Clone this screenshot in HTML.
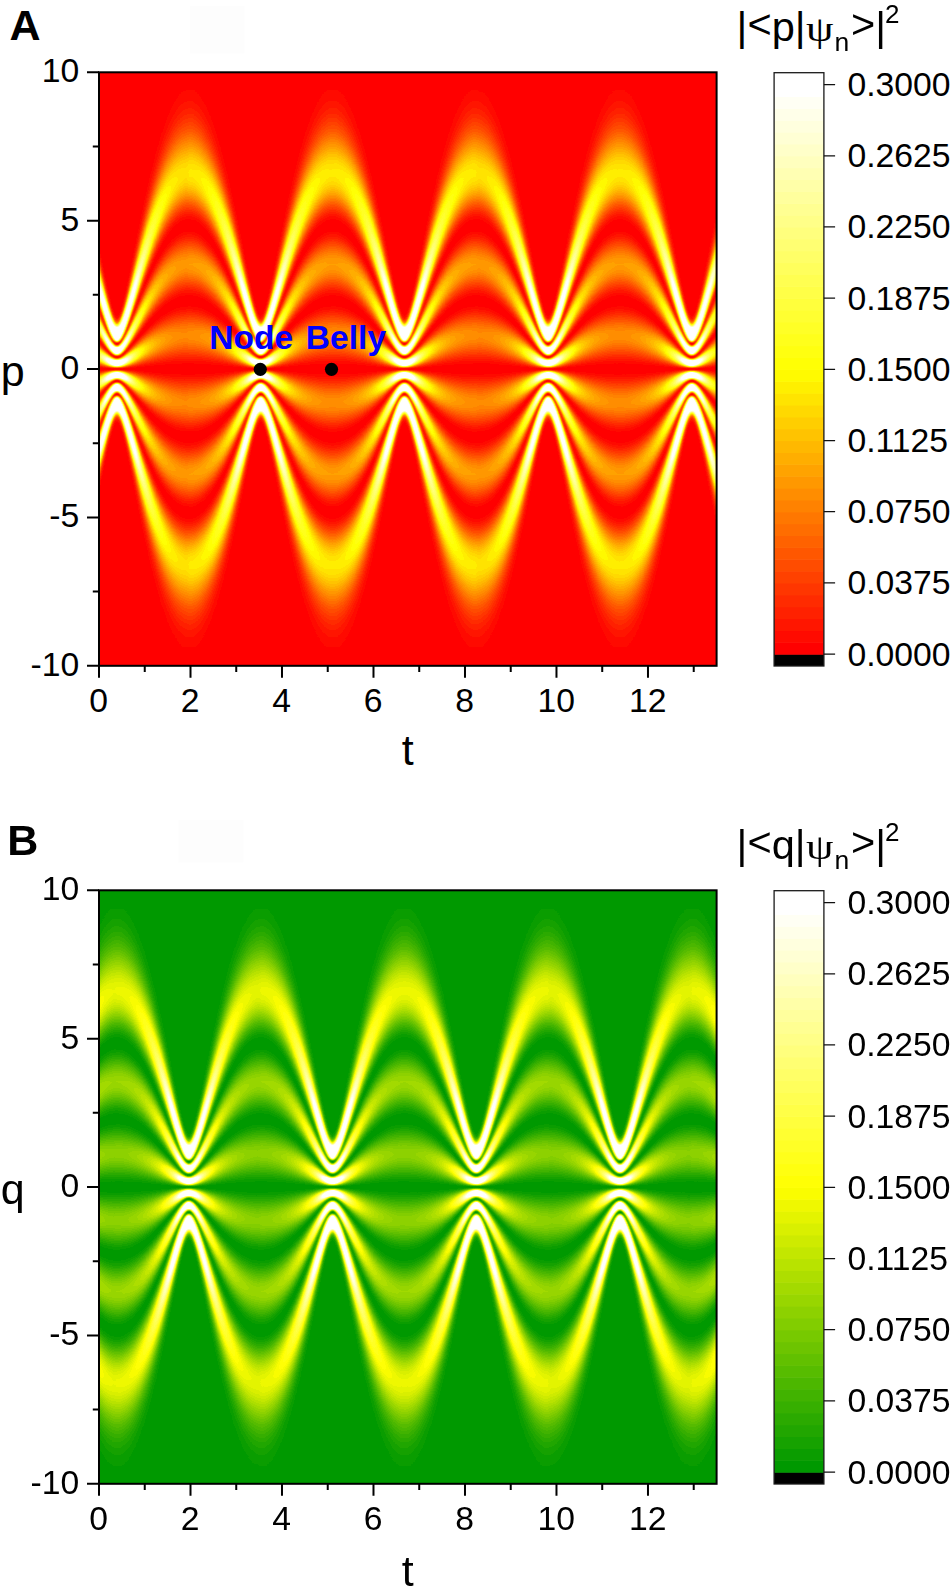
<!DOCTYPE html>
<html lang="en"><head><meta charset="utf-8"><title>Figure</title>
<style>html,body{margin:0;padding:0;background:#fff}svg{display:block}</style></head>
<body>
<svg width="952" height="1589" viewBox="0 0 952 1589" font-family="'Liberation Sans',Arial,sans-serif" fill="#000">
<defs>
<linearGradient id="g0" gradientUnits="userSpaceOnUse" x1="0" y1="0" x2="0" y2="-296.750" spreadMethod="reflect"><stop offset="0" stop-color="#000000"/><stop offset=".012" stop-color="#020202"/><stop offset=".0185" stop-color="#040404"/><stop offset=".025" stop-color="#080808"/><stop offset=".04" stop-color="#131313"/><stop offset=".071" stop-color="#2f2f2f"/><stop offset=".0845" stop-color="#393939"/><stop offset=".092" stop-color="#3e3e3e"/><stop offset=".0995" stop-color="#414141"/><stop offset=".107" stop-color="#434343"/><stop offset=".114" stop-color="#444444"/><stop offset=".121" stop-color="#434343"/><stop offset=".1285" stop-color="#414141"/><stop offset=".136" stop-color="#3e3e3e"/><stop offset=".1435" stop-color="#3a3a3a"/><stop offset=".1575" stop-color="#2f2f2f"/><stop offset=".1905" stop-color="#121212"/><stop offset=".199" stop-color="#0b0b0b"/><stop offset=".207" stop-color="#060606"/><stop offset=".215" stop-color="#030303"/><stop offset=".223" stop-color="#010101"/><stop offset=".2305" stop-color="#000000"/><stop offset=".2385" stop-color="#010101"/><stop offset=".245" stop-color="#030303"/><stop offset=".2515" stop-color="#060606"/><stop offset=".265" stop-color="#0e0e0e"/><stop offset=".278" stop-color="#191919"/><stop offset=".308" stop-color="#343434"/><stop offset=".324" stop-color="#414141"/><stop offset=".332" stop-color="#454545"/><stop offset=".3395" stop-color="#484848"/><stop offset=".347" stop-color="#4a4a4a"/><stop offset=".354" stop-color="#4b4b4b"/><stop offset=".3615" stop-color="#4a4a4a"/><stop offset=".3695" stop-color="#484848"/><stop offset=".378" stop-color="#444444"/><stop offset=".3865" stop-color="#3f3f3f"/><stop offset=".402" stop-color="#343434"/><stop offset=".4385" stop-color="#141414"/><stop offset=".4485" stop-color="#0d0d0d"/><stop offset=".4575" stop-color="#070707"/><stop offset=".4665" stop-color="#030303"/><stop offset=".4755" stop-color="#010101"/><stop offset=".4845" stop-color="#000000"/><stop offset=".493" stop-color="#010101"/><stop offset=".5015" stop-color="#030303"/><stop offset=".5105" stop-color="#070707"/><stop offset=".5195" stop-color="#0c0c0c"/><stop offset=".529" stop-color="#131313"/><stop offset=".5465" stop-color="#222222"/><stop offset=".5895" stop-color="#4c4c4c"/><stop offset=".602" stop-color="#575757"/><stop offset=".6135" stop-color="#5f5f5f"/><stop offset=".6255" stop-color="#666666"/><stop offset=".6375" stop-color="#6b6b6b"/><stop offset=".6495" stop-color="#6e6e6e"/><stop offset=".6615" stop-color="#6f6f6f"/><stop offset=".672" stop-color="#6e6e6e"/><stop offset=".683" stop-color="#6c6c6c"/><stop offset=".6945" stop-color="#686868"/><stop offset=".7065" stop-color="#636363"/><stop offset=".729" stop-color="#575757"/><stop offset=".779" stop-color="#393939"/><stop offset=".803" stop-color="#2b2b2b"/><stop offset=".8295" stop-color="#1f1f1f"/><stop offset=".8555" stop-color="#151515"/><stop offset=".885" stop-color="#0d0d0d"/><stop offset=".9175" stop-color="#070707"/><stop offset=".9545" stop-color="#030303"/><stop offset="1" stop-color="#010101"/></linearGradient>
<linearGradient id="g1" gradientUnits="userSpaceOnUse" x1="0" y1="0" x2="0" y2="-296.750" spreadMethod="reflect"><stop offset="0" stop-color="#000000"/><stop offset=".012" stop-color="#020202"/><stop offset=".0185" stop-color="#040404"/><stop offset=".025" stop-color="#080808"/><stop offset=".04" stop-color="#131313"/><stop offset=".0705" stop-color="#2e2e2e"/><stop offset=".0845" stop-color="#393939"/><stop offset=".092" stop-color="#3e3e3e"/><stop offset=".0995" stop-color="#414141"/><stop offset=".107" stop-color="#434343"/><stop offset=".114" stop-color="#444444"/><stop offset=".121" stop-color="#434343"/><stop offset=".1285" stop-color="#414141"/><stop offset=".136" stop-color="#3e3e3e"/><stop offset=".1435" stop-color="#3a3a3a"/><stop offset=".1575" stop-color="#2f2f2f"/><stop offset=".19" stop-color="#121212"/><stop offset=".1985" stop-color="#0b0b0b"/><stop offset=".2065" stop-color="#070707"/><stop offset=".2145" stop-color="#030303"/><stop offset=".2225" stop-color="#010101"/><stop offset=".2305" stop-color="#000000"/><stop offset=".2385" stop-color="#010101"/><stop offset=".245" stop-color="#030303"/><stop offset=".2515" stop-color="#060606"/><stop offset=".265" stop-color="#0e0e0e"/><stop offset=".2775" stop-color="#181818"/><stop offset=".308" stop-color="#353535"/><stop offset=".324" stop-color="#414141"/><stop offset=".332" stop-color="#454545"/><stop offset=".3395" stop-color="#484848"/><stop offset=".347" stop-color="#4a4a4a"/><stop offset=".354" stop-color="#4b4b4b"/><stop offset=".3615" stop-color="#4a4a4a"/><stop offset=".3695" stop-color="#484848"/><stop offset=".378" stop-color="#444444"/><stop offset=".3865" stop-color="#3f3f3f"/><stop offset=".402" stop-color="#343434"/><stop offset=".438" stop-color="#141414"/><stop offset=".448" stop-color="#0d0d0d"/><stop offset=".457" stop-color="#080808"/><stop offset=".4665" stop-color="#030303"/><stop offset=".4755" stop-color="#010101"/><stop offset=".4845" stop-color="#000000"/><stop offset=".493" stop-color="#010101"/><stop offset=".5015" stop-color="#030303"/><stop offset=".5105" stop-color="#070707"/><stop offset=".5195" stop-color="#0c0c0c"/><stop offset=".529" stop-color="#131313"/><stop offset=".546" stop-color="#222222"/><stop offset=".5895" stop-color="#4c4c4c"/><stop offset=".602" stop-color="#575757"/><stop offset=".6135" stop-color="#5f5f5f"/><stop offset=".6255" stop-color="#666666"/><stop offset=".6375" stop-color="#6b6b6b"/><stop offset=".649" stop-color="#6e6e6e"/><stop offset=".661" stop-color="#6f6f6f"/><stop offset=".6715" stop-color="#6e6e6e"/><stop offset=".6825" stop-color="#6c6c6c"/><stop offset=".694" stop-color="#686868"/><stop offset=".706" stop-color="#636363"/><stop offset=".7285" stop-color="#575757"/><stop offset=".7785" stop-color="#393939"/><stop offset=".8025" stop-color="#2b2b2b"/><stop offset=".829" stop-color="#1f1f1f"/><stop offset=".8555" stop-color="#151515"/><stop offset=".885" stop-color="#0d0d0d"/><stop offset=".9175" stop-color="#070707"/><stop offset=".9545" stop-color="#030303"/><stop offset="1" stop-color="#010101"/></linearGradient>
<linearGradient id="g2" gradientUnits="userSpaceOnUse" x1="0" y1="0" x2="0" y2="-296.750" spreadMethod="reflect"><stop offset="0" stop-color="#000000"/><stop offset=".007" stop-color="#010101"/><stop offset=".014" stop-color="#020202"/><stop offset=".0215" stop-color="#060606"/><stop offset=".029" stop-color="#0a0a0a"/><stop offset=".043" stop-color="#151515"/><stop offset=".074" stop-color="#313131"/><stop offset=".089" stop-color="#3c3c3c"/><stop offset=".1015" stop-color="#424242"/><stop offset=".108" stop-color="#434343"/><stop offset=".114" stop-color="#444444"/><stop offset=".121" stop-color="#434343"/><stop offset=".1285" stop-color="#414141"/><stop offset=".136" stop-color="#3e3e3e"/><stop offset=".1435" stop-color="#393939"/><stop offset=".1575" stop-color="#2f2f2f"/><stop offset=".19" stop-color="#121212"/><stop offset=".1985" stop-color="#0b0b0b"/><stop offset=".2065" stop-color="#060606"/><stop offset=".2145" stop-color="#030303"/><stop offset=".2225" stop-color="#010101"/><stop offset=".2305" stop-color="#000000"/><stop offset=".2385" stop-color="#010101"/><stop offset=".245" stop-color="#030303"/><stop offset=".2515" stop-color="#060606"/><stop offset=".265" stop-color="#0e0e0e"/><stop offset=".2775" stop-color="#191919"/><stop offset=".3075" stop-color="#353535"/><stop offset=".3235" stop-color="#414141"/><stop offset=".3315" stop-color="#454545"/><stop offset=".339" stop-color="#484848"/><stop offset=".3465" stop-color="#4a4a4a"/><stop offset=".3535" stop-color="#4b4b4b"/><stop offset=".361" stop-color="#4a4a4a"/><stop offset=".369" stop-color="#484848"/><stop offset=".3775" stop-color="#444444"/><stop offset=".386" stop-color="#3f3f3f"/><stop offset=".4015" stop-color="#343434"/><stop offset=".4375" stop-color="#141414"/><stop offset=".4475" stop-color="#0d0d0d"/><stop offset=".4565" stop-color="#080808"/><stop offset=".466" stop-color="#030303"/><stop offset=".475" stop-color="#010101"/><stop offset=".484" stop-color="#000000"/><stop offset=".4925" stop-color="#010101"/><stop offset=".501" stop-color="#030303"/><stop offset=".5095" stop-color="#060606"/><stop offset=".5185" stop-color="#0c0c0c"/><stop offset=".528" stop-color="#121212"/><stop offset=".5455" stop-color="#222222"/><stop offset=".589" stop-color="#4c4c4c"/><stop offset=".6015" stop-color="#575757"/><stop offset=".613" stop-color="#5f5f5f"/><stop offset=".625" stop-color="#666666"/><stop offset=".637" stop-color="#6b6b6b"/><stop offset=".6485" stop-color="#6e6e6e"/><stop offset=".6605" stop-color="#6f6f6f"/><stop offset=".671" stop-color="#6e6e6e"/><stop offset=".682" stop-color="#6c6c6c"/><stop offset=".6935" stop-color="#686868"/><stop offset=".7055" stop-color="#636363"/><stop offset=".728" stop-color="#575757"/><stop offset=".778" stop-color="#393939"/><stop offset=".802" stop-color="#2b2b2b"/><stop offset=".8285" stop-color="#1f1f1f"/><stop offset=".8545" stop-color="#151515"/><stop offset=".8845" stop-color="#0d0d0d"/><stop offset=".917" stop-color="#070707"/><stop offset=".954" stop-color="#030303"/><stop offset="1" stop-color="#010101"/></linearGradient>
<linearGradient id="g3" gradientUnits="userSpaceOnUse" x1="0" y1="0" x2="0" y2="-296.750" spreadMethod="reflect"><stop offset="0" stop-color="#000000"/><stop offset=".007" stop-color="#010101"/><stop offset=".014" stop-color="#030303"/><stop offset=".0215" stop-color="#060606"/><stop offset=".029" stop-color="#0a0a0a"/><stop offset=".043" stop-color="#151515"/><stop offset=".074" stop-color="#313131"/><stop offset=".089" stop-color="#3c3c3c"/><stop offset=".1015" stop-color="#424242"/><stop offset=".108" stop-color="#434343"/><stop offset=".114" stop-color="#444444"/><stop offset=".121" stop-color="#434343"/><stop offset=".1285" stop-color="#414141"/><stop offset=".136" stop-color="#3e3e3e"/><stop offset=".1435" stop-color="#393939"/><stop offset=".1575" stop-color="#2f2f2f"/><stop offset=".1895" stop-color="#121212"/><stop offset=".198" stop-color="#0c0c0c"/><stop offset=".206" stop-color="#070707"/><stop offset=".214" stop-color="#030303"/><stop offset=".222" stop-color="#010101"/><stop offset=".23" stop-color="#000000"/><stop offset=".238" stop-color="#010101"/><stop offset=".2445" stop-color="#030303"/><stop offset=".251" stop-color="#060606"/><stop offset=".2645" stop-color="#0e0e0e"/><stop offset=".277" stop-color="#191919"/><stop offset=".3075" stop-color="#353535"/><stop offset=".323" stop-color="#414141"/><stop offset=".331" stop-color="#454545"/><stop offset=".3385" stop-color="#484848"/><stop offset=".346" stop-color="#4a4a4a"/><stop offset=".353" stop-color="#4b4b4b"/><stop offset=".3605" stop-color="#4a4a4a"/><stop offset=".3685" stop-color="#484848"/><stop offset=".377" stop-color="#444444"/><stop offset=".3855" stop-color="#3f3f3f"/><stop offset=".401" stop-color="#343434"/><stop offset=".437" stop-color="#141414"/><stop offset=".447" stop-color="#0d0d0d"/><stop offset=".456" stop-color="#080808"/><stop offset=".465" stop-color="#030303"/><stop offset=".474" stop-color="#010101"/><stop offset=".483" stop-color="#000000"/><stop offset=".4915" stop-color="#010101"/><stop offset=".5" stop-color="#030303"/><stop offset=".509" stop-color="#070707"/><stop offset=".518" stop-color="#0c0c0c"/><stop offset=".5275" stop-color="#131313"/><stop offset=".545" stop-color="#222222"/><stop offset=".588" stop-color="#4c4c4c"/><stop offset=".6005" stop-color="#575757"/><stop offset=".612" stop-color="#5f5f5f"/><stop offset=".624" stop-color="#666666"/><stop offset=".636" stop-color="#6b6b6b"/><stop offset=".6475" stop-color="#6e6e6e"/><stop offset=".6595" stop-color="#6f6f6f"/><stop offset=".67" stop-color="#6e6e6e"/><stop offset=".681" stop-color="#6c6c6c"/><stop offset=".6925" stop-color="#696969"/><stop offset=".7045" stop-color="#646464"/><stop offset=".727" stop-color="#585858"/><stop offset=".777" stop-color="#393939"/><stop offset=".801" stop-color="#2b2b2b"/><stop offset=".8275" stop-color="#1f1f1f"/><stop offset=".854" stop-color="#151515"/><stop offset=".884" stop-color="#0d0d0d"/><stop offset=".9165" stop-color="#070707"/><stop offset=".954" stop-color="#030303"/><stop offset="1" stop-color="#010101"/></linearGradient>
<linearGradient id="g4" gradientUnits="userSpaceOnUse" x1="0" y1="0" x2="0" y2="-296.750" spreadMethod="reflect"><stop offset="0" stop-color="#000000"/><stop offset=".006" stop-color="#000000"/><stop offset=".012" stop-color="#020202"/><stop offset=".0185" stop-color="#040404"/><stop offset=".025" stop-color="#080808"/><stop offset=".0395" stop-color="#121212"/><stop offset=".0705" stop-color="#2f2f2f"/><stop offset=".0845" stop-color="#3a3a3a"/><stop offset=".092" stop-color="#3e3e3e"/><stop offset=".0995" stop-color="#414141"/><stop offset=".1065" stop-color="#434343"/><stop offset=".1135" stop-color="#444444"/><stop offset=".1205" stop-color="#434343"/><stop offset=".128" stop-color="#414141"/><stop offset=".1355" stop-color="#3e3e3e"/><stop offset=".143" stop-color="#3a3a3a"/><stop offset=".157" stop-color="#2f2f2f"/><stop offset=".1895" stop-color="#121212"/><stop offset=".198" stop-color="#0b0b0b"/><stop offset=".206" stop-color="#060606"/><stop offset=".214" stop-color="#030303"/><stop offset=".222" stop-color="#010101"/><stop offset=".2295" stop-color="#000000"/><stop offset=".2375" stop-color="#010101"/><stop offset=".244" stop-color="#030303"/><stop offset=".2505" stop-color="#060606"/><stop offset=".264" stop-color="#0e0e0e"/><stop offset=".2765" stop-color="#191919"/><stop offset=".307" stop-color="#353535"/><stop offset=".3225" stop-color="#414141"/><stop offset=".3305" stop-color="#454545"/><stop offset=".338" stop-color="#494949"/><stop offset=".3455" stop-color="#4a4a4a"/><stop offset=".3525" stop-color="#4b4b4b"/><stop offset=".36" stop-color="#4a4a4a"/><stop offset=".368" stop-color="#484848"/><stop offset=".376" stop-color="#454545"/><stop offset=".3845" stop-color="#404040"/><stop offset=".4" stop-color="#343434"/><stop offset=".4365" stop-color="#141414"/><stop offset=".446" stop-color="#0d0d0d"/><stop offset=".455" stop-color="#080808"/><stop offset=".464" stop-color="#040404"/><stop offset=".473" stop-color="#010101"/><stop offset=".482" stop-color="#000000"/><stop offset=".4905" stop-color="#010101"/><stop offset=".499" stop-color="#030303"/><stop offset=".508" stop-color="#070707"/><stop offset=".517" stop-color="#0c0c0c"/><stop offset=".5265" stop-color="#131313"/><stop offset=".544" stop-color="#222222"/><stop offset=".587" stop-color="#4d4d4d"/><stop offset=".5995" stop-color="#575757"/><stop offset=".611" stop-color="#606060"/><stop offset=".623" stop-color="#666666"/><stop offset=".635" stop-color="#6b6b6b"/><stop offset=".6465" stop-color="#6e6e6e"/><stop offset=".6585" stop-color="#6f6f6f"/><stop offset=".669" stop-color="#6e6e6e"/><stop offset=".6795" stop-color="#6c6c6c"/><stop offset=".691" stop-color="#696969"/><stop offset=".703" stop-color="#646464"/><stop offset=".7255" stop-color="#585858"/><stop offset=".7755" stop-color="#393939"/><stop offset=".7995" stop-color="#2b2b2b"/><stop offset=".826" stop-color="#1f1f1f"/><stop offset=".8525" stop-color="#151515"/><stop offset=".8825" stop-color="#0d0d0d"/><stop offset=".9155" stop-color="#070707"/><stop offset=".953" stop-color="#030303"/><stop offset="1" stop-color="#010101"/></linearGradient>
<linearGradient id="g5" gradientUnits="userSpaceOnUse" x1="0" y1="0" x2="0" y2="-296.750" spreadMethod="reflect"><stop offset="0" stop-color="#000000"/><stop offset=".007" stop-color="#010101"/><stop offset=".014" stop-color="#030303"/><stop offset=".0215" stop-color="#060606"/><stop offset=".029" stop-color="#0a0a0a"/><stop offset=".043" stop-color="#161616"/><stop offset=".0735" stop-color="#313131"/><stop offset=".0885" stop-color="#3c3c3c"/><stop offset=".101" stop-color="#424242"/><stop offset=".1075" stop-color="#444444"/><stop offset=".1135" stop-color="#444444"/><stop offset=".1205" stop-color="#444444"/><stop offset=".1275" stop-color="#424242"/><stop offset=".135" stop-color="#3e3e3e"/><stop offset=".1425" stop-color="#3a3a3a"/><stop offset=".1565" stop-color="#2f2f2f"/><stop offset=".189" stop-color="#121212"/><stop offset=".1975" stop-color="#0b0b0b"/><stop offset=".2055" stop-color="#060606"/><stop offset=".2135" stop-color="#030303"/><stop offset=".2215" stop-color="#010101"/><stop offset=".229" stop-color="#000000"/><stop offset=".237" stop-color="#010101"/><stop offset=".2495" stop-color="#050505"/><stop offset=".263" stop-color="#0e0e0e"/><stop offset=".276" stop-color="#191919"/><stop offset=".306" stop-color="#353535"/><stop offset=".3215" stop-color="#414141"/><stop offset=".3295" stop-color="#464646"/><stop offset=".337" stop-color="#494949"/><stop offset=".3445" stop-color="#4b4b4b"/><stop offset=".3515" stop-color="#4b4b4b"/><stop offset=".359" stop-color="#4a4a4a"/><stop offset=".367" stop-color="#484848"/><stop offset=".375" stop-color="#454545"/><stop offset=".3835" stop-color="#404040"/><stop offset=".399" stop-color="#343434"/><stop offset=".4355" stop-color="#141414"/><stop offset=".445" stop-color="#0d0d0d"/><stop offset=".454" stop-color="#080808"/><stop offset=".463" stop-color="#040404"/><stop offset=".472" stop-color="#010101"/><stop offset=".481" stop-color="#000000"/><stop offset=".4895" stop-color="#010101"/><stop offset=".498" stop-color="#030303"/><stop offset=".5065" stop-color="#060606"/><stop offset=".5155" stop-color="#0c0c0c"/><stop offset=".525" stop-color="#131313"/><stop offset=".5425" stop-color="#222222"/><stop offset=".5855" stop-color="#4d4d4d"/><stop offset=".598" stop-color="#575757"/><stop offset=".6095" stop-color="#606060"/><stop offset=".6215" stop-color="#676767"/><stop offset=".6335" stop-color="#6c6c6c"/><stop offset=".645" stop-color="#6f6f6f"/><stop offset=".657" stop-color="#6f6f6f"/><stop offset=".6675" stop-color="#6f6f6f"/><stop offset=".678" stop-color="#6d6d6d"/><stop offset=".6895" stop-color="#696969"/><stop offset=".7015" stop-color="#646464"/><stop offset=".724" stop-color="#585858"/><stop offset=".7735" stop-color="#393939"/><stop offset=".798" stop-color="#2b2b2b"/><stop offset=".8245" stop-color="#1f1f1f"/><stop offset=".851" stop-color="#151515"/><stop offset=".8815" stop-color="#0c0c0c"/><stop offset=".9145" stop-color="#070707"/><stop offset=".9525" stop-color="#030303"/><stop offset="1" stop-color="#010101"/></linearGradient>
<linearGradient id="g6" gradientUnits="userSpaceOnUse" x1="0" y1="0" x2="0" y2="-296.750" spreadMethod="reflect"><stop offset="0" stop-color="#000000"/><stop offset=".006" stop-color="#000000"/><stop offset=".012" stop-color="#020202"/><stop offset=".0185" stop-color="#040404"/><stop offset=".025" stop-color="#080808"/><stop offset=".0395" stop-color="#131313"/><stop offset=".07" stop-color="#2f2f2f"/><stop offset=".084" stop-color="#3a3a3a"/><stop offset=".0915" stop-color="#3e3e3e"/><stop offset=".099" stop-color="#424242"/><stop offset=".106" stop-color="#444444"/><stop offset=".113" stop-color="#444444"/><stop offset=".12" stop-color="#444444"/><stop offset=".127" stop-color="#424242"/><stop offset=".1345" stop-color="#3f3f3f"/><stop offset=".142" stop-color="#3a3a3a"/><stop offset=".156" stop-color="#2f2f2f"/><stop offset=".1885" stop-color="#121212"/><stop offset=".197" stop-color="#0b0b0b"/><stop offset=".205" stop-color="#060606"/><stop offset=".213" stop-color="#030303"/><stop offset=".221" stop-color="#010101"/><stop offset=".2285" stop-color="#000000"/><stop offset=".2365" stop-color="#010101"/><stop offset=".249" stop-color="#060606"/><stop offset=".2625" stop-color="#0e0e0e"/><stop offset=".275" stop-color="#191919"/><stop offset=".305" stop-color="#353535"/><stop offset=".3205" stop-color="#414141"/><stop offset=".3285" stop-color="#464646"/><stop offset=".336" stop-color="#494949"/><stop offset=".3435" stop-color="#4b4b4b"/><stop offset=".3505" stop-color="#4b4b4b"/><stop offset=".358" stop-color="#4b4b4b"/><stop offset=".366" stop-color="#494949"/><stop offset=".374" stop-color="#454545"/><stop offset=".3825" stop-color="#404040"/><stop offset=".398" stop-color="#343434"/><stop offset=".4345" stop-color="#141414"/><stop offset=".444" stop-color="#0d0d0d"/><stop offset=".453" stop-color="#080808"/><stop offset=".462" stop-color="#030303"/><stop offset=".471" stop-color="#010101"/><stop offset=".4795" stop-color="#000000"/><stop offset=".488" stop-color="#010101"/><stop offset=".4965" stop-color="#030303"/><stop offset=".505" stop-color="#060606"/><stop offset=".514" stop-color="#0c0c0c"/><stop offset=".5235" stop-color="#131313"/><stop offset=".541" stop-color="#222222"/><stop offset=".584" stop-color="#4d4d4d"/><stop offset=".5965" stop-color="#585858"/><stop offset=".608" stop-color="#606060"/><stop offset=".62" stop-color="#676767"/><stop offset=".6315" stop-color="#6c6c6c"/><stop offset=".643" stop-color="#6f6f6f"/><stop offset=".655" stop-color="#707070"/><stop offset=".6655" stop-color="#6f6f6f"/><stop offset=".676" stop-color="#6d6d6d"/><stop offset=".6875" stop-color="#696969"/><stop offset=".6995" stop-color="#646464"/><stop offset=".7215" stop-color="#585858"/><stop offset=".7715" stop-color="#393939"/><stop offset=".796" stop-color="#2b2b2b"/><stop offset=".823" stop-color="#1e1e1e"/><stop offset=".8495" stop-color="#141414"/><stop offset=".88" stop-color="#0c0c0c"/><stop offset=".9135" stop-color="#070707"/><stop offset=".952" stop-color="#030303"/><stop offset="1" stop-color="#010101"/></linearGradient>
<linearGradient id="g7" gradientUnits="userSpaceOnUse" x1="0" y1="0" x2="0" y2="-296.750" spreadMethod="reflect"><stop offset="0" stop-color="#000000"/><stop offset=".006" stop-color="#000000"/><stop offset=".012" stop-color="#020202"/><stop offset=".0245" stop-color="#080808"/><stop offset=".039" stop-color="#121212"/><stop offset=".07" stop-color="#2f2f2f"/><stop offset=".0835" stop-color="#3a3a3a"/><stop offset=".091" stop-color="#3f3f3f"/><stop offset=".0985" stop-color="#424242"/><stop offset=".1055" stop-color="#444444"/><stop offset=".1125" stop-color="#454545"/><stop offset=".1195" stop-color="#444444"/><stop offset=".1265" stop-color="#424242"/><stop offset=".134" stop-color="#3f3f3f"/><stop offset=".1415" stop-color="#3a3a3a"/><stop offset=".1555" stop-color="#2f2f2f"/><stop offset=".1875" stop-color="#121212"/><stop offset=".196" stop-color="#0c0c0c"/><stop offset=".204" stop-color="#070707"/><stop offset=".212" stop-color="#030303"/><stop offset=".22" stop-color="#010101"/><stop offset=".2275" stop-color="#000000"/><stop offset=".2355" stop-color="#010101"/><stop offset=".2415" stop-color="#030303"/><stop offset=".248" stop-color="#050505"/><stop offset=".2615" stop-color="#0e0e0e"/><stop offset=".274" stop-color="#191919"/><stop offset=".304" stop-color="#353535"/><stop offset=".3195" stop-color="#414141"/><stop offset=".3275" stop-color="#464646"/><stop offset=".335" stop-color="#494949"/><stop offset=".3425" stop-color="#4b4b4b"/><stop offset=".3495" stop-color="#4c4c4c"/><stop offset=".357" stop-color="#4b4b4b"/><stop offset=".365" stop-color="#494949"/><stop offset=".373" stop-color="#454545"/><stop offset=".3815" stop-color="#404040"/><stop offset=".3965" stop-color="#353535"/><stop offset=".433" stop-color="#141414"/><stop offset=".4425" stop-color="#0d0d0d"/><stop offset=".4515" stop-color="#080808"/><stop offset=".4605" stop-color="#030303"/><stop offset=".4695" stop-color="#010101"/><stop offset=".478" stop-color="#000000"/><stop offset=".4865" stop-color="#010101"/><stop offset=".495" stop-color="#030303"/><stop offset=".5035" stop-color="#060606"/><stop offset=".5125" stop-color="#0c0c0c"/><stop offset=".522" stop-color="#131313"/><stop offset=".539" stop-color="#222222"/><stop offset=".582" stop-color="#4d4d4d"/><stop offset=".5945" stop-color="#585858"/><stop offset=".606" stop-color="#606060"/><stop offset=".618" stop-color="#676767"/><stop offset=".6295" stop-color="#6c6c6c"/><stop offset=".641" stop-color="#6f6f6f"/><stop offset=".653" stop-color="#707070"/><stop offset=".6635" stop-color="#6f6f6f"/><stop offset=".674" stop-color="#6d6d6d"/><stop offset=".685" stop-color="#6a6a6a"/><stop offset=".697" stop-color="#656565"/><stop offset=".719" stop-color="#595959"/><stop offset=".7695" stop-color="#393939"/><stop offset=".794" stop-color="#2b2b2b"/><stop offset=".821" stop-color="#1e1e1e"/><stop offset=".8475" stop-color="#141414"/><stop offset=".878" stop-color="#0c0c0c"/><stop offset=".912" stop-color="#060606"/><stop offset=".951" stop-color="#030303"/><stop offset="1" stop-color="#010101"/></linearGradient>
<linearGradient id="g8" gradientUnits="userSpaceOnUse" x1="0" y1="0" x2="0" y2="-296.750" spreadMethod="reflect"><stop offset="0" stop-color="#000000"/><stop offset=".007" stop-color="#010101"/><stop offset=".014" stop-color="#030303"/><stop offset=".0215" stop-color="#060606"/><stop offset=".029" stop-color="#0b0b0b"/><stop offset=".0425" stop-color="#161616"/><stop offset=".073" stop-color="#323232"/><stop offset=".0875" stop-color="#3d3d3d"/><stop offset=".094" stop-color="#404040"/><stop offset=".1005" stop-color="#434343"/><stop offset=".1065" stop-color="#444444"/><stop offset=".1125" stop-color="#454545"/><stop offset=".1195" stop-color="#444444"/><stop offset=".1265" stop-color="#424242"/><stop offset=".134" stop-color="#3f3f3f"/><stop offset=".1415" stop-color="#3a3a3a"/><stop offset=".155" stop-color="#303030"/><stop offset=".187" stop-color="#121212"/><stop offset=".1955" stop-color="#0c0c0c"/><stop offset=".2035" stop-color="#060606"/><stop offset=".2115" stop-color="#030303"/><stop offset=".219" stop-color="#010101"/><stop offset=".2265" stop-color="#000000"/><stop offset=".2345" stop-color="#010101"/><stop offset=".2405" stop-color="#030303"/><stop offset=".247" stop-color="#050505"/><stop offset=".2605" stop-color="#0e0e0e"/><stop offset=".273" stop-color="#191919"/><stop offset=".303" stop-color="#353535"/><stop offset=".3185" stop-color="#424242"/><stop offset=".326" stop-color="#464646"/><stop offset=".3335" stop-color="#494949"/><stop offset=".341" stop-color="#4b4b4b"/><stop offset=".348" stop-color="#4c4c4c"/><stop offset=".3555" stop-color="#4b4b4b"/><stop offset=".3635" stop-color="#494949"/><stop offset=".3715" stop-color="#464646"/><stop offset=".38" stop-color="#404040"/><stop offset=".395" stop-color="#353535"/><stop offset=".4315" stop-color="#141414"/><stop offset=".441" stop-color="#0d0d0d"/><stop offset=".45" stop-color="#080808"/><stop offset=".459" stop-color="#030303"/><stop offset=".4675" stop-color="#010101"/><stop offset=".4765" stop-color="#000000"/><stop offset=".485" stop-color="#010101"/><stop offset=".4935" stop-color="#030303"/><stop offset=".502" stop-color="#070707"/><stop offset=".511" stop-color="#0c0c0c"/><stop offset=".52" stop-color="#131313"/><stop offset=".537" stop-color="#222222"/><stop offset=".58" stop-color="#4d4d4d"/><stop offset=".592" stop-color="#585858"/><stop offset=".6035" stop-color="#616161"/><stop offset=".6155" stop-color="#686868"/><stop offset=".627" stop-color="#6d6d6d"/><stop offset=".6385" stop-color="#707070"/><stop offset=".6505" stop-color="#717171"/><stop offset=".661" stop-color="#707070"/><stop offset=".6715" stop-color="#6e6e6e"/><stop offset=".6825" stop-color="#6a6a6a"/><stop offset=".6945" stop-color="#656565"/><stop offset=".7165" stop-color="#595959"/><stop offset=".7665" stop-color="#393939"/><stop offset=".791" stop-color="#2b2b2b"/><stop offset=".818" stop-color="#1e1e1e"/><stop offset=".845" stop-color="#141414"/><stop offset=".876" stop-color="#0c0c0c"/><stop offset=".91" stop-color="#060606"/><stop offset=".9495" stop-color="#030303"/><stop offset="1" stop-color="#010101"/></linearGradient>
<linearGradient id="g9" gradientUnits="userSpaceOnUse" x1="0" y1="0" x2="0" y2="-296.750" spreadMethod="reflect"><stop offset="0" stop-color="#000000"/><stop offset=".007" stop-color="#010101"/><stop offset=".014" stop-color="#030303"/><stop offset=".021" stop-color="#060606"/><stop offset=".0285" stop-color="#0b0b0b"/><stop offset=".042" stop-color="#151515"/><stop offset=".0725" stop-color="#323232"/><stop offset=".087" stop-color="#3d3d3d"/><stop offset=".0935" stop-color="#414141"/><stop offset=".1" stop-color="#434343"/><stop offset=".106" stop-color="#454545"/><stop offset=".112" stop-color="#454545"/><stop offset=".119" stop-color="#444444"/><stop offset=".126" stop-color="#434343"/><stop offset=".133" stop-color="#3f3f3f"/><stop offset=".1405" stop-color="#3b3b3b"/><stop offset=".1545" stop-color="#303030"/><stop offset=".186" stop-color="#121212"/><stop offset=".1945" stop-color="#0c0c0c"/><stop offset=".2025" stop-color="#070707"/><stop offset=".2105" stop-color="#030303"/><stop offset=".218" stop-color="#010101"/><stop offset=".2255" stop-color="#000000"/><stop offset=".2335" stop-color="#010101"/><stop offset=".2395" stop-color="#030303"/><stop offset=".246" stop-color="#050505"/><stop offset=".2595" stop-color="#0e0e0e"/><stop offset=".272" stop-color="#191919"/><stop offset=".3015" stop-color="#353535"/><stop offset=".317" stop-color="#424242"/><stop offset=".3245" stop-color="#464646"/><stop offset=".332" stop-color="#4a4a4a"/><stop offset=".3395" stop-color="#4c4c4c"/><stop offset=".3465" stop-color="#4c4c4c"/><stop offset=".354" stop-color="#4c4c4c"/><stop offset=".362" stop-color="#494949"/><stop offset=".37" stop-color="#464646"/><stop offset=".3785" stop-color="#414141"/><stop offset=".3935" stop-color="#353535"/><stop offset=".4295" stop-color="#151515"/><stop offset=".439" stop-color="#0d0d0d"/><stop offset=".448" stop-color="#080808"/><stop offset=".457" stop-color="#030303"/><stop offset=".4655" stop-color="#010101"/><stop offset=".4745" stop-color="#000000"/><stop offset=".483" stop-color="#010101"/><stop offset=".4915" stop-color="#030303"/><stop offset=".5" stop-color="#070707"/><stop offset=".5085" stop-color="#0c0c0c"/><stop offset=".518" stop-color="#131313"/><stop offset=".535" stop-color="#222222"/><stop offset=".5775" stop-color="#4e4e4e"/><stop offset=".5895" stop-color="#585858"/><stop offset=".601" stop-color="#616161"/><stop offset=".613" stop-color="#686868"/><stop offset=".6245" stop-color="#6d6d6d"/><stop offset=".636" stop-color="#707070"/><stop offset=".6475" stop-color="#717171"/><stop offset=".6575" stop-color="#707070"/><stop offset=".668" stop-color="#6e6e6e"/><stop offset=".679" stop-color="#6b6b6b"/><stop offset=".691" stop-color="#666666"/><stop offset=".7135" stop-color="#595959"/><stop offset=".7635" stop-color="#3a3a3a"/><stop offset=".788" stop-color="#2b2b2b"/><stop offset=".8155" stop-color="#1e1e1e"/><stop offset=".8425" stop-color="#141414"/><stop offset=".8735" stop-color="#0c0c0c"/><stop offset=".908" stop-color="#060606"/><stop offset=".9485" stop-color="#030303"/><stop offset="1" stop-color="#010101"/></linearGradient>
<linearGradient id="g10" gradientUnits="userSpaceOnUse" x1="0" y1="0" x2="0" y2="-296.750" spreadMethod="reflect"><stop offset="0" stop-color="#000000"/><stop offset=".007" stop-color="#010101"/><stop offset=".014" stop-color="#030303"/><stop offset=".021" stop-color="#060606"/><stop offset=".0285" stop-color="#0b0b0b"/><stop offset=".042" stop-color="#161616"/><stop offset=".0725" stop-color="#333333"/><stop offset=".087" stop-color="#3e3e3e"/><stop offset=".0935" stop-color="#414141"/><stop offset=".0995" stop-color="#444444"/><stop offset=".1055" stop-color="#454545"/><stop offset=".1115" stop-color="#454545"/><stop offset=".1185" stop-color="#454545"/><stop offset=".1255" stop-color="#434343"/><stop offset=".1325" stop-color="#404040"/><stop offset=".14" stop-color="#3b3b3b"/><stop offset=".1535" stop-color="#303030"/><stop offset=".1855" stop-color="#121212"/><stop offset=".194" stop-color="#0b0b0b"/><stop offset=".2015" stop-color="#070707"/><stop offset=".2095" stop-color="#030303"/><stop offset=".217" stop-color="#010101"/><stop offset=".2245" stop-color="#000000"/><stop offset=".2325" stop-color="#010101"/><stop offset=".2385" stop-color="#030303"/><stop offset=".245" stop-color="#060606"/><stop offset=".2585" stop-color="#0f0f0f"/><stop offset=".271" stop-color="#191919"/><stop offset=".3005" stop-color="#363636"/><stop offset=".3155" stop-color="#424242"/><stop offset=".323" stop-color="#474747"/><stop offset=".3305" stop-color="#4a4a4a"/><stop offset=".338" stop-color="#4c4c4c"/><stop offset=".345" stop-color="#4d4d4d"/><stop offset=".3525" stop-color="#4c4c4c"/><stop offset=".3605" stop-color="#4a4a4a"/><stop offset=".3685" stop-color="#464646"/><stop offset=".3765" stop-color="#414141"/><stop offset=".3915" stop-color="#353535"/><stop offset=".4275" stop-color="#151515"/><stop offset=".437" stop-color="#0d0d0d"/><stop offset=".4455" stop-color="#080808"/><stop offset=".4545" stop-color="#040404"/><stop offset=".4635" stop-color="#010101"/><stop offset=".472" stop-color="#000000"/><stop offset=".4805" stop-color="#010101"/><stop offset=".489" stop-color="#030303"/><stop offset=".4975" stop-color="#070707"/><stop offset=".506" stop-color="#0c0c0c"/><stop offset=".5155" stop-color="#131313"/><stop offset=".5325" stop-color="#232323"/><stop offset=".575" stop-color="#4e4e4e"/><stop offset=".587" stop-color="#595959"/><stop offset=".598" stop-color="#616161"/><stop offset=".61" stop-color="#696969"/><stop offset=".6215" stop-color="#6e6e6e"/><stop offset=".633" stop-color="#717171"/><stop offset=".6445" stop-color="#727272"/><stop offset=".6545" stop-color="#717171"/><stop offset=".665" stop-color="#6f6f6f"/><stop offset=".676" stop-color="#6b6b6b"/><stop offset=".688" stop-color="#666666"/><stop offset=".71" stop-color="#5a5a5a"/><stop offset=".76" stop-color="#3a3a3a"/><stop offset=".785" stop-color="#2b2b2b"/><stop offset=".812" stop-color="#1e1e1e"/><stop offset=".8395" stop-color="#141414"/><stop offset=".871" stop-color="#0b0b0b"/><stop offset=".906" stop-color="#060606"/><stop offset=".947" stop-color="#020202"/><stop offset="1" stop-color="#010101"/></linearGradient>
<linearGradient id="g11" gradientUnits="userSpaceOnUse" x1="0" y1="0" x2="0" y2="-296.750" spreadMethod="reflect"><stop offset="0" stop-color="#000000"/><stop offset=".006" stop-color="#010101"/><stop offset=".012" stop-color="#020202"/><stop offset=".018" stop-color="#040404"/><stop offset=".0245" stop-color="#080808"/><stop offset=".0385" stop-color="#131313"/><stop offset=".0685" stop-color="#303030"/><stop offset=".082" stop-color="#3b3b3b"/><stop offset=".0895" stop-color="#404040"/><stop offset=".0965" stop-color="#434343"/><stop offset=".1035" stop-color="#454545"/><stop offset=".1105" stop-color="#464646"/><stop offset=".1175" stop-color="#454545"/><stop offset=".1245" stop-color="#434343"/><stop offset=".1315" stop-color="#404040"/><stop offset=".139" stop-color="#3b3b3b"/><stop offset=".1525" stop-color="#303030"/><stop offset=".1845" stop-color="#121212"/><stop offset=".193" stop-color="#0c0c0c"/><stop offset=".2005" stop-color="#070707"/><stop offset=".2085" stop-color="#030303"/><stop offset=".216" stop-color="#010101"/><stop offset=".2235" stop-color="#000000"/><stop offset=".2315" stop-color="#010101"/><stop offset=".2375" stop-color="#030303"/><stop offset=".244" stop-color="#060606"/><stop offset=".257" stop-color="#0e0e0e"/><stop offset=".2695" stop-color="#191919"/><stop offset=".299" stop-color="#363636"/><stop offset=".314" stop-color="#434343"/><stop offset=".3215" stop-color="#474747"/><stop offset=".329" stop-color="#4a4a4a"/><stop offset=".3365" stop-color="#4c4c4c"/><stop offset=".3435" stop-color="#4d4d4d"/><stop offset=".351" stop-color="#4c4c4c"/><stop offset=".3585" stop-color="#4a4a4a"/><stop offset=".3665" stop-color="#464646"/><stop offset=".375" stop-color="#414141"/><stop offset=".39" stop-color="#353535"/><stop offset=".425" stop-color="#151515"/><stop offset=".4345" stop-color="#0e0e0e"/><stop offset=".4435" stop-color="#080808"/><stop offset=".4525" stop-color="#030303"/><stop offset=".461" stop-color="#010101"/><stop offset=".4695" stop-color="#000000"/><stop offset=".478" stop-color="#010101"/><stop offset=".4865" stop-color="#030303"/><stop offset=".495" stop-color="#070707"/><stop offset=".5035" stop-color="#0c0c0c"/><stop offset=".513" stop-color="#131313"/><stop offset=".53" stop-color="#232323"/><stop offset=".572" stop-color="#4f4f4f"/><stop offset=".584" stop-color="#595959"/><stop offset=".595" stop-color="#626262"/><stop offset=".607" stop-color="#696969"/><stop offset=".6185" stop-color="#6e6e6e"/><stop offset=".63" stop-color="#717171"/><stop offset=".6415" stop-color="#727272"/><stop offset=".6515" stop-color="#717171"/><stop offset=".662" stop-color="#6f6f6f"/><stop offset=".673" stop-color="#6c6c6c"/><stop offset=".6845" stop-color="#676767"/><stop offset=".706" stop-color="#5b5b5b"/><stop offset=".7565" stop-color="#3a3a3a"/><stop offset=".7815" stop-color="#2b2b2b"/><stop offset=".809" stop-color="#1e1e1e"/><stop offset=".8365" stop-color="#131313"/><stop offset=".868" stop-color="#0b0b0b"/><stop offset=".9035" stop-color="#060606"/><stop offset=".945" stop-color="#020202"/><stop offset="1" stop-color="#010101"/></linearGradient>
<linearGradient id="g12" gradientUnits="userSpaceOnUse" x1="0" y1="0" x2="0" y2="-296.750" spreadMethod="reflect"><stop offset="0" stop-color="#000000"/><stop offset=".006" stop-color="#010101"/><stop offset=".012" stop-color="#020202"/><stop offset=".024" stop-color="#080808"/><stop offset=".031" stop-color="#0d0d0d"/><stop offset=".0385" stop-color="#131313"/><stop offset=".068" stop-color="#303030"/><stop offset=".0815" stop-color="#3b3b3b"/><stop offset=".089" stop-color="#404040"/><stop offset=".096" stop-color="#434343"/><stop offset=".103" stop-color="#464646"/><stop offset=".11" stop-color="#464646"/><stop offset=".117" stop-color="#464646"/><stop offset=".124" stop-color="#444444"/><stop offset=".131" stop-color="#404040"/><stop offset=".1385" stop-color="#3c3c3c"/><stop offset=".152" stop-color="#303030"/><stop offset=".1835" stop-color="#121212"/><stop offset=".192" stop-color="#0c0c0c"/><stop offset=".1995" stop-color="#070707"/><stop offset=".2075" stop-color="#030303"/><stop offset=".215" stop-color="#010101"/><stop offset=".2225" stop-color="#000000"/><stop offset=".23" stop-color="#010101"/><stop offset=".236" stop-color="#030303"/><stop offset=".2425" stop-color="#060606"/><stop offset=".2555" stop-color="#0f0f0f"/><stop offset=".268" stop-color="#1a1a1a"/><stop offset=".297" stop-color="#363636"/><stop offset=".305" stop-color="#3d3d3d"/><stop offset=".3125" stop-color="#434343"/><stop offset=".32" stop-color="#484848"/><stop offset=".3275" stop-color="#4b4b4b"/><stop offset=".3345" stop-color="#4d4d4d"/><stop offset=".3415" stop-color="#4d4d4d"/><stop offset=".349" stop-color="#4d4d4d"/><stop offset=".3565" stop-color="#4b4b4b"/><stop offset=".3645" stop-color="#474747"/><stop offset=".3725" stop-color="#424242"/><stop offset=".3875" stop-color="#363636"/><stop offset=".423" stop-color="#151515"/><stop offset=".4325" stop-color="#0d0d0d"/><stop offset=".441" stop-color="#080808"/><stop offset=".45" stop-color="#030303"/><stop offset=".4585" stop-color="#010101"/><stop offset=".467" stop-color="#000000"/><stop offset=".4755" stop-color="#010101"/><stop offset=".4835" stop-color="#030303"/><stop offset=".492" stop-color="#070707"/><stop offset=".5005" stop-color="#0c0c0c"/><stop offset=".51" stop-color="#131313"/><stop offset=".527" stop-color="#232323"/><stop offset=".5685" stop-color="#4f4f4f"/><stop offset=".5805" stop-color="#5a5a5a"/><stop offset=".592" stop-color="#636363"/><stop offset=".6035" stop-color="#6a6a6a"/><stop offset=".615" stop-color="#6f6f6f"/><stop offset=".6265" stop-color="#727272"/><stop offset=".638" stop-color="#737373"/><stop offset=".648" stop-color="#727272"/><stop offset=".658" stop-color="#707070"/><stop offset=".669" stop-color="#6c6c6c"/><stop offset=".6805" stop-color="#676767"/><stop offset=".702" stop-color="#5b5b5b"/><stop offset=".7525" stop-color="#3a3a3a"/><stop offset=".7775" stop-color="#2b2b2b"/><stop offset=".805" stop-color="#1e1e1e"/><stop offset=".833" stop-color="#131313"/><stop offset=".865" stop-color="#0b0b0b"/><stop offset=".901" stop-color="#050505"/><stop offset=".9435" stop-color="#020202"/><stop offset="1" stop-color="#010101"/></linearGradient>
<linearGradient id="g13" gradientUnits="userSpaceOnUse" x1="0" y1="0" x2="0" y2="-296.750" spreadMethod="reflect"><stop offset="0" stop-color="#000000"/><stop offset=".0065" stop-color="#010101"/><stop offset=".0135" stop-color="#030303"/><stop offset=".0205" stop-color="#060606"/><stop offset=".028" stop-color="#0b0b0b"/><stop offset=".0415" stop-color="#161616"/><stop offset=".071" stop-color="#333333"/><stop offset=".0785" stop-color="#3a3a3a"/><stop offset=".0855" stop-color="#3f3f3f"/><stop offset=".0975" stop-color="#454545"/><stop offset=".1035" stop-color="#464646"/><stop offset=".1095" stop-color="#474747"/><stop offset=".116" stop-color="#464646"/><stop offset=".123" stop-color="#444444"/><stop offset=".13" stop-color="#414141"/><stop offset=".1375" stop-color="#3c3c3c"/><stop offset=".151" stop-color="#313131"/><stop offset=".182" stop-color="#131313"/><stop offset=".1905" stop-color="#0c0c0c"/><stop offset=".198" stop-color="#070707"/><stop offset=".206" stop-color="#030303"/><stop offset=".2135" stop-color="#010101"/><stop offset=".221" stop-color="#000000"/><stop offset=".2285" stop-color="#010101"/><stop offset=".2345" stop-color="#030303"/><stop offset=".241" stop-color="#060606"/><stop offset=".254" stop-color="#0f0f0f"/><stop offset=".266" stop-color="#191919"/><stop offset=".2955" stop-color="#373737"/><stop offset=".3105" stop-color="#434343"/><stop offset=".318" stop-color="#484848"/><stop offset=".325" stop-color="#4b4b4b"/><stop offset=".332" stop-color="#4d4d4d"/><stop offset=".339" stop-color="#4e4e4e"/><stop offset=".3465" stop-color="#4d4d4d"/><stop offset=".354" stop-color="#4b4b4b"/><stop offset=".362" stop-color="#474747"/><stop offset=".37" stop-color="#424242"/><stop offset=".385" stop-color="#363636"/><stop offset=".4205" stop-color="#151515"/><stop offset=".43" stop-color="#0d0d0d"/><stop offset=".4385" stop-color="#080808"/><stop offset=".447" stop-color="#040404"/><stop offset=".4555" stop-color="#010101"/><stop offset=".464" stop-color="#000000"/><stop offset=".4725" stop-color="#010101"/><stop offset=".4805" stop-color="#030303"/><stop offset=".489" stop-color="#070707"/><stop offset=".4975" stop-color="#0c0c0c"/><stop offset=".507" stop-color="#131313"/><stop offset=".5235" stop-color="#232323"/><stop offset=".565" stop-color="#4f4f4f"/><stop offset=".577" stop-color="#5a5a5a"/><stop offset=".588" stop-color="#636363"/><stop offset=".5995" stop-color="#6a6a6a"/><stop offset=".611" stop-color="#6f6f6f"/><stop offset=".6225" stop-color="#737373"/><stop offset=".634" stop-color="#747474"/><stop offset=".644" stop-color="#737373"/><stop offset=".654" stop-color="#717171"/><stop offset=".6645" stop-color="#6d6d6d"/><stop offset=".676" stop-color="#686868"/><stop offset=".6975" stop-color="#5c5c5c"/><stop offset=".748" stop-color="#3a3a3a"/><stop offset=".773" stop-color="#2b2b2b"/><stop offset=".801" stop-color="#1d1d1d"/><stop offset=".829" stop-color="#131313"/><stop offset=".845" stop-color="#0e0e0e"/><stop offset=".8615" stop-color="#0b0b0b"/><stop offset=".898" stop-color="#050505"/><stop offset=".9415" stop-color="#020202"/><stop offset="1" stop-color="#000000"/></linearGradient>
<linearGradient id="g14" gradientUnits="userSpaceOnUse" x1="0" y1="0" x2="0" y2="-296.750" spreadMethod="reflect"><stop offset="0" stop-color="#000000"/><stop offset=".0055" stop-color="#000000"/><stop offset=".0115" stop-color="#020202"/><stop offset=".0175" stop-color="#040404"/><stop offset=".024" stop-color="#080808"/><stop offset=".038" stop-color="#131313"/><stop offset=".0675" stop-color="#313131"/><stop offset=".0805" stop-color="#3c3c3c"/><stop offset=".088" stop-color="#414141"/><stop offset=".095" stop-color="#444444"/><stop offset=".102" stop-color="#464646"/><stop offset=".1085" stop-color="#474747"/><stop offset=".115" stop-color="#474747"/><stop offset=".122" stop-color="#454545"/><stop offset=".129" stop-color="#414141"/><stop offset=".1365" stop-color="#3d3d3d"/><stop offset=".15" stop-color="#313131"/><stop offset=".181" stop-color="#131313"/><stop offset=".1895" stop-color="#0c0c0c"/><stop offset=".197" stop-color="#070707"/><stop offset=".2045" stop-color="#030303"/><stop offset=".212" stop-color="#010101"/><stop offset=".2195" stop-color="#000000"/><stop offset=".227" stop-color="#010101"/><stop offset=".233" stop-color="#030303"/><stop offset=".239" stop-color="#060606"/><stop offset=".252" stop-color="#0f0f0f"/><stop offset=".2645" stop-color="#1a1a1a"/><stop offset=".2935" stop-color="#373737"/><stop offset=".3015" stop-color="#3f3f3f"/><stop offset=".3085" stop-color="#444444"/><stop offset=".316" stop-color="#494949"/><stop offset=".323" stop-color="#4c4c4c"/><stop offset=".33" stop-color="#4e4e4e"/><stop offset=".337" stop-color="#4e4e4e"/><stop offset=".3445" stop-color="#4e4e4e"/><stop offset=".352" stop-color="#4b4b4b"/><stop offset=".36" stop-color="#484848"/><stop offset=".368" stop-color="#434343"/><stop offset=".3825" stop-color="#373737"/><stop offset=".4175" stop-color="#151515"/><stop offset=".427" stop-color="#0d0d0d"/><stop offset=".4355" stop-color="#080808"/><stop offset=".444" stop-color="#040404"/><stop offset=".4525" stop-color="#010101"/><stop offset=".461" stop-color="#000000"/><stop offset=".4695" stop-color="#010101"/><stop offset=".4775" stop-color="#030303"/><stop offset=".486" stop-color="#070707"/><stop offset=".4945" stop-color="#0c0c0c"/><stop offset=".5035" stop-color="#141414"/><stop offset=".52" stop-color="#232323"/><stop offset=".5615" stop-color="#505050"/><stop offset=".573" stop-color="#5b5b5b"/><stop offset=".584" stop-color="#646464"/><stop offset=".5955" stop-color="#6b6b6b"/><stop offset=".607" stop-color="#707070"/><stop offset=".618" stop-color="#737373"/><stop offset=".6295" stop-color="#747474"/><stop offset=".6395" stop-color="#747474"/><stop offset=".6495" stop-color="#717171"/><stop offset=".66" stop-color="#6e6e6e"/><stop offset=".671" stop-color="#696969"/><stop offset=".6925" stop-color="#5d5d5d"/><stop offset=".7435" stop-color="#3a3a3a"/><stop offset=".7685" stop-color="#2b2b2b"/><stop offset=".7965" stop-color="#1d1d1d"/><stop offset=".825" stop-color="#121212"/><stop offset=".841" stop-color="#0e0e0e"/><stop offset=".858" stop-color="#0a0a0a"/><stop offset=".895" stop-color="#050505"/><stop offset=".9395" stop-color="#020202"/><stop offset="1" stop-color="#000000"/></linearGradient>
<linearGradient id="g15" gradientUnits="userSpaceOnUse" x1="0" y1="0" x2="0" y2="-296.750" spreadMethod="reflect"><stop offset="0" stop-color="#000000"/><stop offset=".0065" stop-color="#010101"/><stop offset=".0135" stop-color="#030303"/><stop offset=".0205" stop-color="#060606"/><stop offset=".0275" stop-color="#0b0b0b"/><stop offset=".0405" stop-color="#161616"/><stop offset=".07" stop-color="#343434"/><stop offset=".0775" stop-color="#3b3b3b"/><stop offset=".084" stop-color="#3f3f3f"/><stop offset=".09" stop-color="#434343"/><stop offset=".096" stop-color="#464646"/><stop offset=".102" stop-color="#474747"/><stop offset=".108" stop-color="#484848"/><stop offset=".1145" stop-color="#474747"/><stop offset=".1215" stop-color="#454545"/><stop offset=".1285" stop-color="#424242"/><stop offset=".1355" stop-color="#3d3d3d"/><stop offset=".149" stop-color="#313131"/><stop offset=".18" stop-color="#131313"/><stop offset=".188" stop-color="#0c0c0c"/><stop offset=".1955" stop-color="#070707"/><stop offset=".203" stop-color="#030303"/><stop offset=".2105" stop-color="#010101"/><stop offset=".218" stop-color="#000000"/><stop offset=".2255" stop-color="#010101"/><stop offset=".2315" stop-color="#030303"/><stop offset=".2375" stop-color="#060606"/><stop offset=".2505" stop-color="#0f0f0f"/><stop offset=".2625" stop-color="#1a1a1a"/><stop offset=".291" stop-color="#373737"/><stop offset=".299" stop-color="#3f3f3f"/><stop offset=".306" stop-color="#444444"/><stop offset=".3135" stop-color="#494949"/><stop offset=".3205" stop-color="#4c4c4c"/><stop offset=".3275" stop-color="#4e4e4e"/><stop offset=".3345" stop-color="#4f4f4f"/><stop offset=".342" stop-color="#4e4e4e"/><stop offset=".3495" stop-color="#4c4c4c"/><stop offset=".357" stop-color="#484848"/><stop offset=".365" stop-color="#434343"/><stop offset=".3795" stop-color="#373737"/><stop offset=".4145" stop-color="#151515"/><stop offset=".4235" stop-color="#0e0e0e"/><stop offset=".432" stop-color="#080808"/><stop offset=".441" stop-color="#040404"/><stop offset=".4495" stop-color="#010101"/><stop offset=".458" stop-color="#000000"/><stop offset=".466" stop-color="#010101"/><stop offset=".474" stop-color="#030303"/><stop offset=".4825" stop-color="#070707"/><stop offset=".491" stop-color="#0c0c0c"/><stop offset=".5" stop-color="#141414"/><stop offset=".5165" stop-color="#242424"/><stop offset=".5575" stop-color="#515151"/><stop offset=".569" stop-color="#5c5c5c"/><stop offset=".58" stop-color="#646464"/><stop offset=".5915" stop-color="#6c6c6c"/><stop offset=".6025" stop-color="#717171"/><stop offset=".6135" stop-color="#747474"/><stop offset=".625" stop-color="#757575"/><stop offset=".635" stop-color="#747474"/><stop offset=".645" stop-color="#727272"/><stop offset=".6555" stop-color="#6f6f6f"/><stop offset=".6665" stop-color="#6a6a6a"/><stop offset=".688" stop-color="#5d5d5d"/><stop offset=".738" stop-color="#3b3b3b"/><stop offset=".7635" stop-color="#2b2b2b"/><stop offset=".778" stop-color="#232323"/><stop offset=".792" stop-color="#1d1d1d"/><stop offset=".8205" stop-color="#121212"/><stop offset=".8365" stop-color="#0e0e0e"/><stop offset=".8535" stop-color="#0a0a0a"/><stop offset=".891" stop-color="#050505"/><stop offset=".9365" stop-color="#020202"/><stop offset="1" stop-color="#000000"/></linearGradient>
<linearGradient id="g16" gradientUnits="userSpaceOnUse" x1="0" y1="0" x2="0" y2="-296.750" spreadMethod="reflect"><stop offset="0" stop-color="#000000"/><stop offset=".0055" stop-color="#000000"/><stop offset=".0115" stop-color="#020202"/><stop offset=".0175" stop-color="#050505"/><stop offset=".0235" stop-color="#080808"/><stop offset=".03" stop-color="#0d0d0d"/><stop offset=".0375" stop-color="#141414"/><stop offset=".0665" stop-color="#323232"/><stop offset=".0795" stop-color="#3d3d3d"/><stop offset=".0865" stop-color="#424242"/><stop offset=".0935" stop-color="#454545"/><stop offset=".1005" stop-color="#484848"/><stop offset=".107" stop-color="#484848"/><stop offset=".1135" stop-color="#484848"/><stop offset=".1205" stop-color="#464646"/><stop offset=".1275" stop-color="#424242"/><stop offset=".1345" stop-color="#3d3d3d"/><stop offset=".1475" stop-color="#323232"/><stop offset=".1785" stop-color="#131313"/><stop offset=".1865" stop-color="#0c0c0c"/><stop offset=".194" stop-color="#070707"/><stop offset=".2015" stop-color="#030303"/><stop offset=".209" stop-color="#010101"/><stop offset=".2165" stop-color="#000000"/><stop offset=".224" stop-color="#010101"/><stop offset=".23" stop-color="#030303"/><stop offset=".236" stop-color="#060606"/><stop offset=".2485" stop-color="#0f0f0f"/><stop offset=".2605" stop-color="#1a1a1a"/><stop offset=".289" stop-color="#383838"/><stop offset=".3035" stop-color="#454545"/><stop offset=".311" stop-color="#494949"/><stop offset=".318" stop-color="#4d4d4d"/><stop offset=".325" stop-color="#4f4f4f"/><stop offset=".332" stop-color="#505050"/><stop offset=".3395" stop-color="#4f4f4f"/><stop offset=".347" stop-color="#4d4d4d"/><stop offset=".3545" stop-color="#494949"/><stop offset=".3625" stop-color="#444444"/><stop offset=".377" stop-color="#373737"/><stop offset=".411" stop-color="#161616"/><stop offset=".4205" stop-color="#0e0e0e"/><stop offset=".429" stop-color="#080808"/><stop offset=".4375" stop-color="#040404"/><stop offset=".446" stop-color="#010101"/><stop offset=".4545" stop-color="#000000"/><stop offset=".4625" stop-color="#010101"/><stop offset=".4705" stop-color="#030303"/><stop offset=".4785" stop-color="#070707"/><stop offset=".487" stop-color="#0c0c0c"/><stop offset=".496" stop-color="#141414"/><stop offset=".5125" stop-color="#242424"/><stop offset=".553" stop-color="#515151"/><stop offset=".5645" stop-color="#5c5c5c"/><stop offset=".5755" stop-color="#656565"/><stop offset=".587" stop-color="#6d6d6d"/><stop offset=".598" stop-color="#727272"/><stop offset=".609" stop-color="#757575"/><stop offset=".6205" stop-color="#767676"/><stop offset=".63" stop-color="#757575"/><stop offset=".64" stop-color="#737373"/><stop offset=".65" stop-color="#707070"/><stop offset=".661" stop-color="#6b6b6b"/><stop offset=".682" stop-color="#5e5e5e"/><stop offset=".733" stop-color="#3b3b3b"/><stop offset=".7585" stop-color="#2b2b2b"/><stop offset=".773" stop-color="#232323"/><stop offset=".787" stop-color="#1d1d1d"/><stop offset=".801" stop-color="#171717"/><stop offset=".8155" stop-color="#121212"/><stop offset=".832" stop-color="#0d0d0d"/><stop offset=".849" stop-color="#0a0a0a"/><stop offset=".887" stop-color="#040404"/><stop offset=".9335" stop-color="#010101"/><stop offset="1" stop-color="#000000"/></linearGradient>
<linearGradient id="g17" gradientUnits="userSpaceOnUse" x1="0" y1="0" x2="0" y2="-296.750" spreadMethod="reflect"><stop offset="0" stop-color="#000000"/><stop offset=".0055" stop-color="#000000"/><stop offset=".0115" stop-color="#020202"/><stop offset=".0175" stop-color="#050505"/><stop offset=".0235" stop-color="#080808"/><stop offset=".037" stop-color="#141414"/><stop offset=".066" stop-color="#323232"/><stop offset=".0785" stop-color="#3d3d3d"/><stop offset=".0855" stop-color="#424242"/><stop offset=".0925" stop-color="#464646"/><stop offset=".0995" stop-color="#484848"/><stop offset=".106" stop-color="#494949"/><stop offset=".1125" stop-color="#484848"/><stop offset=".1195" stop-color="#464646"/><stop offset=".1265" stop-color="#434343"/><stop offset=".1335" stop-color="#3e3e3e"/><stop offset=".1465" stop-color="#323232"/><stop offset=".177" stop-color="#131313"/><stop offset=".185" stop-color="#0c0c0c"/><stop offset=".1925" stop-color="#070707"/><stop offset=".2" stop-color="#030303"/><stop offset=".2075" stop-color="#010101"/><stop offset=".2145" stop-color="#000000"/><stop offset=".222" stop-color="#010101"/><stop offset=".228" stop-color="#030303"/><stop offset=".234" stop-color="#060606"/><stop offset=".2465" stop-color="#0f0f0f"/><stop offset=".2585" stop-color="#1b1b1b"/><stop offset=".287" stop-color="#393939"/><stop offset=".2945" stop-color="#404040"/><stop offset=".3015" stop-color="#464646"/><stop offset=".309" stop-color="#4a4a4a"/><stop offset=".316" stop-color="#4e4e4e"/><stop offset=".323" stop-color="#505050"/><stop offset=".3295" stop-color="#505050"/><stop offset=".3365" stop-color="#4f4f4f"/><stop offset=".344" stop-color="#4d4d4d"/><stop offset=".3515" stop-color="#4a4a4a"/><stop offset=".3595" stop-color="#444444"/><stop offset=".374" stop-color="#383838"/><stop offset=".408" stop-color="#161616"/><stop offset=".417" stop-color="#0e0e0e"/><stop offset=".4255" stop-color="#080808"/><stop offset=".434" stop-color="#040404"/><stop offset=".442" stop-color="#010101"/><stop offset=".4505" stop-color="#000000"/><stop offset=".4585" stop-color="#010101"/><stop offset=".4665" stop-color="#030303"/><stop offset=".4745" stop-color="#070707"/><stop offset=".483" stop-color="#0c0c0c"/><stop offset=".492" stop-color="#141414"/><stop offset=".508" stop-color="#242424"/><stop offset=".5485" stop-color="#525252"/><stop offset=".56" stop-color="#5d5d5d"/><stop offset=".571" stop-color="#666666"/><stop offset=".5825" stop-color="#6e6e6e"/><stop offset=".5935" stop-color="#737373"/><stop offset=".6045" stop-color="#767676"/><stop offset=".6155" stop-color="#777777"/><stop offset=".625" stop-color="#767676"/><stop offset=".6345" stop-color="#747474"/><stop offset=".6445" stop-color="#717171"/><stop offset=".6555" stop-color="#6c6c6c"/><stop offset=".6765" stop-color="#5f5f5f"/><stop offset=".7275" stop-color="#3b3b3b"/><stop offset=".753" stop-color="#2b2b2b"/><stop offset=".7675" stop-color="#232323"/><stop offset=".7815" stop-color="#1c1c1c"/><stop offset=".796" stop-color="#161616"/><stop offset=".8105" stop-color="#121212"/><stop offset=".827" stop-color="#0d0d0d"/><stop offset=".844" stop-color="#090909"/><stop offset=".883" stop-color="#040404"/><stop offset=".9305" stop-color="#010101"/><stop offset="1" stop-color="#000000"/></linearGradient>
<linearGradient id="g18" gradientUnits="userSpaceOnUse" x1="0" y1="0" x2="0" y2="-296.750" spreadMethod="reflect"><stop offset="0" stop-color="#000000"/><stop offset=".0065" stop-color="#010101"/><stop offset=".013" stop-color="#030303"/><stop offset=".02" stop-color="#060606"/><stop offset=".027" stop-color="#0b0b0b"/><stop offset=".0395" stop-color="#171717"/><stop offset=".0685" stop-color="#353535"/><stop offset=".0755" stop-color="#3c3c3c"/><stop offset=".082" stop-color="#414141"/><stop offset=".088" stop-color="#454545"/><stop offset=".094" stop-color="#474747"/><stop offset=".1" stop-color="#494949"/><stop offset=".1055" stop-color="#494949"/><stop offset=".112" stop-color="#494949"/><stop offset=".1185" stop-color="#474747"/><stop offset=".1255" stop-color="#434343"/><stop offset=".1325" stop-color="#3e3e3e"/><stop offset=".1455" stop-color="#333333"/><stop offset=".1755" stop-color="#131313"/><stop offset=".1835" stop-color="#0c0c0c"/><stop offset=".1905" stop-color="#070707"/><stop offset=".198" stop-color="#030303"/><stop offset=".2055" stop-color="#010101"/><stop offset=".2125" stop-color="#000000"/><stop offset=".22" stop-color="#010101"/><stop offset=".226" stop-color="#030303"/><stop offset=".232" stop-color="#060606"/><stop offset=".2445" stop-color="#0f0f0f"/><stop offset=".2565" stop-color="#1b1b1b"/><stop offset=".284" stop-color="#393939"/><stop offset=".2915" stop-color="#404040"/><stop offset=".2985" stop-color="#464646"/><stop offset=".306" stop-color="#4b4b4b"/><stop offset=".313" stop-color="#4e4e4e"/><stop offset=".32" stop-color="#505050"/><stop offset=".3265" stop-color="#515151"/><stop offset=".3335" stop-color="#505050"/><stop offset=".341" stop-color="#4e4e4e"/><stop offset=".3485" stop-color="#4a4a4a"/><stop offset=".3565" stop-color="#454545"/><stop offset=".3705" stop-color="#383838"/><stop offset=".404" stop-color="#161616"/><stop offset=".413" stop-color="#0e0e0e"/><stop offset=".4215" stop-color="#080808"/><stop offset=".43" stop-color="#040404"/><stop offset=".438" stop-color="#010101"/><stop offset=".4465" stop-color="#000000"/><stop offset=".4545" stop-color="#010101"/><stop offset=".4625" stop-color="#030303"/><stop offset=".4705" stop-color="#070707"/><stop offset=".479" stop-color="#0d0d0d"/><stop offset=".4875" stop-color="#141414"/><stop offset=".5035" stop-color="#242424"/><stop offset=".544" stop-color="#535353"/><stop offset=".5555" stop-color="#5e5e5e"/><stop offset=".566" stop-color="#676767"/><stop offset=".577" stop-color="#6e6e6e"/><stop offset=".588" stop-color="#747474"/><stop offset=".599" stop-color="#777777"/><stop offset=".61" stop-color="#787878"/><stop offset=".6195" stop-color="#777777"/><stop offset=".629" stop-color="#757575"/><stop offset=".639" stop-color="#727272"/><stop offset=".6495" stop-color="#6d6d6d"/><stop offset=".6705" stop-color="#606060"/><stop offset=".721" stop-color="#3c3c3c"/><stop offset=".747" stop-color="#2b2b2b"/><stop offset=".7615" stop-color="#232323"/><stop offset=".7755" stop-color="#1c1c1c"/><stop offset=".79" stop-color="#161616"/><stop offset=".805" stop-color="#111111"/><stop offset=".8215" stop-color="#0d0d0d"/><stop offset=".839" stop-color="#090909"/><stop offset=".858" stop-color="#060606"/><stop offset=".8785" stop-color="#040404"/><stop offset=".9275" stop-color="#010101"/><stop offset="1" stop-color="#000000"/></linearGradient>
<linearGradient id="g19" gradientUnits="userSpaceOnUse" x1="0" y1="0" x2="0" y2="-296.750" spreadMethod="reflect"><stop offset="0" stop-color="#000000"/><stop offset=".0065" stop-color="#010101"/><stop offset=".013" stop-color="#030303"/><stop offset=".0195" stop-color="#060606"/><stop offset=".0265" stop-color="#0b0b0b"/><stop offset=".039" stop-color="#171717"/><stop offset=".068" stop-color="#363636"/><stop offset=".075" stop-color="#3d3d3d"/><stop offset=".0815" stop-color="#424242"/><stop offset=".0875" stop-color="#454545"/><stop offset=".093" stop-color="#484848"/><stop offset=".099" stop-color="#4a4a4a"/><stop offset=".1045" stop-color="#4a4a4a"/><stop offset=".111" stop-color="#494949"/><stop offset=".1175" stop-color="#474747"/><stop offset=".1245" stop-color="#444444"/><stop offset=".1315" stop-color="#3f3f3f"/><stop offset=".144" stop-color="#333333"/><stop offset=".1735" stop-color="#141414"/><stop offset=".1815" stop-color="#0d0d0d"/><stop offset=".189" stop-color="#070707"/><stop offset=".1965" stop-color="#030303"/><stop offset=".2035" stop-color="#010101"/><stop offset=".2105" stop-color="#000000"/><stop offset=".218" stop-color="#010101"/><stop offset=".2235" stop-color="#030303"/><stop offset=".2295" stop-color="#060606"/><stop offset=".2355" stop-color="#0a0a0a"/><stop offset=".242" stop-color="#0f0f0f"/><stop offset=".254" stop-color="#1b1b1b"/><stop offset=".2815" stop-color="#3a3a3a"/><stop offset=".289" stop-color="#414141"/><stop offset=".296" stop-color="#474747"/><stop offset=".303" stop-color="#4b4b4b"/><stop offset=".31" stop-color="#4f4f4f"/><stop offset=".317" stop-color="#515151"/><stop offset=".3235" stop-color="#525252"/><stop offset=".3305" stop-color="#515151"/><stop offset=".338" stop-color="#4f4f4f"/><stop offset=".3455" stop-color="#4b4b4b"/><stop offset=".353" stop-color="#454545"/><stop offset=".367" stop-color="#393939"/><stop offset=".4005" stop-color="#161616"/><stop offset=".4095" stop-color="#0e0e0e"/><stop offset=".418" stop-color="#080808"/><stop offset=".4265" stop-color="#040404"/><stop offset=".4345" stop-color="#010101"/><stop offset=".4425" stop-color="#000000"/><stop offset=".4505" stop-color="#010101"/><stop offset=".4585" stop-color="#030303"/><stop offset=".4665" stop-color="#070707"/><stop offset=".475" stop-color="#0d0d0d"/><stop offset=".4835" stop-color="#151515"/><stop offset=".499" stop-color="#252525"/><stop offset=".5275" stop-color="#474747"/><stop offset=".539" stop-color="#545454"/><stop offset=".5505" stop-color="#5f5f5f"/><stop offset=".561" stop-color="#686868"/><stop offset=".572" stop-color="#707070"/><stop offset=".583" stop-color="#757575"/><stop offset=".5935" stop-color="#787878"/><stop offset=".6045" stop-color="#797979"/><stop offset=".6135" stop-color="#787878"/><stop offset=".623" stop-color="#767676"/><stop offset=".633" stop-color="#737373"/><stop offset=".6435" stop-color="#6e6e6e"/><stop offset=".664" stop-color="#616161"/><stop offset=".715" stop-color="#3c3c3c"/><stop offset=".7405" stop-color="#2b2b2b"/><stop offset=".755" stop-color="#232323"/><stop offset=".7695" stop-color="#1c1c1c"/><stop offset=".784" stop-color="#161616"/><stop offset=".799" stop-color="#111111"/><stop offset=".8155" stop-color="#0c0c0c"/><stop offset=".8335" stop-color="#090909"/><stop offset=".8525" stop-color="#060606"/><stop offset=".8735" stop-color="#040404"/><stop offset=".9235" stop-color="#010101"/><stop offset="1" stop-color="#000000"/></linearGradient>
<linearGradient id="g20" gradientUnits="userSpaceOnUse" x1="0" y1="0" x2="0" y2="-296.750" spreadMethod="reflect"><stop offset="0" stop-color="#000000"/><stop offset=".0065" stop-color="#010101"/><stop offset=".013" stop-color="#030303"/><stop offset=".0195" stop-color="#060606"/><stop offset=".0265" stop-color="#0c0c0c"/><stop offset=".039" stop-color="#171717"/><stop offset=".067" stop-color="#363636"/><stop offset=".074" stop-color="#3d3d3d"/><stop offset=".0805" stop-color="#424242"/><stop offset=".0865" stop-color="#464646"/><stop offset=".092" stop-color="#494949"/><stop offset=".098" stop-color="#4a4a4a"/><stop offset=".1035" stop-color="#4b4b4b"/><stop offset=".11" stop-color="#4a4a4a"/><stop offset=".1165" stop-color="#484848"/><stop offset=".123" stop-color="#454545"/><stop offset=".13" stop-color="#3f3f3f"/><stop offset=".1425" stop-color="#343434"/><stop offset=".172" stop-color="#141414"/><stop offset=".18" stop-color="#0c0c0c"/><stop offset=".187" stop-color="#070707"/><stop offset=".1945" stop-color="#030303"/><stop offset=".2015" stop-color="#010101"/><stop offset=".2085" stop-color="#000000"/><stop offset=".216" stop-color="#010101"/><stop offset=".2215" stop-color="#030303"/><stop offset=".2275" stop-color="#060606"/><stop offset=".2335" stop-color="#0a0a0a"/><stop offset=".24" stop-color="#101010"/><stop offset=".2515" stop-color="#1b1b1b"/><stop offset=".279" stop-color="#3a3a3a"/><stop offset=".2865" stop-color="#424242"/><stop offset=".293" stop-color="#474747"/><stop offset=".3" stop-color="#4c4c4c"/><stop offset=".307" stop-color="#505050"/><stop offset=".314" stop-color="#525252"/><stop offset=".3205" stop-color="#525252"/><stop offset=".3275" stop-color="#525252"/><stop offset=".3345" stop-color="#4f4f4f"/><stop offset=".342" stop-color="#4b4b4b"/><stop offset=".3495" stop-color="#464646"/><stop offset=".3635" stop-color="#393939"/><stop offset=".3965" stop-color="#171717"/><stop offset=".4055" stop-color="#0e0e0e"/><stop offset=".4135" stop-color="#090909"/><stop offset=".422" stop-color="#040404"/><stop offset=".43" stop-color="#010101"/><stop offset=".438" stop-color="#000000"/><stop offset=".446" stop-color="#010101"/><stop offset=".4535" stop-color="#030303"/><stop offset=".4615" stop-color="#070707"/><stop offset=".47" stop-color="#0d0d0d"/><stop offset=".4785" stop-color="#141414"/><stop offset=".4945" stop-color="#262626"/><stop offset=".5335" stop-color="#545454"/><stop offset=".545" stop-color="#606060"/><stop offset=".5555" stop-color="#696969"/><stop offset=".5665" stop-color="#717171"/><stop offset=".577" stop-color="#767676"/><stop offset=".5875" stop-color="#797979"/><stop offset=".5985" stop-color="#7a7a7a"/><stop offset=".6075" stop-color="#7a7a7a"/><stop offset=".617" stop-color="#777777"/><stop offset=".6265" stop-color="#747474"/><stop offset=".637" stop-color="#6f6f6f"/><stop offset=".6575" stop-color="#626262"/><stop offset=".708" stop-color="#3c3c3c"/><stop offset=".734" stop-color="#2b2b2b"/><stop offset=".7485" stop-color="#232323"/><stop offset=".763" stop-color="#1c1c1c"/><stop offset=".778" stop-color="#161616"/><stop offset=".793" stop-color="#111111"/><stop offset=".8095" stop-color="#0c0c0c"/><stop offset=".8275" stop-color="#080808"/><stop offset=".847" stop-color="#060606"/><stop offset=".8685" stop-color="#030303"/><stop offset=".9195" stop-color="#010101"/><stop offset="1" stop-color="#000000"/></linearGradient>
<linearGradient id="g21" gradientUnits="userSpaceOnUse" x1="0" y1="0" x2="0" y2="-296.750" spreadMethod="reflect"><stop offset="0" stop-color="#000000"/><stop offset=".0055" stop-color="#010101"/><stop offset=".011" stop-color="#020202"/><stop offset=".0165" stop-color="#050505"/><stop offset=".0225" stop-color="#090909"/><stop offset=".0285" stop-color="#0e0e0e"/><stop offset=".0355" stop-color="#141414"/><stop offset=".0635" stop-color="#343434"/><stop offset=".076" stop-color="#404040"/><stop offset=".083" stop-color="#454545"/><stop offset=".0895" stop-color="#494949"/><stop offset=".096" stop-color="#4b4b4b"/><stop offset=".102" stop-color="#4c4c4c"/><stop offset=".1085" stop-color="#4b4b4b"/><stop offset=".115" stop-color="#494949"/><stop offset=".1215" stop-color="#454545"/><stop offset=".1285" stop-color="#404040"/><stop offset=".141" stop-color="#343434"/><stop offset=".17" stop-color="#141414"/><stop offset=".178" stop-color="#0d0d0d"/><stop offset=".185" stop-color="#070707"/><stop offset=".1925" stop-color="#030303"/><stop offset=".1995" stop-color="#010101"/><stop offset=".2065" stop-color="#000000"/><stop offset=".2135" stop-color="#010101"/><stop offset=".219" stop-color="#030303"/><stop offset=".225" stop-color="#060606"/><stop offset=".231" stop-color="#0a0a0a"/><stop offset=".2375" stop-color="#101010"/><stop offset=".249" stop-color="#1c1c1c"/><stop offset=".276" stop-color="#3b3b3b"/><stop offset=".2835" stop-color="#424242"/><stop offset=".29" stop-color="#484848"/><stop offset=".297" stop-color="#4d4d4d"/><stop offset=".304" stop-color="#515151"/><stop offset=".3105" stop-color="#535353"/><stop offset=".317" stop-color="#535353"/><stop offset=".324" stop-color="#535353"/><stop offset=".331" stop-color="#505050"/><stop offset=".3385" stop-color="#4c4c4c"/><stop offset=".346" stop-color="#474747"/><stop offset=".36" stop-color="#3a3a3a"/><stop offset=".3925" stop-color="#171717"/><stop offset=".4015" stop-color="#0e0e0e"/><stop offset=".4095" stop-color="#080808"/><stop offset=".4175" stop-color="#040404"/><stop offset=".4255" stop-color="#010101"/><stop offset=".4335" stop-color="#000000"/><stop offset=".4415" stop-color="#010101"/><stop offset=".449" stop-color="#030303"/><stop offset=".457" stop-color="#070707"/><stop offset=".465" stop-color="#0d0d0d"/><stop offset=".4735" stop-color="#151515"/><stop offset=".489" stop-color="#252525"/><stop offset=".528" stop-color="#555555"/><stop offset=".539" stop-color="#616161"/><stop offset=".5495" stop-color="#6a6a6a"/><stop offset=".5605" stop-color="#727272"/><stop offset=".571" stop-color="#777777"/><stop offset=".5815" stop-color="#7b7b7b"/><stop offset=".5925" stop-color="#7c7c7c"/><stop offset=".6015" stop-color="#7b7b7b"/><stop offset=".6105" stop-color="#797979"/><stop offset=".62" stop-color="#757575"/><stop offset=".6305" stop-color="#707070"/><stop offset=".6505" stop-color="#636363"/><stop offset=".701" stop-color="#3d3d3d"/><stop offset=".727" stop-color="#2b2b2b"/><stop offset=".742" stop-color="#232323"/><stop offset=".7565" stop-color="#1c1c1c"/><stop offset=".7715" stop-color="#151515"/><stop offset=".7865" stop-color="#101010"/><stop offset=".8035" stop-color="#0c0c0c"/><stop offset=".8215" stop-color="#080808"/><stop offset=".841" stop-color="#050505"/><stop offset=".863" stop-color="#030303"/><stop offset=".9155" stop-color="#010101"/><stop offset="1" stop-color="#000000"/></linearGradient>
<linearGradient id="g22" gradientUnits="userSpaceOnUse" x1="0" y1="0" x2="0" y2="-296.750" spreadMethod="reflect"><stop offset="0" stop-color="#000000"/><stop offset=".0055" stop-color="#010101"/><stop offset=".011" stop-color="#020202"/><stop offset=".0165" stop-color="#050505"/><stop offset=".022" stop-color="#090909"/><stop offset=".028" stop-color="#0e0e0e"/><stop offset=".035" stop-color="#151515"/><stop offset=".063" stop-color="#353535"/><stop offset=".075" stop-color="#414141"/><stop offset=".082" stop-color="#464646"/><stop offset=".0885" stop-color="#4a4a4a"/><stop offset=".095" stop-color="#4c4c4c"/><stop offset=".101" stop-color="#4c4c4c"/><stop offset=".107" stop-color="#4c4c4c"/><stop offset=".1135" stop-color="#4a4a4a"/><stop offset=".12" stop-color="#464646"/><stop offset=".127" stop-color="#414141"/><stop offset=".1395" stop-color="#353535"/><stop offset=".1685" stop-color="#141414"/><stop offset=".176" stop-color="#0d0d0d"/><stop offset=".183" stop-color="#070707"/><stop offset=".1905" stop-color="#030303"/><stop offset=".1975" stop-color="#010101"/><stop offset=".2045" stop-color="#000000"/><stop offset=".2115" stop-color="#010101"/><stop offset=".217" stop-color="#030303"/><stop offset=".223" stop-color="#060606"/><stop offset=".229" stop-color="#0b0b0b"/><stop offset=".235" stop-color="#101010"/><stop offset=".246" stop-color="#1c1c1c"/><stop offset=".273" stop-color="#3b3b3b"/><stop offset=".2805" stop-color="#434343"/><stop offset=".287" stop-color="#494949"/><stop offset=".294" stop-color="#4e4e4e"/><stop offset=".3005" stop-color="#515151"/><stop offset=".307" stop-color="#545454"/><stop offset=".3135" stop-color="#545454"/><stop offset=".3205" stop-color="#535353"/><stop offset=".3275" stop-color="#515151"/><stop offset=".3345" stop-color="#4d4d4d"/><stop offset=".342" stop-color="#484848"/><stop offset=".356" stop-color="#3a3a3a"/><stop offset=".3885" stop-color="#171717"/><stop offset=".397" stop-color="#0f0f0f"/><stop offset=".405" stop-color="#090909"/><stop offset=".413" stop-color="#040404"/><stop offset=".421" stop-color="#010101"/><stop offset=".429" stop-color="#000000"/><stop offset=".4365" stop-color="#010101"/><stop offset=".444" stop-color="#030303"/><stop offset=".452" stop-color="#070707"/><stop offset=".46" stop-color="#0d0d0d"/><stop offset=".4685" stop-color="#151515"/><stop offset=".484" stop-color="#262626"/><stop offset=".5115" stop-color="#494949"/><stop offset=".5225" stop-color="#565656"/><stop offset=".5335" stop-color="#626262"/><stop offset=".5435" stop-color="#6b6b6b"/><stop offset=".5545" stop-color="#737373"/><stop offset=".565" stop-color="#797979"/><stop offset=".5755" stop-color="#7c7c7c"/><stop offset=".586" stop-color="#7d7d7d"/><stop offset=".5945" stop-color="#7c7c7c"/><stop offset=".6035" stop-color="#7a7a7a"/><stop offset=".613" stop-color="#777777"/><stop offset=".623" stop-color="#727272"/><stop offset=".643" stop-color="#656565"/><stop offset=".694" stop-color="#3d3d3d"/><stop offset=".72" stop-color="#2b2b2b"/><stop offset=".735" stop-color="#222222"/><stop offset=".7495" stop-color="#1b1b1b"/><stop offset=".7645" stop-color="#151515"/><stop offset=".78" stop-color="#101010"/><stop offset=".797" stop-color="#0b0b0b"/><stop offset=".815" stop-color="#080808"/><stop offset=".835" stop-color="#050505"/><stop offset=".857" stop-color="#030303"/><stop offset=".9105" stop-color="#010101"/><stop offset="1" stop-color="#000000"/></linearGradient>
<linearGradient id="g23" gradientUnits="userSpaceOnUse" x1="0" y1="0" x2="0" y2="-296.750" spreadMethod="reflect"><stop offset="0" stop-color="#000000"/><stop offset=".006" stop-color="#010101"/><stop offset=".0125" stop-color="#030303"/><stop offset=".019" stop-color="#070707"/><stop offset=".0255" stop-color="#0c0c0c"/><stop offset=".0375" stop-color="#181818"/><stop offset=".065" stop-color="#383838"/><stop offset=".072" stop-color="#3f3f3f"/><stop offset=".078" stop-color="#444444"/><stop offset=".0835" stop-color="#484848"/><stop offset=".089" stop-color="#4b4b4b"/><stop offset=".0945" stop-color="#4d4d4d"/><stop offset=".1" stop-color="#4d4d4d"/><stop offset=".106" stop-color="#4d4d4d"/><stop offset=".1125" stop-color="#4a4a4a"/><stop offset=".119" stop-color="#474747"/><stop offset=".1255" stop-color="#424242"/><stop offset=".138" stop-color="#353535"/><stop offset=".1665" stop-color="#141414"/><stop offset=".174" stop-color="#0d0d0d"/><stop offset=".181" stop-color="#070707"/><stop offset=".188" stop-color="#030303"/><stop offset=".195" stop-color="#010101"/><stop offset=".202" stop-color="#000000"/><stop offset=".209" stop-color="#010101"/><stop offset=".2145" stop-color="#030303"/><stop offset=".22" stop-color="#060606"/><stop offset=".226" stop-color="#0b0b0b"/><stop offset=".232" stop-color="#101010"/><stop offset=".243" stop-color="#1c1c1c"/><stop offset=".27" stop-color="#3c3c3c"/><stop offset=".277" stop-color="#444444"/><stop offset=".2835" stop-color="#4a4a4a"/><stop offset=".2905" stop-color="#4f4f4f"/><stop offset=".297" stop-color="#525252"/><stop offset=".3035" stop-color="#545454"/><stop offset=".31" stop-color="#555555"/><stop offset=".317" stop-color="#545454"/><stop offset=".324" stop-color="#525252"/><stop offset=".331" stop-color="#4e4e4e"/><stop offset=".3385" stop-color="#484848"/><stop offset=".352" stop-color="#3b3b3b"/><stop offset=".384" stop-color="#171717"/><stop offset=".3925" stop-color="#0f0f0f"/><stop offset=".4005" stop-color="#090909"/><stop offset=".4085" stop-color="#040404"/><stop offset=".416" stop-color="#010101"/><stop offset=".424" stop-color="#000000"/><stop offset=".4315" stop-color="#010101"/><stop offset=".439" stop-color="#030303"/><stop offset=".4465" stop-color="#070707"/><stop offset=".4545" stop-color="#0d0d0d"/><stop offset=".463" stop-color="#151515"/><stop offset=".4785" stop-color="#272727"/><stop offset=".5055" stop-color="#4a4a4a"/><stop offset=".5165" stop-color="#575757"/><stop offset=".5275" stop-color="#636363"/><stop offset=".5375" stop-color="#6d6d6d"/><stop offset=".548" stop-color="#747474"/><stop offset=".5585" stop-color="#7a7a7a"/><stop offset=".5685" stop-color="#7d7d7d"/><stop offset=".579" stop-color="#7e7e7e"/><stop offset=".5875" stop-color="#7e7e7e"/><stop offset=".5965" stop-color="#7c7c7c"/><stop offset=".6055" stop-color="#787878"/><stop offset=".6155" stop-color="#737373"/><stop offset=".6355" stop-color="#666666"/><stop offset=".6865" stop-color="#3d3d3d"/><stop offset=".7125" stop-color="#2b2b2b"/><stop offset=".7275" stop-color="#222222"/><stop offset=".742" stop-color="#1b1b1b"/><stop offset=".757" stop-color="#151515"/><stop offset=".7725" stop-color="#101010"/><stop offset=".7895" stop-color="#0b0b0b"/><stop offset=".808" stop-color="#070707"/><stop offset=".828" stop-color="#050505"/><stop offset=".8505" stop-color="#030303"/><stop offset=".905" stop-color="#010101"/><stop offset="1" stop-color="#000000"/></linearGradient>
<linearGradient id="g24" gradientUnits="userSpaceOnUse" x1="0" y1="0" x2="0" y2="-296.750" spreadMethod="reflect"><stop offset="0" stop-color="#000000"/><stop offset=".005" stop-color="#000000"/><stop offset=".0105" stop-color="#020202"/><stop offset=".016" stop-color="#050505"/><stop offset=".0215" stop-color="#090909"/><stop offset=".0275" stop-color="#0e0e0e"/><stop offset=".0345" stop-color="#151515"/><stop offset=".061" stop-color="#353535"/><stop offset=".073" stop-color="#424242"/><stop offset=".0795" stop-color="#474747"/><stop offset=".086" stop-color="#4b4b4b"/><stop offset=".0925" stop-color="#4e4e4e"/><stop offset=".0985" stop-color="#4e4e4e"/><stop offset=".1045" stop-color="#4e4e4e"/><stop offset=".111" stop-color="#4b4b4b"/><stop offset=".1175" stop-color="#484848"/><stop offset=".124" stop-color="#434343"/><stop offset=".136" stop-color="#363636"/><stop offset=".1645" stop-color="#151515"/><stop offset=".172" stop-color="#0d0d0d"/><stop offset=".179" stop-color="#070707"/><stop offset=".186" stop-color="#030303"/><stop offset=".193" stop-color="#010101"/><stop offset=".1995" stop-color="#000000"/><stop offset=".2065" stop-color="#010101"/><stop offset=".212" stop-color="#030303"/><stop offset=".2175" stop-color="#060606"/><stop offset=".2235" stop-color="#0b0b0b"/><stop offset=".2295" stop-color="#101010"/><stop offset=".2405" stop-color="#1d1d1d"/><stop offset=".2665" stop-color="#3d3d3d"/><stop offset=".2735" stop-color="#444444"/><stop offset=".28" stop-color="#4a4a4a"/><stop offset=".287" stop-color="#505050"/><stop offset=".2935" stop-color="#535353"/><stop offset=".3" stop-color="#565656"/><stop offset=".306" stop-color="#565656"/><stop offset=".3125" stop-color="#565656"/><stop offset=".3195" stop-color="#535353"/><stop offset=".3265" stop-color="#4f4f4f"/><stop offset=".334" stop-color="#4a4a4a"/><stop offset=".3475" stop-color="#3c3c3c"/><stop offset=".3795" stop-color="#171717"/><stop offset=".388" stop-color="#0f0f0f"/><stop offset=".3955" stop-color="#090909"/><stop offset=".4035" stop-color="#040404"/><stop offset=".411" stop-color="#010101"/><stop offset=".419" stop-color="#000000"/><stop offset=".4265" stop-color="#010101"/><stop offset=".434" stop-color="#030303"/><stop offset=".4415" stop-color="#080808"/><stop offset=".4495" stop-color="#0e0e0e"/><stop offset=".4575" stop-color="#151515"/><stop offset=".4725" stop-color="#272727"/><stop offset=".4995" stop-color="#4b4b4b"/><stop offset=".51" stop-color="#585858"/><stop offset=".521" stop-color="#646464"/><stop offset=".531" stop-color="#6e6e6e"/><stop offset=".5415" stop-color="#767676"/><stop offset=".5515" stop-color="#7b7b7b"/><stop offset=".5615" stop-color="#7f7f7f"/><stop offset=".572" stop-color="#808080"/><stop offset=".5805" stop-color="#7f7f7f"/><stop offset=".589" stop-color="#7d7d7d"/><stop offset=".598" stop-color="#7a7a7a"/><stop offset=".608" stop-color="#757575"/><stop offset=".628" stop-color="#676767"/><stop offset=".6785" stop-color="#3e3e3e"/><stop offset=".7045" stop-color="#2b2b2b"/><stop offset=".7195" stop-color="#222222"/><stop offset=".734" stop-color="#1b1b1b"/><stop offset=".749" stop-color="#151515"/><stop offset=".765" stop-color="#0f0f0f"/><stop offset=".782" stop-color="#0b0b0b"/><stop offset=".8005" stop-color="#070707"/><stop offset=".821" stop-color="#040404"/><stop offset=".844" stop-color="#030303"/><stop offset=".8995" stop-color="#010101"/><stop offset="1" stop-color="#000000"/></linearGradient>
<linearGradient id="g25" gradientUnits="userSpaceOnUse" x1="0" y1="0" x2="0" y2="-296.750" spreadMethod="reflect"><stop offset="0" stop-color="#000000"/><stop offset=".005" stop-color="#010101"/><stop offset=".0105" stop-color="#020202"/><stop offset=".016" stop-color="#050505"/><stop offset=".0215" stop-color="#090909"/><stop offset=".0275" stop-color="#0f0f0f"/><stop offset=".034" stop-color="#161616"/><stop offset=".0605" stop-color="#363636"/><stop offset=".0725" stop-color="#434343"/><stop offset=".079" stop-color="#484848"/><stop offset=".0855" stop-color="#4c4c4c"/><stop offset=".0915" stop-color="#4f4f4f"/><stop offset=".0975" stop-color="#4f4f4f"/><stop offset=".1035" stop-color="#4f4f4f"/><stop offset=".1095" stop-color="#4c4c4c"/><stop offset=".116" stop-color="#494949"/><stop offset=".1225" stop-color="#434343"/><stop offset=".1345" stop-color="#373737"/><stop offset=".1625" stop-color="#151515"/><stop offset=".17" stop-color="#0d0d0d"/><stop offset=".1765" stop-color="#080808"/><stop offset=".1835" stop-color="#030303"/><stop offset=".1905" stop-color="#010101"/><stop offset=".197" stop-color="#000000"/><stop offset=".204" stop-color="#010101"/><stop offset=".2095" stop-color="#030303"/><stop offset=".215" stop-color="#070707"/><stop offset=".2205" stop-color="#0b0b0b"/><stop offset=".2265" stop-color="#111111"/><stop offset=".2375" stop-color="#1d1d1d"/><stop offset=".263" stop-color="#3d3d3d"/><stop offset=".27" stop-color="#454545"/><stop offset=".2765" stop-color="#4b4b4b"/><stop offset=".2835" stop-color="#515151"/><stop offset=".29" stop-color="#555555"/><stop offset=".2965" stop-color="#575757"/><stop offset=".3025" stop-color="#575757"/><stop offset=".309" stop-color="#575757"/><stop offset=".316" stop-color="#545454"/><stop offset=".323" stop-color="#505050"/><stop offset=".33" stop-color="#4a4a4a"/><stop offset=".343" stop-color="#3d3d3d"/><stop offset=".3745" stop-color="#181818"/><stop offset=".383" stop-color="#0f0f0f"/><stop offset=".3905" stop-color="#090909"/><stop offset=".3985" stop-color="#040404"/><stop offset=".406" stop-color="#010101"/><stop offset=".4135" stop-color="#000000"/><stop offset=".421" stop-color="#010101"/><stop offset=".4285" stop-color="#030303"/><stop offset=".436" stop-color="#080808"/><stop offset=".444" stop-color="#0e0e0e"/><stop offset=".452" stop-color="#161616"/><stop offset=".4665" stop-color="#272727"/><stop offset=".493" stop-color="#4b4b4b"/><stop offset=".5035" stop-color="#595959"/><stop offset=".514" stop-color="#656565"/><stop offset=".524" stop-color="#6f6f6f"/><stop offset=".5345" stop-color="#777777"/><stop offset=".5445" stop-color="#7d7d7d"/><stop offset=".5545" stop-color="#808080"/><stop offset=".565" stop-color="#828282"/><stop offset=".573" stop-color="#818181"/><stop offset=".5815" stop-color="#7f7f7f"/><stop offset=".5905" stop-color="#7b7b7b"/><stop offset=".6" stop-color="#767676"/><stop offset=".6195" stop-color="#696969"/><stop offset=".67" stop-color="#3f3f3f"/><stop offset=".6835" stop-color="#343434"/><stop offset=".6965" stop-color="#2b2b2b"/><stop offset=".7115" stop-color="#222222"/><stop offset=".7265" stop-color="#1a1a1a"/><stop offset=".7415" stop-color="#141414"/><stop offset=".7575" stop-color="#0f0f0f"/><stop offset=".775" stop-color="#0a0a0a"/><stop offset=".7935" stop-color="#070707"/><stop offset=".814" stop-color="#040404"/><stop offset=".837" stop-color="#020202"/><stop offset=".894" stop-color="#000000"/><stop offset="1" stop-color="#000000"/></linearGradient>
<linearGradient id="g26" gradientUnits="userSpaceOnUse" x1="0" y1="0" x2="0" y2="-296.750" spreadMethod="reflect"><stop offset="0" stop-color="#000000"/><stop offset=".005" stop-color="#010101"/><stop offset=".0105" stop-color="#020202"/><stop offset=".0155" stop-color="#050505"/><stop offset=".021" stop-color="#090909"/><stop offset=".027" stop-color="#0f0f0f"/><stop offset=".0335" stop-color="#161616"/><stop offset=".06" stop-color="#373737"/><stop offset=".0715" stop-color="#444444"/><stop offset=".078" stop-color="#494949"/><stop offset=".084" stop-color="#4d4d4d"/><stop offset=".09" stop-color="#505050"/><stop offset=".096" stop-color="#505050"/><stop offset=".102" stop-color="#505050"/><stop offset=".108" stop-color="#4e4e4e"/><stop offset=".1145" stop-color="#4a4a4a"/><stop offset=".121" stop-color="#444444"/><stop offset=".133" stop-color="#373737"/><stop offset=".1605" stop-color="#151515"/><stop offset=".168" stop-color="#0d0d0d"/><stop offset=".1745" stop-color="#080808"/><stop offset=".1815" stop-color="#030303"/><stop offset=".188" stop-color="#010101"/><stop offset=".1945" stop-color="#000000"/><stop offset=".201" stop-color="#010101"/><stop offset=".2065" stop-color="#030303"/><stop offset=".212" stop-color="#070707"/><stop offset=".2175" stop-color="#0b0b0b"/><stop offset=".2235" stop-color="#111111"/><stop offset=".234" stop-color="#1d1d1d"/><stop offset=".2595" stop-color="#3e3e3e"/><stop offset=".2665" stop-color="#464646"/><stop offset=".273" stop-color="#4d4d4d"/><stop offset=".2795" stop-color="#525252"/><stop offset=".286" stop-color="#565656"/><stop offset=".2925" stop-color="#585858"/><stop offset=".2985" stop-color="#595959"/><stop offset=".305" stop-color="#585858"/><stop offset=".3115" stop-color="#555555"/><stop offset=".3185" stop-color="#515151"/><stop offset=".3255" stop-color="#4b4b4b"/><stop offset=".3385" stop-color="#3e3e3e"/><stop offset=".3695" stop-color="#181818"/><stop offset=".378" stop-color="#0f0f0f"/><stop offset=".3855" stop-color="#090909"/><stop offset=".393" stop-color="#040404"/><stop offset=".4005" stop-color="#010101"/><stop offset=".408" stop-color="#000000"/><stop offset=".4155" stop-color="#010101"/><stop offset=".4225" stop-color="#030303"/><stop offset=".43" stop-color="#080808"/><stop offset=".438" stop-color="#0e0e0e"/><stop offset=".446" stop-color="#161616"/><stop offset=".4605" stop-color="#282828"/><stop offset=".4865" stop-color="#4c4c4c"/><stop offset=".497" stop-color="#5a5a5a"/><stop offset=".5075" stop-color="#676767"/><stop offset=".5175" stop-color="#717171"/><stop offset=".5275" stop-color="#797979"/><stop offset=".5375" stop-color="#7f7f7f"/><stop offset=".5475" stop-color="#828282"/><stop offset=".5575" stop-color="#838383"/><stop offset=".5655" stop-color="#838383"/><stop offset=".574" stop-color="#818181"/><stop offset=".5825" stop-color="#7d7d7d"/><stop offset=".592" stop-color="#787878"/><stop offset=".601" stop-color="#727272"/><stop offset=".6115" stop-color="#6a6a6a"/><stop offset=".6615" stop-color="#3f3f3f"/><stop offset=".675" stop-color="#353535"/><stop offset=".688" stop-color="#2b2b2b"/><stop offset=".703" stop-color="#222222"/><stop offset=".718" stop-color="#1a1a1a"/><stop offset=".733" stop-color="#141414"/><stop offset=".749" stop-color="#0e0e0e"/><stop offset=".7665" stop-color="#0a0a0a"/><stop offset=".785" stop-color="#070707"/><stop offset=".806" stop-color="#040404"/><stop offset=".8295" stop-color="#020202"/><stop offset=".8875" stop-color="#000000"/><stop offset="1" stop-color="#000000"/></linearGradient>
<linearGradient id="g27" gradientUnits="userSpaceOnUse" x1="0" y1="0" x2="0" y2="-296.750" spreadMethod="reflect"><stop offset="0" stop-color="#000000"/><stop offset=".006" stop-color="#010101"/><stop offset=".012" stop-color="#030303"/><stop offset=".018" stop-color="#070707"/><stop offset=".0245" stop-color="#0d0d0d"/><stop offset=".036" stop-color="#1a1a1a"/><stop offset=".0615" stop-color="#3b3b3b"/><stop offset=".068" stop-color="#424242"/><stop offset=".074" stop-color="#484848"/><stop offset=".0795" stop-color="#4c4c4c"/><stop offset=".0845" stop-color="#4f4f4f"/><stop offset=".09" stop-color="#515151"/><stop offset=".095" stop-color="#515151"/><stop offset=".101" stop-color="#515151"/><stop offset=".107" stop-color="#4e4e4e"/><stop offset=".113" stop-color="#4b4b4b"/><stop offset=".1195" stop-color="#454545"/><stop offset=".131" stop-color="#383838"/><stop offset=".158" stop-color="#161616"/><stop offset=".1655" stop-color="#0d0d0d"/><stop offset=".172" stop-color="#080808"/><stop offset=".179" stop-color="#030303"/><stop offset=".1855" stop-color="#010101"/><stop offset=".192" stop-color="#000000"/><stop offset=".1985" stop-color="#010101"/><stop offset=".2035" stop-color="#030303"/><stop offset=".209" stop-color="#070707"/><stop offset=".2145" stop-color="#0b0b0b"/><stop offset=".2205" stop-color="#111111"/><stop offset=".231" stop-color="#1e1e1e"/><stop offset=".256" stop-color="#3f3f3f"/><stop offset=".263" stop-color="#474747"/><stop offset=".269" stop-color="#4d4d4d"/><stop offset=".2755" stop-color="#535353"/><stop offset=".282" stop-color="#575757"/><stop offset=".288" stop-color="#595959"/><stop offset=".294" stop-color="#5a5a5a"/><stop offset=".3005" stop-color="#595959"/><stop offset=".307" stop-color="#575757"/><stop offset=".314" stop-color="#525252"/><stop offset=".321" stop-color="#4c4c4c"/><stop offset=".334" stop-color="#3e3e3e"/><stop offset=".3645" stop-color="#181818"/><stop offset=".3725" stop-color="#101010"/><stop offset=".38" stop-color="#090909"/><stop offset=".3875" stop-color="#040404"/><stop offset=".395" stop-color="#010101"/><stop offset=".4025" stop-color="#000000"/><stop offset=".41" stop-color="#010101"/><stop offset=".417" stop-color="#030303"/><stop offset=".424" stop-color="#080808"/><stop offset=".4315" stop-color="#0e0e0e"/><stop offset=".4395" stop-color="#161616"/><stop offset=".454" stop-color="#282828"/><stop offset=".48" stop-color="#4e4e4e"/><stop offset=".49" stop-color="#5b5b5b"/><stop offset=".5005" stop-color="#686868"/><stop offset=".51" stop-color="#727272"/><stop offset=".52" stop-color="#7b7b7b"/><stop offset=".53" stop-color="#818181"/><stop offset=".54" stop-color="#848484"/><stop offset=".55" stop-color="#858585"/><stop offset=".558" stop-color="#848484"/><stop offset=".566" stop-color="#828282"/><stop offset=".5745" stop-color="#7f7f7f"/><stop offset=".5835" stop-color="#7a7a7a"/><stop offset=".5925" stop-color="#747474"/><stop offset=".6025" stop-color="#6c6c6c"/><stop offset=".6525" stop-color="#404040"/><stop offset=".666" stop-color="#353535"/><stop offset=".679" stop-color="#2c2c2c"/><stop offset=".694" stop-color="#222222"/><stop offset=".709" stop-color="#1a1a1a"/><stop offset=".7245" stop-color="#141414"/><stop offset=".7405" stop-color="#0e0e0e"/><stop offset=".758" stop-color="#0a0a0a"/><stop offset=".7765" stop-color="#060606"/><stop offset=".7975" stop-color="#040404"/><stop offset=".8215" stop-color="#020202"/><stop offset=".8805" stop-color="#000000"/><stop offset="1" stop-color="#000000"/></linearGradient>
<linearGradient id="g28" gradientUnits="userSpaceOnUse" x1="0" y1="0" x2="0" y2="-296.750" spreadMethod="reflect"><stop offset="0" stop-color="#000000"/><stop offset=".005" stop-color="#010101"/><stop offset=".01" stop-color="#020202"/><stop offset=".015" stop-color="#050505"/><stop offset=".0205" stop-color="#090909"/><stop offset=".0265" stop-color="#0f0f0f"/><stop offset=".0325" stop-color="#161616"/><stop offset=".058" stop-color="#393939"/><stop offset=".0695" stop-color="#464646"/><stop offset=".076" stop-color="#4c4c4c"/><stop offset=".082" stop-color="#505050"/><stop offset=".088" stop-color="#525252"/><stop offset=".0935" stop-color="#535353"/><stop offset=".099" stop-color="#525252"/><stop offset=".105" stop-color="#505050"/><stop offset=".111" stop-color="#4c4c4c"/><stop offset=".1175" stop-color="#464646"/><stop offset=".129" stop-color="#393939"/><stop offset=".156" stop-color="#151515"/><stop offset=".163" stop-color="#0e0e0e"/><stop offset=".1695" stop-color="#080808"/><stop offset=".176" stop-color="#030303"/><stop offset=".1825" stop-color="#010101"/><stop offset=".189" stop-color="#000000"/><stop offset=".1955" stop-color="#010101"/><stop offset=".2005" stop-color="#030303"/><stop offset=".206" stop-color="#070707"/><stop offset=".2115" stop-color="#0b0b0b"/><stop offset=".217" stop-color="#111111"/><stop offset=".2275" stop-color="#1e1e1e"/><stop offset=".2525" stop-color="#404040"/><stop offset=".2595" stop-color="#494949"/><stop offset=".2655" stop-color="#4f4f4f"/><stop offset=".272" stop-color="#545454"/><stop offset=".278" stop-color="#585858"/><stop offset=".284" stop-color="#5a5a5a"/><stop offset=".29" stop-color="#5b5b5b"/><stop offset=".2965" stop-color="#5a5a5a"/><stop offset=".303" stop-color="#585858"/><stop offset=".3095" stop-color="#535353"/><stop offset=".3165" stop-color="#4d4d4d"/><stop offset=".329" stop-color="#404040"/><stop offset=".359" stop-color="#191919"/><stop offset=".367" stop-color="#101010"/><stop offset=".3745" stop-color="#090909"/><stop offset=".382" stop-color="#040404"/><stop offset=".3895" stop-color="#010101"/><stop offset=".397" stop-color="#000000"/><stop offset=".404" stop-color="#010101"/><stop offset=".411" stop-color="#040404"/><stop offset=".418" stop-color="#080808"/><stop offset=".4255" stop-color="#0e0e0e"/><stop offset=".4335" stop-color="#171717"/><stop offset=".4475" stop-color="#292929"/><stop offset=".473" stop-color="#4f4f4f"/><stop offset=".483" stop-color="#5d5d5d"/><stop offset=".493" stop-color="#6a6a6a"/><stop offset=".5025" stop-color="#747474"/><stop offset=".5125" stop-color="#7c7c7c"/><stop offset=".5225" stop-color="#838383"/><stop offset=".532" stop-color="#868686"/><stop offset=".542" stop-color="#878787"/><stop offset=".551" stop-color="#868686"/><stop offset=".56" stop-color="#838383"/><stop offset=".57" stop-color="#7f7f7f"/><stop offset=".5805" stop-color="#787878"/><stop offset=".599" stop-color="#696969"/><stop offset=".634" stop-color="#494949"/><stop offset=".649" stop-color="#3c3c3c"/><stop offset=".664" stop-color="#303030"/><stop offset=".6785" stop-color="#262626"/><stop offset=".6915" stop-color="#1e1e1e"/><stop offset=".7045" stop-color="#181818"/><stop offset=".7175" stop-color="#121212"/><stop offset=".7315" stop-color="#0e0e0e"/><stop offset=".7485" stop-color="#090909"/><stop offset=".7675" stop-color="#060606"/><stop offset=".7885" stop-color="#040404"/><stop offset=".813" stop-color="#020202"/><stop offset=".8725" stop-color="#000000"/><stop offset="1" stop-color="#000000"/></linearGradient>
<linearGradient id="g29" gradientUnits="userSpaceOnUse" x1="0" y1="0" x2="0" y2="-296.750" spreadMethod="reflect"><stop offset="0" stop-color="#000000"/><stop offset=".005" stop-color="#010101"/><stop offset=".01" stop-color="#020202"/><stop offset=".015" stop-color="#050505"/><stop offset=".02" stop-color="#090909"/><stop offset=".0255" stop-color="#0f0f0f"/><stop offset=".032" stop-color="#171717"/><stop offset=".057" stop-color="#393939"/><stop offset=".0685" stop-color="#474747"/><stop offset=".0745" stop-color="#4d4d4d"/><stop offset=".0805" stop-color="#515151"/><stop offset=".0865" stop-color="#535353"/><stop offset=".092" stop-color="#545454"/><stop offset=".0975" stop-color="#535353"/><stop offset=".1035" stop-color="#515151"/><stop offset=".1095" stop-color="#4d4d4d"/><stop offset=".116" stop-color="#474747"/><stop offset=".127" stop-color="#3a3a3a"/><stop offset=".1535" stop-color="#161616"/><stop offset=".1605" stop-color="#0e0e0e"/><stop offset=".167" stop-color="#080808"/><stop offset=".1735" stop-color="#030303"/><stop offset=".18" stop-color="#010101"/><stop offset=".186" stop-color="#000000"/><stop offset=".1925" stop-color="#010101"/><stop offset=".1975" stop-color="#030303"/><stop offset=".203" stop-color="#070707"/><stop offset=".2085" stop-color="#0c0c0c"/><stop offset=".214" stop-color="#121212"/><stop offset=".224" stop-color="#1e1e1e"/><stop offset=".2485" stop-color="#414141"/><stop offset=".2555" stop-color="#4a4a4a"/><stop offset=".2615" stop-color="#505050"/><stop offset=".2675" stop-color="#555555"/><stop offset=".2735" stop-color="#595959"/><stop offset=".2795" stop-color="#5c5c5c"/><stop offset=".2855" stop-color="#5c5c5c"/><stop offset=".2915" stop-color="#5c5c5c"/><stop offset=".298" stop-color="#595959"/><stop offset=".3045" stop-color="#555555"/><stop offset=".3115" stop-color="#4f4f4f"/><stop offset=".324" stop-color="#414141"/><stop offset=".354" stop-color="#191919"/><stop offset=".362" stop-color="#101010"/><stop offset=".369" stop-color="#090909"/><stop offset=".3765" stop-color="#040404"/><stop offset=".3835" stop-color="#010101"/><stop offset=".3905" stop-color="#000000"/><stop offset=".3975" stop-color="#010101"/><stop offset=".4045" stop-color="#030303"/><stop offset=".4115" stop-color="#080808"/><stop offset=".419" stop-color="#0f0f0f"/><stop offset=".4265" stop-color="#171717"/><stop offset=".4405" stop-color="#2a2a2a"/><stop offset=".466" stop-color="#505050"/><stop offset=".476" stop-color="#5f5f5f"/><stop offset=".486" stop-color="#6c6c6c"/><stop offset=".495" stop-color="#767676"/><stop offset=".505" stop-color="#7f7f7f"/><stop offset=".5145" stop-color="#848484"/><stop offset=".524" stop-color="#888888"/><stop offset=".5335" stop-color="#898989"/><stop offset=".5425" stop-color="#888888"/><stop offset=".5515" stop-color="#858585"/><stop offset=".561" stop-color="#818181"/><stop offset=".5715" stop-color="#7a7a7a"/><stop offset=".59" stop-color="#6b6b6b"/><stop offset=".6245" stop-color="#4a4a4a"/><stop offset=".6395" stop-color="#3d3d3d"/><stop offset=".6545" stop-color="#303030"/><stop offset=".669" stop-color="#262626"/><stop offset=".682" stop-color="#1e1e1e"/><stop offset=".695" stop-color="#181818"/><stop offset=".7085" stop-color="#121212"/><stop offset=".7225" stop-color="#0d0d0d"/><stop offset=".7395" stop-color="#090909"/><stop offset=".7585" stop-color="#060606"/><stop offset=".7795" stop-color="#030303"/><stop offset=".804" stop-color="#020202"/><stop offset=".8645" stop-color="#000000"/><stop offset="1" stop-color="#000000"/></linearGradient>
<linearGradient id="g30" gradientUnits="userSpaceOnUse" x1="0" y1="0" x2="0" y2="-296.750" spreadMethod="reflect"><stop offset="0" stop-color="#000000"/><stop offset=".005" stop-color="#010101"/><stop offset=".01" stop-color="#030303"/><stop offset=".015" stop-color="#060606"/><stop offset=".02" stop-color="#0a0a0a"/><stop offset=".0255" stop-color="#101010"/><stop offset=".0315" stop-color="#171717"/><stop offset=".056" stop-color="#3a3a3a"/><stop offset=".067" stop-color="#484848"/><stop offset=".073" stop-color="#4e4e4e"/><stop offset=".079" stop-color="#525252"/><stop offset=".085" stop-color="#545454"/><stop offset=".0905" stop-color="#555555"/><stop offset=".096" stop-color="#555555"/><stop offset=".102" stop-color="#525252"/><stop offset=".108" stop-color="#4e4e4e"/><stop offset=".114" stop-color="#484848"/><stop offset=".125" stop-color="#3b3b3b"/><stop offset=".151" stop-color="#161616"/><stop offset=".158" stop-color="#0e0e0e"/><stop offset=".164" stop-color="#080808"/><stop offset=".1705" stop-color="#040404"/><stop offset=".177" stop-color="#010101"/><stop offset=".183" stop-color="#000000"/><stop offset=".1895" stop-color="#010101"/><stop offset=".1945" stop-color="#030303"/><stop offset=".1995" stop-color="#070707"/><stop offset=".205" stop-color="#0c0c0c"/><stop offset=".2105" stop-color="#121212"/><stop offset=".2205" stop-color="#1f1f1f"/><stop offset=".2445" stop-color="#424242"/><stop offset=".251" stop-color="#4a4a4a"/><stop offset=".257" stop-color="#515151"/><stop offset=".2635" stop-color="#575757"/><stop offset=".2695" stop-color="#5b5b5b"/><stop offset=".2755" stop-color="#5d5d5d"/><stop offset=".281" stop-color="#5e5e5e"/><stop offset=".287" stop-color="#5d5d5d"/><stop offset=".2935" stop-color="#5b5b5b"/><stop offset=".3" stop-color="#565656"/><stop offset=".307" stop-color="#505050"/><stop offset=".319" stop-color="#414141"/><stop offset=".348" stop-color="#1a1a1a"/><stop offset=".356" stop-color="#101010"/><stop offset=".363" stop-color="#0a0a0a"/><stop offset=".3705" stop-color="#040404"/><stop offset=".3775" stop-color="#010101"/><stop offset=".3845" stop-color="#000000"/><stop offset=".3915" stop-color="#010101"/><stop offset=".398" stop-color="#030303"/><stop offset=".405" stop-color="#080808"/><stop offset=".4125" stop-color="#0f0f0f"/><stop offset=".42" stop-color="#171717"/><stop offset=".4265" stop-color="#202020"/><stop offset=".434" stop-color="#2b2b2b"/><stop offset=".4585" stop-color="#515151"/><stop offset=".468" stop-color="#606060"/><stop offset=".478" stop-color="#6d6d6d"/><stop offset=".487" stop-color="#777777"/><stop offset=".4965" stop-color="#808080"/><stop offset=".506" stop-color="#868686"/><stop offset=".5155" stop-color="#8a8a8a"/><stop offset=".525" stop-color="#8b8b8b"/><stop offset=".5335" stop-color="#8b8b8b"/><stop offset=".5425" stop-color="#888888"/><stop offset=".552" stop-color="#838383"/><stop offset=".5625" stop-color="#7c7c7c"/><stop offset=".5805" stop-color="#6c6c6c"/><stop offset=".615" stop-color="#4b4b4b"/><stop offset=".6295" stop-color="#3d3d3d"/><stop offset=".6445" stop-color="#313131"/><stop offset=".6585" stop-color="#272727"/><stop offset=".6715" stop-color="#1f1f1f"/><stop offset=".685" stop-color="#181818"/><stop offset=".6985" stop-color="#121212"/><stop offset=".713" stop-color="#0d0d0d"/><stop offset=".73" stop-color="#090909"/><stop offset=".749" stop-color="#050505"/><stop offset=".77" stop-color="#030303"/><stop offset=".795" stop-color="#020202"/><stop offset=".856" stop-color="#000000"/><stop offset="1" stop-color="#000000"/></linearGradient>
<linearGradient id="g31" gradientUnits="userSpaceOnUse" x1="0" y1="0" x2="0" y2="-296.750" spreadMethod="reflect"><stop offset="0" stop-color="#000000"/><stop offset=".0045" stop-color="#010101"/><stop offset=".0095" stop-color="#020202"/><stop offset=".0145" stop-color="#060606"/><stop offset=".0195" stop-color="#0a0a0a"/><stop offset=".025" stop-color="#101010"/><stop offset=".031" stop-color="#171717"/><stop offset=".0555" stop-color="#3c3c3c"/><stop offset=".066" stop-color="#494949"/><stop offset=".072" stop-color="#4f4f4f"/><stop offset=".078" stop-color="#535353"/><stop offset=".0835" stop-color="#565656"/><stop offset=".089" stop-color="#575757"/><stop offset=".0945" stop-color="#565656"/><stop offset=".1" stop-color="#545454"/><stop offset=".106" stop-color="#505050"/><stop offset=".112" stop-color="#4a4a4a"/><stop offset=".123" stop-color="#3c3c3c"/><stop offset=".1485" stop-color="#171717"/><stop offset=".1555" stop-color="#0e0e0e"/><stop offset=".1615" stop-color="#080808"/><stop offset=".168" stop-color="#030303"/><stop offset=".174" stop-color="#010101"/><stop offset=".18" stop-color="#000000"/><stop offset=".1865" stop-color="#010101"/><stop offset=".1915" stop-color="#040404"/><stop offset=".1965" stop-color="#070707"/><stop offset=".2015" stop-color="#0c0c0c"/><stop offset=".207" stop-color="#121212"/><stop offset=".217" stop-color="#202020"/><stop offset=".2405" stop-color="#434343"/><stop offset=".247" stop-color="#4c4c4c"/><stop offset=".253" stop-color="#535353"/><stop offset=".259" stop-color="#585858"/><stop offset=".265" stop-color="#5c5c5c"/><stop offset=".271" stop-color="#5f5f5f"/><stop offset=".2765" stop-color="#606060"/><stop offset=".2825" stop-color="#5f5f5f"/><stop offset=".289" stop-color="#5c5c5c"/><stop offset=".2955" stop-color="#575757"/><stop offset=".302" stop-color="#515151"/><stop offset=".314" stop-color="#424242"/><stop offset=".3345" stop-color="#252525"/><stop offset=".3425" stop-color="#1a1a1a"/><stop offset=".35" stop-color="#111111"/><stop offset=".357" stop-color="#0a0a0a"/><stop offset=".364" stop-color="#050505"/><stop offset=".371" stop-color="#010101"/><stop offset=".378" stop-color="#000000"/><stop offset=".385" stop-color="#010101"/><stop offset=".3915" stop-color="#040404"/><stop offset=".3985" stop-color="#080808"/><stop offset=".4055" stop-color="#0f0f0f"/><stop offset=".413" stop-color="#181818"/><stop offset=".4265" stop-color="#2b2b2b"/><stop offset=".451" stop-color="#535353"/><stop offset=".4605" stop-color="#626262"/><stop offset=".47" stop-color="#6f6f6f"/><stop offset=".479" stop-color="#797979"/><stop offset=".4885" stop-color="#828282"/><stop offset=".498" stop-color="#898989"/><stop offset=".507" stop-color="#8d8d8d"/><stop offset=".5165" stop-color="#8e8e8e"/><stop offset=".525" stop-color="#8d8d8d"/><stop offset=".534" stop-color="#8a8a8a"/><stop offset=".543" stop-color="#858585"/><stop offset=".553" stop-color="#7e7e7e"/><stop offset=".571" stop-color="#6e6e6e"/><stop offset=".6045" stop-color="#4c4c4c"/><stop offset=".619" stop-color="#3f3f3f"/><stop offset=".634" stop-color="#323232"/><stop offset=".648" stop-color="#272727"/><stop offset=".661" stop-color="#1f1f1f"/><stop offset=".6745" stop-color="#181818"/><stop offset=".6885" stop-color="#121212"/><stop offset=".703" stop-color="#0d0d0d"/><stop offset=".72" stop-color="#080808"/><stop offset=".739" stop-color="#050505"/><stop offset=".76" stop-color="#030303"/><stop offset=".785" stop-color="#010101"/><stop offset=".847" stop-color="#000000"/><stop offset="1" stop-color="#000000"/></linearGradient>
<linearGradient id="g32" gradientUnits="userSpaceOnUse" x1="0" y1="0" x2="0" y2="-296.750" spreadMethod="reflect"><stop offset="0" stop-color="#000000"/><stop offset=".0045" stop-color="#010101"/><stop offset=".0095" stop-color="#030303"/><stop offset=".014" stop-color="#050505"/><stop offset=".019" stop-color="#0a0a0a"/><stop offset=".0245" stop-color="#101010"/><stop offset=".0305" stop-color="#181818"/><stop offset=".0545" stop-color="#3d3d3d"/><stop offset=".065" stop-color="#4b4b4b"/><stop offset=".071" stop-color="#515151"/><stop offset=".0765" stop-color="#555555"/><stop offset=".082" stop-color="#575757"/><stop offset=".0875" stop-color="#585858"/><stop offset=".093" stop-color="#575757"/><stop offset=".0985" stop-color="#555555"/><stop offset=".104" stop-color="#515151"/><stop offset=".11" stop-color="#4b4b4b"/><stop offset=".121" stop-color="#3d3d3d"/><stop offset=".146" stop-color="#171717"/><stop offset=".1525" stop-color="#0f0f0f"/><stop offset=".1585" stop-color="#090909"/><stop offset=".165" stop-color="#040404"/><stop offset=".171" stop-color="#010101"/><stop offset=".177" stop-color="#000000"/><stop offset=".183" stop-color="#010101"/><stop offset=".188" stop-color="#040404"/><stop offset=".193" stop-color="#070707"/><stop offset=".198" stop-color="#0c0c0c"/><stop offset=".2035" stop-color="#121212"/><stop offset=".213" stop-color="#202020"/><stop offset=".2365" stop-color="#454545"/><stop offset=".243" stop-color="#4e4e4e"/><stop offset=".2485" stop-color="#545454"/><stop offset=".2545" stop-color="#5a5a5a"/><stop offset=".26" stop-color="#5e5e5e"/><stop offset=".266" stop-color="#606060"/><stop offset=".2715" stop-color="#616161"/><stop offset=".2775" stop-color="#606060"/><stop offset=".2835" stop-color="#5e5e5e"/><stop offset=".29" stop-color="#595959"/><stop offset=".2965" stop-color="#535353"/><stop offset=".302" stop-color="#4c4c4c"/><stop offset=".3085" stop-color="#434343"/><stop offset=".3365" stop-color="#1a1a1a"/><stop offset=".344" stop-color="#111111"/><stop offset=".351" stop-color="#0a0a0a"/><stop offset=".358" stop-color="#040404"/><stop offset=".365" stop-color="#010101"/><stop offset=".372" stop-color="#000000"/><stop offset=".3785" stop-color="#010101"/><stop offset=".385" stop-color="#040404"/><stop offset=".3915" stop-color="#080808"/><stop offset=".3985" stop-color="#0f0f0f"/><stop offset=".406" stop-color="#181818"/><stop offset=".4125" stop-color="#222222"/><stop offset=".4195" stop-color="#2c2c2c"/><stop offset=".443" stop-color="#545454"/><stop offset=".4525" stop-color="#636363"/><stop offset=".462" stop-color="#717171"/><stop offset=".471" stop-color="#7c7c7c"/><stop offset=".4805" stop-color="#858585"/><stop offset=".4895" stop-color="#8b8b8b"/><stop offset=".4985" stop-color="#8f8f8f"/><stop offset=".5075" stop-color="#909090"/><stop offset=".516" stop-color="#8f8f8f"/><stop offset=".5245" stop-color="#8c8c8c"/><stop offset=".5335" stop-color="#878787"/><stop offset=".5435" stop-color="#808080"/><stop offset=".561" stop-color="#707070"/><stop offset=".594" stop-color="#4e4e4e"/><stop offset=".6085" stop-color="#404040"/><stop offset=".6235" stop-color="#323232"/><stop offset=".6375" stop-color="#272727"/><stop offset=".6505" stop-color="#1f1f1f"/><stop offset=".664" stop-color="#171717"/><stop offset=".678" stop-color="#111111"/><stop offset=".6925" stop-color="#0c0c0c"/><stop offset=".7095" stop-color="#080808"/><stop offset=".7285" stop-color="#050505"/><stop offset=".75" stop-color="#030303"/><stop offset=".775" stop-color="#010101"/><stop offset=".8375" stop-color="#000000"/><stop offset="1" stop-color="#000000"/></linearGradient>
<linearGradient id="g33" gradientUnits="userSpaceOnUse" x1="0" y1="0" x2="0" y2="-296.750" spreadMethod="reflect"><stop offset="0" stop-color="#000000"/><stop offset=".0045" stop-color="#010101"/><stop offset=".0095" stop-color="#030303"/><stop offset=".014" stop-color="#060606"/><stop offset=".019" stop-color="#0a0a0a"/><stop offset=".0245" stop-color="#111111"/><stop offset=".03" stop-color="#181818"/><stop offset=".0535" stop-color="#3e3e3e"/><stop offset=".064" stop-color="#4c4c4c"/><stop offset=".07" stop-color="#525252"/><stop offset=".0755" stop-color="#575757"/><stop offset=".081" stop-color="#595959"/><stop offset=".086" stop-color="#5a5a5a"/><stop offset=".091" stop-color="#595959"/><stop offset=".0965" stop-color="#575757"/><stop offset=".102" stop-color="#535353"/><stop offset=".108" stop-color="#4d4d4d"/><stop offset=".1185" stop-color="#3e3e3e"/><stop offset=".1435" stop-color="#171717"/><stop offset=".15" stop-color="#0f0f0f"/><stop offset=".156" stop-color="#080808"/><stop offset=".162" stop-color="#040404"/><stop offset=".168" stop-color="#010101"/><stop offset=".174" stop-color="#000000"/><stop offset=".18" stop-color="#010101"/><stop offset=".1845" stop-color="#040404"/><stop offset=".1895" stop-color="#070707"/><stop offset=".1945" stop-color="#0c0c0c"/><stop offset=".2" stop-color="#131313"/><stop offset=".2095" stop-color="#212121"/><stop offset=".232" stop-color="#454545"/><stop offset=".2385" stop-color="#4f4f4f"/><stop offset=".244" stop-color="#565656"/><stop offset=".25" stop-color="#5c5c5c"/><stop offset=".2555" stop-color="#606060"/><stop offset=".2615" stop-color="#626262"/><stop offset=".267" stop-color="#636363"/><stop offset=".273" stop-color="#626262"/><stop offset=".279" stop-color="#5f5f5f"/><stop offset=".285" stop-color="#5b5b5b"/><stop offset=".2915" stop-color="#545454"/><stop offset=".303" stop-color="#454545"/><stop offset=".323" stop-color="#262626"/><stop offset=".3305" stop-color="#1b1b1b"/><stop offset=".338" stop-color="#111111"/><stop offset=".3445" stop-color="#0a0a0a"/><stop offset=".3515" stop-color="#050505"/><stop offset=".358" stop-color="#010101"/><stop offset=".365" stop-color="#000000"/><stop offset=".3715" stop-color="#010101"/><stop offset=".378" stop-color="#040404"/><stop offset=".3845" stop-color="#090909"/><stop offset=".3915" stop-color="#101010"/><stop offset=".3985" stop-color="#191919"/><stop offset=".4045" stop-color="#212121"/><stop offset=".4115" stop-color="#2c2c2c"/><stop offset=".435" stop-color="#555555"/><stop offset=".4445" stop-color="#656565"/><stop offset=".454" stop-color="#737373"/><stop offset=".4625" stop-color="#7e7e7e"/><stop offset=".4715" stop-color="#878787"/><stop offset=".4805" stop-color="#8e8e8e"/><stop offset=".4895" stop-color="#929292"/><stop offset=".4985" stop-color="#939393"/><stop offset=".507" stop-color="#929292"/><stop offset=".5155" stop-color="#8f8f8f"/><stop offset=".5245" stop-color="#8a8a8a"/><stop offset=".534" stop-color="#828282"/><stop offset=".551" stop-color="#727272"/><stop offset=".5835" stop-color="#4f4f4f"/><stop offset=".598" stop-color="#404040"/><stop offset=".6125" stop-color="#333333"/><stop offset=".6265" stop-color="#282828"/><stop offset=".6395" stop-color="#1f1f1f"/><stop offset=".653" stop-color="#171717"/><stop offset=".667" stop-color="#111111"/><stop offset=".682" stop-color="#0c0c0c"/><stop offset=".699" stop-color="#080808"/><stop offset=".7175" stop-color="#050505"/><stop offset=".739" stop-color="#030303"/><stop offset=".7645" stop-color="#010101"/><stop offset=".8275" stop-color="#000000"/><stop offset="1" stop-color="#000000"/></linearGradient>
<linearGradient id="g34" gradientUnits="userSpaceOnUse" x1="0" y1="0" x2="0" y2="-296.750" spreadMethod="reflect"><stop offset="0" stop-color="#000000"/><stop offset=".005" stop-color="#010101"/><stop offset=".0105" stop-color="#030303"/><stop offset=".016" stop-color="#080808"/><stop offset=".0215" stop-color="#0e0e0e"/><stop offset=".0265" stop-color="#151515"/><stop offset=".032" stop-color="#1d1d1d"/><stop offset=".055" stop-color="#434343"/><stop offset=".0605" stop-color="#4b4b4b"/><stop offset=".066" stop-color="#515151"/><stop offset=".071" stop-color="#565656"/><stop offset=".0755" stop-color="#595959"/><stop offset=".08" stop-color="#5b5b5b"/><stop offset=".0845" stop-color="#5c5c5c"/><stop offset=".0895" stop-color="#5b5b5b"/><stop offset=".095" stop-color="#585858"/><stop offset=".1005" stop-color="#545454"/><stop offset=".106" stop-color="#4e4e4e"/><stop offset=".111" stop-color="#474747"/><stop offset=".1165" stop-color="#3f3f3f"/><stop offset=".1405" stop-color="#181818"/><stop offset=".147" stop-color="#0f0f0f"/><stop offset=".153" stop-color="#090909"/><stop offset=".159" stop-color="#040404"/><stop offset=".165" stop-color="#010101"/><stop offset=".1705" stop-color="#000000"/><stop offset=".1765" stop-color="#010101"/><stop offset=".181" stop-color="#040404"/><stop offset=".186" stop-color="#070707"/><stop offset=".191" stop-color="#0d0d0d"/><stop offset=".196" stop-color="#131313"/><stop offset=".2055" stop-color="#212121"/><stop offset=".228" stop-color="#474747"/><stop offset=".234" stop-color="#505050"/><stop offset=".2395" stop-color="#575757"/><stop offset=".2455" stop-color="#5d5d5d"/><stop offset=".251" stop-color="#626262"/><stop offset=".2565" stop-color="#646464"/><stop offset=".262" stop-color="#656565"/><stop offset=".2675" stop-color="#646464"/><stop offset=".2735" stop-color="#616161"/><stop offset=".2795" stop-color="#5c5c5c"/><stop offset=".286" stop-color="#555555"/><stop offset=".2915" stop-color="#4e4e4e"/><stop offset=".2975" stop-color="#464646"/><stop offset=".324" stop-color="#1c1c1c"/><stop offset=".3315" stop-color="#121212"/><stop offset=".338" stop-color="#0a0a0a"/><stop offset=".345" stop-color="#050505"/><stop offset=".3515" stop-color="#010101"/><stop offset=".358" stop-color="#000000"/><stop offset=".3645" stop-color="#010101"/><stop offset=".371" stop-color="#040404"/><stop offset=".3775" stop-color="#090909"/><stop offset=".384" stop-color="#101010"/><stop offset=".391" stop-color="#191919"/><stop offset=".397" stop-color="#222222"/><stop offset=".404" stop-color="#2e2e2e"/><stop offset=".427" stop-color="#575757"/><stop offset=".436" stop-color="#676767"/><stop offset=".4455" stop-color="#767676"/><stop offset=".454" stop-color="#818181"/><stop offset=".463" stop-color="#8a8a8a"/><stop offset=".4715" stop-color="#909090"/><stop offset=".48" stop-color="#949494"/><stop offset=".489" stop-color="#969696"/><stop offset=".497" stop-color="#959595"/><stop offset=".5055" stop-color="#929292"/><stop offset=".514" stop-color="#8d8d8d"/><stop offset=".5235" stop-color="#858585"/><stop offset=".5405" stop-color="#757575"/><stop offset=".573" stop-color="#505050"/><stop offset=".587" stop-color="#414141"/><stop offset=".6015" stop-color="#333333"/><stop offset=".6155" stop-color="#282828"/><stop offset=".6285" stop-color="#1f1f1f"/><stop offset=".642" stop-color="#171717"/><stop offset=".656" stop-color="#111111"/><stop offset=".671" stop-color="#0c0c0c"/><stop offset=".688" stop-color="#080808"/><stop offset=".7065" stop-color="#050505"/><stop offset=".7275" stop-color="#020202"/><stop offset=".753" stop-color="#010101"/><stop offset=".8165" stop-color="#000000"/><stop offset="1" stop-color="#000000"/></linearGradient>
<linearGradient id="g35" gradientUnits="userSpaceOnUse" x1="0" y1="0" x2="0" y2="-296.750" spreadMethod="reflect"><stop offset="0" stop-color="#000000"/><stop offset=".005" stop-color="#010101"/><stop offset=".01" stop-color="#030303"/><stop offset=".0155" stop-color="#080808"/><stop offset=".021" stop-color="#0e0e0e"/><stop offset=".026" stop-color="#151515"/><stop offset=".031" stop-color="#1d1d1d"/><stop offset=".054" stop-color="#444444"/><stop offset=".0595" stop-color="#4c4c4c"/><stop offset=".0645" stop-color="#535353"/><stop offset=".0695" stop-color="#585858"/><stop offset=".074" stop-color="#5b5b5b"/><stop offset=".0785" stop-color="#5d5d5d"/><stop offset=".083" stop-color="#5d5d5d"/><stop offset=".088" stop-color="#5d5d5d"/><stop offset=".093" stop-color="#5a5a5a"/><stop offset=".0985" stop-color="#565656"/><stop offset=".104" stop-color="#4f4f4f"/><stop offset=".114" stop-color="#414141"/><stop offset=".138" stop-color="#181818"/><stop offset=".144" stop-color="#101010"/><stop offset=".15" stop-color="#090909"/><stop offset=".156" stop-color="#040404"/><stop offset=".1615" stop-color="#010101"/><stop offset=".167" stop-color="#000000"/><stop offset=".173" stop-color="#010101"/><stop offset=".1775" stop-color="#040404"/><stop offset=".182" stop-color="#070707"/><stop offset=".187" stop-color="#0d0d0d"/><stop offset=".192" stop-color="#131313"/><stop offset=".2015" stop-color="#222222"/><stop offset=".2235" stop-color="#494949"/><stop offset=".2295" stop-color="#525252"/><stop offset=".235" stop-color="#595959"/><stop offset=".2405" stop-color="#5f5f5f"/><stop offset=".246" stop-color="#636363"/><stop offset=".2515" stop-color="#666666"/><stop offset=".2565" stop-color="#676767"/><stop offset=".262" stop-color="#666666"/><stop offset=".268" stop-color="#636363"/><stop offset=".274" stop-color="#5e5e5e"/><stop offset=".28" stop-color="#585858"/><stop offset=".2855" stop-color="#505050"/><stop offset=".2915" stop-color="#474747"/><stop offset=".3105" stop-color="#282828"/><stop offset=".318" stop-color="#1c1c1c"/><stop offset=".325" stop-color="#121212"/><stop offset=".3315" stop-color="#0a0a0a"/><stop offset=".338" stop-color="#050505"/><stop offset=".3445" stop-color="#010101"/><stop offset=".351" stop-color="#000000"/><stop offset=".3575" stop-color="#010101"/><stop offset=".3635" stop-color="#040404"/><stop offset=".37" stop-color="#090909"/><stop offset=".3765" stop-color="#101010"/><stop offset=".3835" stop-color="#1a1a1a"/><stop offset=".3895" stop-color="#232323"/><stop offset=".396" stop-color="#2e2e2e"/><stop offset=".4185" stop-color="#595959"/><stop offset=".4275" stop-color="#696969"/><stop offset=".4365" stop-color="#777777"/><stop offset=".445" stop-color="#838383"/><stop offset=".454" stop-color="#8d8d8d"/><stop offset=".4625" stop-color="#939393"/><stop offset=".471" stop-color="#979797"/><stop offset=".4795" stop-color="#999999"/><stop offset=".4875" stop-color="#989898"/><stop offset=".4955" stop-color="#959595"/><stop offset=".504" stop-color="#8f8f8f"/><stop offset=".5135" stop-color="#888888"/><stop offset=".53" stop-color="#777777"/><stop offset=".5615" stop-color="#525252"/><stop offset=".5755" stop-color="#434343"/><stop offset=".59" stop-color="#343434"/><stop offset=".6035" stop-color="#292929"/><stop offset=".617" stop-color="#1f1f1f"/><stop offset=".6305" stop-color="#171717"/><stop offset=".6445" stop-color="#111111"/><stop offset=".6595" stop-color="#0c0c0c"/><stop offset=".676" stop-color="#070707"/><stop offset=".6945" stop-color="#040404"/><stop offset=".716" stop-color="#020202"/><stop offset=".7415" stop-color="#010101"/><stop offset=".805" stop-color="#000000"/><stop offset="1" stop-color="#000000"/></linearGradient>
<linearGradient id="g36" gradientUnits="userSpaceOnUse" x1="0" y1="0" x2="0" y2="-296.750" spreadMethod="reflect"><stop offset="0" stop-color="#000000"/><stop offset=".0045" stop-color="#010101"/><stop offset=".009" stop-color="#030303"/><stop offset=".0135" stop-color="#060606"/><stop offset=".018" stop-color="#0b0b0b"/><stop offset=".023" stop-color="#121212"/><stop offset=".0285" stop-color="#1a1a1a"/><stop offset=".05" stop-color="#414141"/><stop offset=".0555" stop-color="#4a4a4a"/><stop offset=".06" stop-color="#505050"/><stop offset=".0655" stop-color="#575757"/><stop offset=".071" stop-color="#5c5c5c"/><stop offset=".076" stop-color="#5e5e5e"/><stop offset=".081" stop-color="#5f5f5f"/><stop offset=".086" stop-color="#5f5f5f"/><stop offset=".091" stop-color="#5c5c5c"/><stop offset=".0965" stop-color="#575757"/><stop offset=".102" stop-color="#515151"/><stop offset=".107" stop-color="#4a4a4a"/><stop offset=".112" stop-color="#424242"/><stop offset=".135" stop-color="#191919"/><stop offset=".1415" stop-color="#101010"/><stop offset=".147" stop-color="#090909"/><stop offset=".153" stop-color="#040404"/><stop offset=".1585" stop-color="#010101"/><stop offset=".164" stop-color="#000000"/><stop offset=".1695" stop-color="#010101"/><stop offset=".174" stop-color="#040404"/><stop offset=".1785" stop-color="#080808"/><stop offset=".1835" stop-color="#0d0d0d"/><stop offset=".1885" stop-color="#141414"/><stop offset=".1975" stop-color="#232323"/><stop offset=".219" stop-color="#4a4a4a"/><stop offset=".2245" stop-color="#535353"/><stop offset=".23" stop-color="#5b5b5b"/><stop offset=".2355" stop-color="#616161"/><stop offset=".241" stop-color="#666666"/><stop offset=".2465" stop-color="#686868"/><stop offset=".2515" stop-color="#696969"/><stop offset=".257" stop-color="#686868"/><stop offset=".2625" stop-color="#656565"/><stop offset=".2685" stop-color="#606060"/><stop offset=".2745" stop-color="#595959"/><stop offset=".2795" stop-color="#525252"/><stop offset=".2855" stop-color="#494949"/><stop offset=".3045" stop-color="#282828"/><stop offset=".3115" stop-color="#1c1c1c"/><stop offset=".3185" stop-color="#121212"/><stop offset=".3245" stop-color="#0b0b0b"/><stop offset=".331" stop-color="#050505"/><stop offset=".3375" stop-color="#010101"/><stop offset=".344" stop-color="#000000"/><stop offset=".35" stop-color="#010101"/><stop offset=".356" stop-color="#040404"/><stop offset=".3625" stop-color="#090909"/><stop offset=".369" stop-color="#111111"/><stop offset=".3755" stop-color="#1a1a1a"/><stop offset=".3815" stop-color="#242424"/><stop offset=".388" stop-color="#2f2f2f"/><stop offset=".41" stop-color="#5b5b5b"/><stop offset=".419" stop-color="#6b6b6b"/><stop offset=".428" stop-color="#7a7a7a"/><stop offset=".436" stop-color="#868686"/><stop offset=".4445" stop-color="#909090"/><stop offset=".453" stop-color="#969696"/><stop offset=".4615" stop-color="#9b9b9b"/><stop offset=".47" stop-color="#9c9c9c"/><stop offset=".4775" stop-color="#9b9b9b"/><stop offset=".4855" stop-color="#989898"/><stop offset=".494" stop-color="#929292"/><stop offset=".503" stop-color="#8b8b8b"/><stop offset=".519" stop-color="#7a7a7a"/><stop offset=".5505" stop-color="#535353"/><stop offset=".564" stop-color="#444444"/><stop offset=".5785" stop-color="#353535"/><stop offset=".592" stop-color="#292929"/><stop offset=".6055" stop-color="#1f1f1f"/><stop offset=".619" stop-color="#171717"/><stop offset=".633" stop-color="#101010"/><stop offset=".648" stop-color="#0b0b0b"/><stop offset=".6645" stop-color="#070707"/><stop offset=".683" stop-color="#040404"/><stop offset=".704" stop-color="#020202"/><stop offset=".73" stop-color="#010101"/><stop offset=".7935" stop-color="#000000"/><stop offset="1" stop-color="#000000"/></linearGradient>
<linearGradient id="g37" gradientUnits="userSpaceOnUse" x1="0" y1="0" x2="0" y2="-296.750" spreadMethod="reflect"><stop offset="0" stop-color="#000000"/><stop offset=".005" stop-color="#010101"/><stop offset=".01" stop-color="#040404"/><stop offset=".015" stop-color="#080808"/><stop offset=".0205" stop-color="#0f0f0f"/><stop offset=".025" stop-color="#161616"/><stop offset=".03" stop-color="#1f1f1f"/><stop offset=".0515" stop-color="#474747"/><stop offset=".057" stop-color="#505050"/><stop offset=".062" stop-color="#565656"/><stop offset=".0665" stop-color="#5b5b5b"/><stop offset=".071" stop-color="#5f5f5f"/><stop offset=".0755" stop-color="#616161"/><stop offset=".0795" stop-color="#616161"/><stop offset=".0845" stop-color="#606060"/><stop offset=".0895" stop-color="#5e5e5e"/><stop offset=".0945" stop-color="#595959"/><stop offset=".1" stop-color="#525252"/><stop offset=".1095" stop-color="#434343"/><stop offset=".126" stop-color="#252525"/><stop offset=".1325" stop-color="#191919"/><stop offset=".1385" stop-color="#101010"/><stop offset=".144" stop-color="#090909"/><stop offset=".1495" stop-color="#040404"/><stop offset=".155" stop-color="#010101"/><stop offset=".1605" stop-color="#000000"/><stop offset=".166" stop-color="#010101"/><stop offset=".1705" stop-color="#040404"/><stop offset=".175" stop-color="#080808"/><stop offset=".1795" stop-color="#0d0d0d"/><stop offset=".1845" stop-color="#151515"/><stop offset=".1935" stop-color="#242424"/><stop offset=".214" stop-color="#4b4b4b"/><stop offset=".2195" stop-color="#555555"/><stop offset=".225" stop-color="#5d5d5d"/><stop offset=".2305" stop-color="#636363"/><stop offset=".2355" stop-color="#676767"/><stop offset=".241" stop-color="#6a6a6a"/><stop offset=".246" stop-color="#6b6b6b"/><stop offset=".2515" stop-color="#6a6a6a"/><stop offset=".257" stop-color="#676767"/><stop offset=".2625" stop-color="#636363"/><stop offset=".2685" stop-color="#5b5b5b"/><stop offset=".2735" stop-color="#545454"/><stop offset=".2795" stop-color="#4a4a4a"/><stop offset=".298" stop-color="#292929"/><stop offset=".305" stop-color="#1d1d1d"/><stop offset=".312" stop-color="#121212"/><stop offset=".318" stop-color="#0b0b0b"/><stop offset=".3245" stop-color="#050505"/><stop offset=".3305" stop-color="#010101"/><stop offset=".337" stop-color="#000000"/><stop offset=".343" stop-color="#010101"/><stop offset=".349" stop-color="#040404"/><stop offset=".355" stop-color="#0a0a0a"/><stop offset=".3615" stop-color="#111111"/><stop offset=".368" stop-color="#1b1b1b"/><stop offset=".3735" stop-color="#252525"/><stop offset=".38" stop-color="#313131"/><stop offset=".4015" stop-color="#5d5d5d"/><stop offset=".41" stop-color="#6e6e6e"/><stop offset=".4185" stop-color="#7c7c7c"/><stop offset=".4265" stop-color="#888888"/><stop offset=".435" stop-color="#939393"/><stop offset=".4435" stop-color="#9a9a9a"/><stop offset=".4515" stop-color="#9e9e9e"/><stop offset=".46" stop-color="#9f9f9f"/><stop offset=".4675" stop-color="#9e9e9e"/><stop offset=".4755" stop-color="#9b9b9b"/><stop offset=".4835" stop-color="#959595"/><stop offset=".4925" stop-color="#8d8d8d"/><stop offset=".508" stop-color="#7c7c7c"/><stop offset=".539" stop-color="#555555"/><stop offset=".5525" stop-color="#454545"/><stop offset=".5665" stop-color="#363636"/><stop offset=".58" stop-color="#292929"/><stop offset=".593" stop-color="#1f1f1f"/><stop offset=".6065" stop-color="#171717"/><stop offset=".621" stop-color="#101010"/><stop offset=".636" stop-color="#0b0b0b"/><stop offset=".6525" stop-color="#070707"/><stop offset=".6705" stop-color="#040404"/><stop offset=".6915" stop-color="#020202"/><stop offset=".7175" stop-color="#010101"/><stop offset=".781" stop-color="#000000"/><stop offset="1" stop-color="#000000"/></linearGradient>
<linearGradient id="g38" gradientUnits="userSpaceOnUse" x1="0" y1="0" x2="0" y2="-296.750" spreadMethod="reflect"><stop offset="0" stop-color="#000000"/><stop offset=".004" stop-color="#010101"/><stop offset=".0085" stop-color="#030303"/><stop offset=".0125" stop-color="#060606"/><stop offset=".017" stop-color="#0b0b0b"/><stop offset=".022" stop-color="#131313"/><stop offset=".027" stop-color="#1b1b1b"/><stop offset=".048" stop-color="#444444"/><stop offset=".053" stop-color="#4d4d4d"/><stop offset=".0575" stop-color="#545454"/><stop offset=".063" stop-color="#5b5b5b"/><stop offset=".068" stop-color="#606060"/><stop offset=".073" stop-color="#636363"/><stop offset=".0775" stop-color="#646464"/><stop offset=".082" stop-color="#636363"/><stop offset=".087" stop-color="#606060"/><stop offset=".092" stop-color="#5c5c5c"/><stop offset=".0975" stop-color="#555555"/><stop offset=".102" stop-color="#4e4e4e"/><stop offset=".107" stop-color="#454545"/><stop offset=".1235" stop-color="#252525"/><stop offset=".1295" stop-color="#1a1a1a"/><stop offset=".135" stop-color="#111111"/><stop offset=".1405" stop-color="#0a0a0a"/><stop offset=".146" stop-color="#040404"/><stop offset=".1515" stop-color="#010101"/><stop offset=".157" stop-color="#000000"/><stop offset=".1625" stop-color="#010101"/><stop offset=".1665" stop-color="#040404"/><stop offset=".171" stop-color="#080808"/><stop offset=".1755" stop-color="#0e0e0e"/><stop offset=".1805" stop-color="#151515"/><stop offset=".189" stop-color="#242424"/><stop offset=".2095" stop-color="#4d4d4d"/><stop offset=".215" stop-color="#575757"/><stop offset=".22" stop-color="#5f5f5f"/><stop offset=".2255" stop-color="#656565"/><stop offset=".2305" stop-color="#6a6a6a"/><stop offset=".2355" stop-color="#6d6d6d"/><stop offset=".2405" stop-color="#6e6e6e"/><stop offset=".2455" stop-color="#6d6d6d"/><stop offset=".251" stop-color="#6a6a6a"/><stop offset=".2565" stop-color="#656565"/><stop offset=".2625" stop-color="#5e5e5e"/><stop offset=".2675" stop-color="#565656"/><stop offset=".273" stop-color="#4d4d4d"/><stop offset=".2915" stop-color="#2a2a2a"/><stop offset=".298" stop-color="#1e1e1e"/><stop offset=".305" stop-color="#131313"/><stop offset=".311" stop-color="#0b0b0b"/><stop offset=".317" stop-color="#050505"/><stop offset=".323" stop-color="#010101"/><stop offset=".329" stop-color="#000000"/><stop offset=".335" stop-color="#010101"/><stop offset=".341" stop-color="#040404"/><stop offset=".347" stop-color="#0a0a0a"/><stop offset=".353" stop-color="#111111"/><stop offset=".3595" stop-color="#1b1b1b"/><stop offset=".365" stop-color="#252525"/><stop offset=".3715" stop-color="#323232"/><stop offset=".3925" stop-color="#5f5f5f"/><stop offset=".401" stop-color="#707070"/><stop offset=".4095" stop-color="#808080"/><stop offset=".4175" stop-color="#8c8c8c"/><stop offset=".426" stop-color="#969696"/><stop offset=".434" stop-color="#9d9d9d"/><stop offset=".442" stop-color="#a2a2a2"/><stop offset=".45" stop-color="#a3a3a3"/><stop offset=".4575" stop-color="#a2a2a2"/><stop offset=".465" stop-color="#9e9e9e"/><stop offset=".473" stop-color="#999999"/><stop offset=".4815" stop-color="#919191"/><stop offset=".489" stop-color="#898989"/><stop offset=".497" stop-color="#7f7f7f"/><stop offset=".527" stop-color="#575757"/><stop offset=".5405" stop-color="#464646"/><stop offset=".554" stop-color="#373737"/><stop offset=".5675" stop-color="#2a2a2a"/><stop offset=".581" stop-color="#1f1f1f"/><stop offset=".5945" stop-color="#171717"/><stop offset=".6085" stop-color="#101010"/><stop offset=".624" stop-color="#0b0b0b"/><stop offset=".64" stop-color="#070707"/><stop offset=".658" stop-color="#040404"/><stop offset=".679" stop-color="#020202"/><stop offset=".705" stop-color="#010101"/><stop offset=".7685" stop-color="#000000"/><stop offset="1" stop-color="#000000"/></linearGradient>
<linearGradient id="g39" gradientUnits="userSpaceOnUse" x1="0" y1="0" x2="0" y2="-296.750" spreadMethod="reflect"><stop offset="0" stop-color="#000000"/><stop offset=".0045" stop-color="#010101"/><stop offset=".0095" stop-color="#040404"/><stop offset=".0145" stop-color="#090909"/><stop offset=".0195" stop-color="#101010"/><stop offset=".024" stop-color="#171717"/><stop offset=".0285" stop-color="#202020"/><stop offset=".049" stop-color="#4a4a4a"/><stop offset=".054" stop-color="#525252"/><stop offset=".059" stop-color="#5a5a5a"/><stop offset=".0635" stop-color="#5f5f5f"/><stop offset=".0675" stop-color="#636363"/><stop offset=".072" stop-color="#656565"/><stop offset=".076" stop-color="#666666"/><stop offset=".0805" stop-color="#656565"/><stop offset=".0855" stop-color="#626262"/><stop offset=".0905" stop-color="#5d5d5d"/><stop offset=".0955" stop-color="#565656"/><stop offset=".1" stop-color="#4f4f4f"/><stop offset=".1045" stop-color="#474747"/><stop offset=".1205" stop-color="#262626"/><stop offset=".1265" stop-color="#1b1b1b"/><stop offset=".132" stop-color="#111111"/><stop offset=".1375" stop-color="#0a0a0a"/><stop offset=".143" stop-color="#040404"/><stop offset=".148" stop-color="#010101"/><stop offset=".153" stop-color="#000000"/><stop offset=".1585" stop-color="#010101"/><stop offset=".1625" stop-color="#040404"/><stop offset=".167" stop-color="#080808"/><stop offset=".1715" stop-color="#0e0e0e"/><stop offset=".176" stop-color="#151515"/><stop offset=".1845" stop-color="#252525"/><stop offset=".2045" stop-color="#4f4f4f"/><stop offset=".21" stop-color="#595959"/><stop offset=".215" stop-color="#616161"/><stop offset=".22" stop-color="#676767"/><stop offset=".225" stop-color="#6c6c6c"/><stop offset=".23" stop-color="#6f6f6f"/><stop offset=".235" stop-color="#707070"/><stop offset=".24" stop-color="#6f6f6f"/><stop offset=".2455" stop-color="#6c6c6c"/><stop offset=".251" stop-color="#676767"/><stop offset=".2565" stop-color="#606060"/><stop offset=".2615" stop-color="#585858"/><stop offset=".267" stop-color="#4e4e4e"/><stop offset=".2845" stop-color="#2b2b2b"/><stop offset=".2915" stop-color="#1e1e1e"/><stop offset=".298" stop-color="#131313"/><stop offset=".304" stop-color="#0b0b0b"/><stop offset=".31" stop-color="#050505"/><stop offset=".316" stop-color="#010101"/><stop offset=".322" stop-color="#000000"/><stop offset=".3275" stop-color="#010101"/><stop offset=".333" stop-color="#040404"/><stop offset=".339" stop-color="#0a0a0a"/><stop offset=".345" stop-color="#121212"/><stop offset=".3515" stop-color="#1c1c1c"/><stop offset=".357" stop-color="#272727"/><stop offset=".363" stop-color="#333333"/><stop offset=".3835" stop-color="#616161"/><stop offset=".3915" stop-color="#727272"/><stop offset=".4" stop-color="#828282"/><stop offset=".4075" stop-color="#8f8f8f"/><stop offset=".4155" stop-color="#999999"/><stop offset=".4235" stop-color="#a1a1a1"/><stop offset=".4315" stop-color="#a5a5a5"/><stop offset=".4395" stop-color="#a7a7a7"/><stop offset=".4465" stop-color="#a6a6a6"/><stop offset=".454" stop-color="#a2a2a2"/><stop offset=".462" stop-color="#9c9c9c"/><stop offset=".4705" stop-color="#949494"/><stop offset=".4775" stop-color="#8c8c8c"/><stop offset=".4855" stop-color="#828282"/><stop offset=".515" stop-color="#595959"/><stop offset=".528" stop-color="#484848"/><stop offset=".5415" stop-color="#383838"/><stop offset=".555" stop-color="#2a2a2a"/><stop offset=".568" stop-color="#202020"/><stop offset=".5815" stop-color="#171717"/><stop offset=".5955" stop-color="#101010"/><stop offset=".611" stop-color="#0a0a0a"/><stop offset=".627" stop-color="#060606"/><stop offset=".645" stop-color="#040404"/><stop offset=".666" stop-color="#020202"/><stop offset=".6915" stop-color="#010101"/><stop offset=".755" stop-color="#000000"/><stop offset="1" stop-color="#000000"/></linearGradient>
<linearGradient id="g40" gradientUnits="userSpaceOnUse" x1="0" y1="0" x2="0" y2="-296.750" spreadMethod="reflect"><stop offset="0" stop-color="#000000"/><stop offset=".004" stop-color="#010101"/><stop offset=".008" stop-color="#030303"/><stop offset=".012" stop-color="#070707"/><stop offset=".016" stop-color="#0c0c0c"/><stop offset=".0205" stop-color="#131313"/><stop offset=".0255" stop-color="#1c1c1c"/><stop offset=".046" stop-color="#484848"/><stop offset=".0505" stop-color="#515151"/><stop offset=".055" stop-color="#585858"/><stop offset=".06" stop-color="#5f5f5f"/><stop offset=".065" stop-color="#656565"/><stop offset=".0695" stop-color="#676767"/><stop offset=".074" stop-color="#686868"/><stop offset=".0785" stop-color="#686868"/><stop offset=".083" stop-color="#656565"/><stop offset=".088" stop-color="#606060"/><stop offset=".093" stop-color="#595959"/><stop offset=".0975" stop-color="#515151"/><stop offset=".102" stop-color="#484848"/><stop offset=".1175" stop-color="#272727"/><stop offset=".1235" stop-color="#1b1b1b"/><stop offset=".129" stop-color="#111111"/><stop offset=".134" stop-color="#0a0a0a"/><stop offset=".1395" stop-color="#040404"/><stop offset=".1445" stop-color="#010101"/><stop offset=".1495" stop-color="#000000"/><stop offset=".155" stop-color="#020202"/><stop offset=".159" stop-color="#040404"/><stop offset=".163" stop-color="#080808"/><stop offset=".1675" stop-color="#0e0e0e"/><stop offset=".172" stop-color="#161616"/><stop offset=".18" stop-color="#262626"/><stop offset=".2" stop-color="#525252"/><stop offset=".205" stop-color="#5b5b5b"/><stop offset=".21" stop-color="#646464"/><stop offset=".215" stop-color="#6a6a6a"/><stop offset=".22" stop-color="#6f6f6f"/><stop offset=".225" stop-color="#727272"/><stop offset=".2295" stop-color="#737373"/><stop offset=".2345" stop-color="#727272"/><stop offset=".2395" stop-color="#6f6f6f"/><stop offset=".245" stop-color="#696969"/><stop offset=".2505" stop-color="#626262"/><stop offset=".2555" stop-color="#5a5a5a"/><stop offset=".2605" stop-color="#505050"/><stop offset=".278" stop-color="#2c2c2c"/><stop offset=".2845" stop-color="#1f1f1f"/><stop offset=".2905" stop-color="#141414"/><stop offset=".2965" stop-color="#0c0c0c"/><stop offset=".3025" stop-color="#050505"/><stop offset=".308" stop-color="#020202"/><stop offset=".314" stop-color="#000000"/><stop offset=".3195" stop-color="#010101"/><stop offset=".325" stop-color="#040404"/><stop offset=".331" stop-color="#0a0a0a"/><stop offset=".337" stop-color="#121212"/><stop offset=".343" stop-color="#1d1d1d"/><stop offset=".348" stop-color="#272727"/><stop offset=".354" stop-color="#333333"/><stop offset=".3745" stop-color="#646464"/><stop offset=".3825" stop-color="#767676"/><stop offset=".3905" stop-color="#868686"/><stop offset=".398" stop-color="#939393"/><stop offset=".406" stop-color="#9d9d9d"/><stop offset=".4135" stop-color="#a5a5a5"/><stop offset=".421" stop-color="#a9a9a9"/><stop offset=".429" stop-color="#ababab"/><stop offset=".436" stop-color="#aaaaaa"/><stop offset=".443" stop-color="#a6a6a6"/><stop offset=".4505" stop-color="#a1a1a1"/><stop offset=".459" stop-color="#989898"/><stop offset=".466" stop-color="#909090"/><stop offset=".474" stop-color="#858585"/><stop offset=".5025" stop-color="#5b5b5b"/><stop offset=".5155" stop-color="#494949"/><stop offset=".529" stop-color="#393939"/><stop offset=".542" stop-color="#2b2b2b"/><stop offset=".555" stop-color="#202020"/><stop offset=".5685" stop-color="#171717"/><stop offset=".583" stop-color="#101010"/><stop offset=".5985" stop-color="#0a0a0a"/><stop offset=".614" stop-color="#060606"/><stop offset=".6315" stop-color="#040404"/><stop offset=".652" stop-color="#020202"/><stop offset=".678" stop-color="#010101"/><stop offset=".741" stop-color="#000000"/><stop offset="1" stop-color="#000000"/></linearGradient>
<linearGradient id="g41" gradientUnits="userSpaceOnUse" x1="0" y1="0" x2="0" y2="-296.750" spreadMethod="reflect"><stop offset="0" stop-color="#000000"/><stop offset=".004" stop-color="#010101"/><stop offset=".008" stop-color="#030303"/><stop offset=".012" stop-color="#070707"/><stop offset=".016" stop-color="#0c0c0c"/><stop offset=".0205" stop-color="#141414"/><stop offset=".025" stop-color="#1d1d1d"/><stop offset=".045" stop-color="#4a4a4a"/><stop offset=".0495" stop-color="#535353"/><stop offset=".0535" stop-color="#5a5a5a"/><stop offset=".0585" stop-color="#626262"/><stop offset=".063" stop-color="#676767"/><stop offset=".0675" stop-color="#6a6a6a"/><stop offset=".072" stop-color="#6b6b6b"/><stop offset=".0765" stop-color="#6a6a6a"/><stop offset=".081" stop-color="#676767"/><stop offset=".0855" stop-color="#636363"/><stop offset=".0905" stop-color="#5b5b5b"/><stop offset=".095" stop-color="#535353"/><stop offset=".0995" stop-color="#4a4a4a"/><stop offset=".115" stop-color="#272727"/><stop offset=".1205" stop-color="#1c1c1c"/><stop offset=".126" stop-color="#111111"/><stop offset=".131" stop-color="#0a0a0a"/><stop offset=".136" stop-color="#040404"/><stop offset=".141" stop-color="#010101"/><stop offset=".146" stop-color="#000000"/><stop offset=".151" stop-color="#010101"/><stop offset=".155" stop-color="#040404"/><stop offset=".159" stop-color="#090909"/><stop offset=".163" stop-color="#0e0e0e"/><stop offset=".1675" stop-color="#161616"/><stop offset=".1755" stop-color="#272727"/><stop offset=".195" stop-color="#545454"/><stop offset=".2" stop-color="#5e5e5e"/><stop offset=".205" stop-color="#666666"/><stop offset=".21" stop-color="#6d6d6d"/><stop offset=".2145" stop-color="#727272"/><stop offset=".2195" stop-color="#757575"/><stop offset=".224" stop-color="#767676"/><stop offset=".229" stop-color="#757575"/><stop offset=".234" stop-color="#717171"/><stop offset=".239" stop-color="#6c6c6c"/><stop offset=".2445" stop-color="#646464"/><stop offset=".249" stop-color="#5c5c5c"/><stop offset=".254" stop-color="#525252"/><stop offset=".271" stop-color="#2d2d2d"/><stop offset=".277" stop-color="#202020"/><stop offset=".2835" stop-color="#141414"/><stop offset=".289" stop-color="#0c0c0c"/><stop offset=".295" stop-color="#050505"/><stop offset=".3005" stop-color="#010101"/><stop offset=".306" stop-color="#000000"/><stop offset=".3115" stop-color="#010101"/><stop offset=".317" stop-color="#040404"/><stop offset=".3225" stop-color="#0a0a0a"/><stop offset=".3285" stop-color="#131313"/><stop offset=".3345" stop-color="#1d1d1d"/><stop offset=".3395" stop-color="#282828"/><stop offset=".3455" stop-color="#363636"/><stop offset=".365" stop-color="#666666"/><stop offset=".373" stop-color="#797979"/><stop offset=".381" stop-color="#8a8a8a"/><stop offset=".388" stop-color="#969696"/><stop offset=".396" stop-color="#a2a2a2"/><stop offset=".4035" stop-color="#a9a9a9"/><stop offset=".411" stop-color="#aeaeae"/><stop offset=".4185" stop-color="#afafaf"/><stop offset=".4255" stop-color="#aeaeae"/><stop offset=".4325" stop-color="#aaaaaa"/><stop offset=".44" stop-color="#a4a4a4"/><stop offset=".448" stop-color="#9b9b9b"/><stop offset=".4545" stop-color="#939393"/><stop offset=".462" stop-color="#898989"/><stop offset=".4905" stop-color="#5d5d5d"/><stop offset=".503" stop-color="#4b4b4b"/><stop offset=".516" stop-color="#3a3a3a"/><stop offset=".529" stop-color="#2c2c2c"/><stop offset=".542" stop-color="#202020"/><stop offset=".5555" stop-color="#171717"/><stop offset=".5695" stop-color="#101010"/><stop offset=".585" stop-color="#0a0a0a"/><stop offset=".6005" stop-color="#060606"/><stop offset=".618" stop-color="#030303"/><stop offset=".6385" stop-color="#020202"/><stop offset=".664" stop-color="#010101"/><stop offset="1" stop-color="#000000"/></linearGradient>
<linearGradient id="g42" gradientUnits="userSpaceOnUse" x1="0" y1="0" x2="0" y2="-296.750" spreadMethod="reflect"><stop offset="0" stop-color="#000000"/><stop offset=".004" stop-color="#010101"/><stop offset=".0085" stop-color="#040404"/><stop offset=".013" stop-color="#090909"/><stop offset=".018" stop-color="#111111"/><stop offset=".022" stop-color="#191919"/><stop offset=".0265" stop-color="#222222"/><stop offset=".041" stop-color="#454545"/><stop offset=".046" stop-color="#515151"/><stop offset=".0505" stop-color="#5a5a5a"/><stop offset=".055" stop-color="#626262"/><stop offset=".059" stop-color="#676767"/><stop offset=".063" stop-color="#6b6b6b"/><stop offset=".067" stop-color="#6d6d6d"/><stop offset=".0705" stop-color="#6e6e6e"/><stop offset=".0745" stop-color="#6d6d6d"/><stop offset=".079" stop-color="#6a6a6a"/><stop offset=".0835" stop-color="#656565"/><stop offset=".0885" stop-color="#5d5d5d"/><stop offset=".0925" stop-color="#565656"/><stop offset=".097" stop-color="#4c4c4c"/><stop offset=".1115" stop-color="#2a2a2a"/><stop offset=".117" stop-color="#1d1d1d"/><stop offset=".1225" stop-color="#121212"/><stop offset=".1275" stop-color="#0a0a0a"/><stop offset=".1325" stop-color="#040404"/><stop offset=".1375" stop-color="#010101"/><stop offset=".142" stop-color="#000000"/><stop offset=".147" stop-color="#010101"/><stop offset=".151" stop-color="#040404"/><stop offset=".155" stop-color="#090909"/><stop offset=".159" stop-color="#0f0f0f"/><stop offset=".1635" stop-color="#171717"/><stop offset=".171" stop-color="#282828"/><stop offset=".19" stop-color="#565656"/><stop offset=".195" stop-color="#616161"/><stop offset=".1995" stop-color="#696969"/><stop offset=".2045" stop-color="#707070"/><stop offset=".209" stop-color="#757575"/><stop offset=".2135" stop-color="#787878"/><stop offset=".218" stop-color="#797979"/><stop offset=".2225" stop-color="#787878"/><stop offset=".2275" stop-color="#757575"/><stop offset=".2325" stop-color="#6f6f6f"/><stop offset=".238" stop-color="#676767"/><stop offset=".2425" stop-color="#5f5f5f"/><stop offset=".2475" stop-color="#545454"/><stop offset=".264" stop-color="#2e2e2e"/><stop offset=".27" stop-color="#212121"/><stop offset=".276" stop-color="#151515"/><stop offset=".2815" stop-color="#0d0d0d"/><stop offset=".287" stop-color="#060606"/><stop offset=".2925" stop-color="#020202"/><stop offset=".298" stop-color="#000000"/><stop offset=".3035" stop-color="#010101"/><stop offset=".3085" stop-color="#040404"/><stop offset=".314" stop-color="#0a0a0a"/><stop offset=".3195" stop-color="#121212"/><stop offset=".3255" stop-color="#1e1e1e"/><stop offset=".3305" stop-color="#282828"/><stop offset=".3365" stop-color="#373737"/><stop offset=".356" stop-color="#6a6a6a"/><stop offset=".3635" stop-color="#7c7c7c"/><stop offset=".371" stop-color="#8d8d8d"/><stop offset=".378" stop-color="#9a9a9a"/><stop offset=".3855" stop-color="#a6a6a6"/><stop offset=".393" stop-color="#aeaeae"/><stop offset=".4" stop-color="#b2b2b2"/><stop offset=".4075" stop-color="#b4b4b4"/><stop offset=".414" stop-color="#b3b3b3"/><stop offset=".421" stop-color="#afafaf"/><stop offset=".428" stop-color="#a9a9a9"/><stop offset=".436" stop-color="#a0a0a0"/><stop offset=".4425" stop-color="#979797"/><stop offset=".45" stop-color="#8c8c8c"/><stop offset=".4775" stop-color="#606060"/><stop offset=".49" stop-color="#4d4d4d"/><stop offset=".503" stop-color="#3b3b3b"/><stop offset=".516" stop-color="#2c2c2c"/><stop offset=".529" stop-color="#202020"/><stop offset=".542" stop-color="#171717"/><stop offset=".556" stop-color="#0f0f0f"/><stop offset=".5715" stop-color="#0a0a0a"/><stop offset=".5865" stop-color="#060606"/><stop offset=".6035" stop-color="#030303"/><stop offset=".624" stop-color="#010101"/><stop offset=".6495" stop-color="#010101"/><stop offset="1" stop-color="#000000"/></linearGradient>
<linearGradient id="g43" gradientUnits="userSpaceOnUse" x1="0" y1="0" x2="0" y2="-296.750" spreadMethod="reflect"><stop offset="0" stop-color="#000000"/><stop offset=".004" stop-color="#010101"/><stop offset=".0085" stop-color="#040404"/><stop offset=".013" stop-color="#0a0a0a"/><stop offset=".0175" stop-color="#111111"/><stop offset=".0215" stop-color="#191919"/><stop offset=".026" stop-color="#242424"/><stop offset=".0445" stop-color="#525252"/><stop offset=".049" stop-color="#5c5c5c"/><stop offset=".0535" stop-color="#646464"/><stop offset=".0575" stop-color="#6a6a6a"/><stop offset=".061" stop-color="#6e6e6e"/><stop offset=".065" stop-color="#707070"/><stop offset=".0685" stop-color="#717171"/><stop offset=".0725" stop-color="#707070"/><stop offset=".077" stop-color="#6d6d6d"/><stop offset=".0815" stop-color="#676767"/><stop offset=".086" stop-color="#606060"/><stop offset=".09" stop-color="#585858"/><stop offset=".0945" stop-color="#4e4e4e"/><stop offset=".1085" stop-color="#2b2b2b"/><stop offset=".114" stop-color="#1e1e1e"/><stop offset=".119" stop-color="#131313"/><stop offset=".124" stop-color="#0b0b0b"/><stop offset=".129" stop-color="#040404"/><stop offset=".1335" stop-color="#010101"/><stop offset=".138" stop-color="#000000"/><stop offset=".143" stop-color="#010101"/><stop offset=".1465" stop-color="#040404"/><stop offset=".1505" stop-color="#090909"/><stop offset=".1545" stop-color="#0f0f0f"/><stop offset=".159" stop-color="#181818"/><stop offset=".1665" stop-color="#292929"/><stop offset=".1845" stop-color="#575757"/><stop offset=".1895" stop-color="#636363"/><stop offset=".194" stop-color="#6b6b6b"/><stop offset=".1985" stop-color="#737373"/><stop offset=".203" stop-color="#787878"/><stop offset=".2075" stop-color="#7b7b7b"/><stop offset=".212" stop-color="#7c7c7c"/><stop offset=".2165" stop-color="#7b7b7b"/><stop offset=".2215" stop-color="#787878"/><stop offset=".2265" stop-color="#727272"/><stop offset=".2315" stop-color="#6a6a6a"/><stop offset=".236" stop-color="#616161"/><stop offset=".241" stop-color="#565656"/><stop offset=".257" stop-color="#2f2f2f"/><stop offset=".263" stop-color="#212121"/><stop offset=".2685" stop-color="#161616"/><stop offset=".274" stop-color="#0d0d0d"/><stop offset=".2795" stop-color="#060606"/><stop offset=".285" stop-color="#010101"/><stop offset=".2905" stop-color="#000000"/><stop offset=".2955" stop-color="#010101"/><stop offset=".3005" stop-color="#050505"/><stop offset=".306" stop-color="#0b0b0b"/><stop offset=".3115" stop-color="#141414"/><stop offset=".317" stop-color="#1f1f1f"/><stop offset=".322" stop-color="#2b2b2b"/><stop offset=".3275" stop-color="#383838"/><stop offset=".346" stop-color="#6b6b6b"/><stop offset=".3535" stop-color="#7f7f7f"/><stop offset=".361" stop-color="#919191"/><stop offset=".368" stop-color="#9f9f9f"/><stop offset=".3755" stop-color="#ababab"/><stop offset=".3825" stop-color="#b3b3b3"/><stop offset=".3895" stop-color="#b7b7b7"/><stop offset=".3965" stop-color="#b9b9b9"/><stop offset=".403" stop-color="#b7b7b7"/><stop offset=".41" stop-color="#b3b3b3"/><stop offset=".417" stop-color="#adadad"/><stop offset=".4245" stop-color="#a4a4a4"/><stop offset=".431" stop-color="#9b9b9b"/><stop offset=".438" stop-color="#909090"/><stop offset=".465" stop-color="#626262"/><stop offset=".477" stop-color="#4f4f4f"/><stop offset=".49" stop-color="#3c3c3c"/><stop offset=".5025" stop-color="#2d2d2d"/><stop offset=".5155" stop-color="#212121"/><stop offset=".5285" stop-color="#171717"/><stop offset=".5425" stop-color="#0f0f0f"/><stop offset=".558" stop-color="#090909"/><stop offset=".5725" stop-color="#060606"/><stop offset=".5895" stop-color="#030303"/><stop offset=".6095" stop-color="#010101"/><stop offset=".635" stop-color="#000000"/><stop offset="1" stop-color="#000000"/></linearGradient>
<linearGradient id="g44" gradientUnits="userSpaceOnUse" x1="0" y1="0" x2="0" y2="-296.750" spreadMethod="reflect"><stop offset="0" stop-color="#000000"/><stop offset=".004" stop-color="#010101"/><stop offset=".0085" stop-color="#050505"/><stop offset=".0125" stop-color="#0a0a0a"/><stop offset=".017" stop-color="#121212"/><stop offset=".021" stop-color="#1a1a1a"/><stop offset=".025" stop-color="#242424"/><stop offset=".0385" stop-color="#484848"/><stop offset=".0435" stop-color="#555555"/><stop offset=".048" stop-color="#5f5f5f"/><stop offset=".052" stop-color="#676767"/><stop offset=".056" stop-color="#6d6d6d"/><stop offset=".0595" stop-color="#717171"/><stop offset=".063" stop-color="#737373"/><stop offset=".0665" stop-color="#747474"/><stop offset=".0705" stop-color="#737373"/><stop offset=".075" stop-color="#707070"/><stop offset=".079" stop-color="#6b6b6b"/><stop offset=".0835" stop-color="#636363"/><stop offset=".0875" stop-color="#5b5b5b"/><stop offset=".0915" stop-color="#515151"/><stop offset=".106" stop-color="#2b2b2b"/><stop offset=".111" stop-color="#1e1e1e"/><stop offset=".116" stop-color="#131313"/><stop offset=".1205" stop-color="#0b0b0b"/><stop offset=".1255" stop-color="#040404"/><stop offset=".13" stop-color="#010101"/><stop offset=".1345" stop-color="#000000"/><stop offset=".139" stop-color="#020202"/><stop offset=".1425" stop-color="#040404"/><stop offset=".1465" stop-color="#090909"/><stop offset=".1505" stop-color="#101010"/><stop offset=".1545" stop-color="#181818"/><stop offset=".162" stop-color="#2b2b2b"/><stop offset=".1795" stop-color="#5a5a5a"/><stop offset=".184" stop-color="#656565"/><stop offset=".1885" stop-color="#6e6e6e"/><stop offset=".193" stop-color="#767676"/><stop offset=".1975" stop-color="#7c7c7c"/><stop offset=".202" stop-color="#7f7f7f"/><stop offset=".206" stop-color="#808080"/><stop offset=".2105" stop-color="#7f7f7f"/><stop offset=".215" stop-color="#7c7c7c"/><stop offset=".22" stop-color="#767676"/><stop offset=".225" stop-color="#6d6d6d"/><stop offset=".2295" stop-color="#646464"/><stop offset=".234" stop-color="#595959"/><stop offset=".2495" stop-color="#313131"/><stop offset=".2555" stop-color="#222222"/><stop offset=".261" stop-color="#171717"/><stop offset=".2665" stop-color="#0d0d0d"/><stop offset=".272" stop-color="#060606"/><stop offset=".277" stop-color="#020202"/><stop offset=".282" stop-color="#000000"/><stop offset=".287" stop-color="#010101"/><stop offset=".292" stop-color="#050505"/><stop offset=".297" stop-color="#0b0b0b"/><stop offset=".3025" stop-color="#141414"/><stop offset=".308" stop-color="#202020"/><stop offset=".3125" stop-color="#2b2b2b"/><stop offset=".318" stop-color="#393939"/><stop offset=".3365" stop-color="#6f6f6f"/><stop offset=".3435" stop-color="#838383"/><stop offset=".351" stop-color="#959595"/><stop offset=".3575" stop-color="#a3a3a3"/><stop offset=".3645" stop-color="#afafaf"/><stop offset=".3715" stop-color="#b7b7b7"/><stop offset=".3785" stop-color="#bcbcbc"/><stop offset=".3855" stop-color="#bebebe"/><stop offset=".392" stop-color="#bdbdbd"/><stop offset=".3985" stop-color="#b9b9b9"/><stop offset=".405" stop-color="#b2b2b2"/><stop offset=".4125" stop-color="#a9a9a9"/><stop offset=".4185" stop-color="#a0a0a0"/><stop offset=".4255" stop-color="#949494"/><stop offset=".452" stop-color="#656565"/><stop offset=".464" stop-color="#505050"/><stop offset=".4765" stop-color="#3e3e3e"/><stop offset=".4885" stop-color="#2e2e2e"/><stop offset=".501" stop-color="#222222"/><stop offset=".514" stop-color="#171717"/><stop offset=".528" stop-color="#0f0f0f"/><stop offset=".5435" stop-color="#090909"/><stop offset=".558" stop-color="#050505"/><stop offset=".5745" stop-color="#030303"/><stop offset=".594" stop-color="#010101"/><stop offset=".6195" stop-color="#000000"/><stop offset="1" stop-color="#000000"/></linearGradient>
<linearGradient id="g45" gradientUnits="userSpaceOnUse" x1="0" y1="0" x2="0" y2="-296.750" spreadMethod="reflect"><stop offset="0" stop-color="#000000"/><stop offset=".0035" stop-color="#010101"/><stop offset=".007" stop-color="#030303"/><stop offset=".0105" stop-color="#080808"/><stop offset=".014" stop-color="#0d0d0d"/><stop offset=".018" stop-color="#161616"/><stop offset=".0225" stop-color="#212121"/><stop offset=".027" stop-color="#2d2d2d"/><stop offset=".04" stop-color="#525252"/><stop offset=".044" stop-color="#5c5c5c"/><stop offset=".048" stop-color="#656565"/><stop offset=".0525" stop-color="#6e6e6e"/><stop offset=".0565" stop-color="#737373"/><stop offset=".0605" stop-color="#777777"/><stop offset=".0645" stop-color="#787878"/><stop offset=".0685" stop-color="#777777"/><stop offset=".0725" stop-color="#747474"/><stop offset=".0765" stop-color="#6e6e6e"/><stop offset=".081" stop-color="#666666"/><stop offset=".085" stop-color="#5d5d5d"/><stop offset=".089" stop-color="#535353"/><stop offset=".1025" stop-color="#2d2d2d"/><stop offset=".1075" stop-color="#202020"/><stop offset=".1125" stop-color="#141414"/><stop offset=".117" stop-color="#0b0b0b"/><stop offset=".1215" stop-color="#050505"/><stop offset=".126" stop-color="#010101"/><stop offset=".1305" stop-color="#000000"/><stop offset=".135" stop-color="#020202"/><stop offset=".1385" stop-color="#050505"/><stop offset=".142" stop-color="#090909"/><stop offset=".146" stop-color="#101010"/><stop offset=".15" stop-color="#191919"/><stop offset=".157" stop-color="#2b2b2b"/><stop offset=".174" stop-color="#5c5c5c"/><stop offset=".1785" stop-color="#686868"/><stop offset=".183" stop-color="#727272"/><stop offset=".1875" stop-color="#7a7a7a"/><stop offset=".1915" stop-color="#7f7f7f"/><stop offset=".196" stop-color="#838383"/><stop offset=".2" stop-color="#848484"/><stop offset=".2045" stop-color="#838383"/><stop offset=".209" stop-color="#7f7f7f"/><stop offset=".2135" stop-color="#797979"/><stop offset=".2185" stop-color="#707070"/><stop offset=".2225" stop-color="#676767"/><stop offset=".227" stop-color="#5c5c5c"/><stop offset=".2425" stop-color="#323232"/><stop offset=".248" stop-color="#242424"/><stop offset=".2535" stop-color="#171717"/><stop offset=".2585" stop-color="#0e0e0e"/><stop offset=".264" stop-color="#060606"/><stop offset=".269" stop-color="#020202"/><stop offset=".274" stop-color="#000000"/><stop offset=".279" stop-color="#010101"/><stop offset=".2835" stop-color="#050505"/><stop offset=".2885" stop-color="#0b0b0b"/><stop offset=".2935" stop-color="#141414"/><stop offset=".299" stop-color="#212121"/><stop offset=".3035" stop-color="#2c2c2c"/><stop offset=".309" stop-color="#3c3c3c"/><stop offset=".3265" stop-color="#727272"/><stop offset=".3335" stop-color="#878787"/><stop offset=".3405" stop-color="#999999"/><stop offset=".347" stop-color="#a8a8a8"/><stop offset=".354" stop-color="#b4b4b4"/><stop offset=".3605" stop-color="#bdbdbd"/><stop offset=".367" stop-color="#c2c2c2"/><stop offset=".3705" stop-color="#c3c3c3"/><stop offset=".374" stop-color="#c4c4c4"/><stop offset=".38" stop-color="#c3c3c3"/><stop offset=".3865" stop-color="#bebebe"/><stop offset=".393" stop-color="#b8b8b8"/><stop offset=".4" stop-color="#afafaf"/><stop offset=".406" stop-color="#a5a5a5"/><stop offset=".413" stop-color="#999999"/><stop offset=".439" stop-color="#676767"/><stop offset=".4505" stop-color="#535353"/><stop offset=".463" stop-color="#3f3f3f"/><stop offset=".475" stop-color="#2f2f2f"/><stop offset=".4875" stop-color="#212121"/><stop offset=".5005" stop-color="#171717"/><stop offset=".5145" stop-color="#0f0f0f"/><stop offset=".5295" stop-color="#090909"/><stop offset=".5435" stop-color="#050505"/><stop offset=".56" stop-color="#030303"/><stop offset=".5795" stop-color="#010101"/><stop offset=".6045" stop-color="#000000"/><stop offset="1" stop-color="#000000"/></linearGradient>
<linearGradient id="g46" gradientUnits="userSpaceOnUse" x1="0" y1="0" x2="0" y2="-296.750" spreadMethod="reflect"><stop offset="0" stop-color="#000000"/><stop offset=".003" stop-color="#010101"/><stop offset=".0065" stop-color="#030303"/><stop offset=".01" stop-color="#080808"/><stop offset=".0135" stop-color="#0e0e0e"/><stop offset=".0175" stop-color="#161616"/><stop offset=".0215" stop-color="#212121"/><stop offset=".026" stop-color="#2e2e2e"/><stop offset=".039" stop-color="#555555"/><stop offset=".043" stop-color="#606060"/><stop offset=".0465" stop-color="#686868"/><stop offset=".0505" stop-color="#707070"/><stop offset=".0545" stop-color="#767676"/><stop offset=".0585" stop-color="#7a7a7a"/><stop offset=".0625" stop-color="#7c7c7c"/><stop offset=".0665" stop-color="#7a7a7a"/><stop offset=".0705" stop-color="#777777"/><stop offset=".0745" stop-color="#717171"/><stop offset=".0785" stop-color="#696969"/><stop offset=".0825" stop-color="#606060"/><stop offset=".0865" stop-color="#555555"/><stop offset=".0995" stop-color="#2e2e2e"/><stop offset=".1045" stop-color="#202020"/><stop offset=".109" stop-color="#151515"/><stop offset=".1135" stop-color="#0c0c0c"/><stop offset=".118" stop-color="#050505"/><stop offset=".1225" stop-color="#010101"/><stop offset=".1265" stop-color="#000000"/><stop offset=".131" stop-color="#020202"/><stop offset=".1345" stop-color="#050505"/><stop offset=".138" stop-color="#0a0a0a"/><stop offset=".1415" stop-color="#111111"/><stop offset=".1455" stop-color="#1a1a1a"/><stop offset=".1525" stop-color="#2d2d2d"/><stop offset=".169" stop-color="#606060"/><stop offset=".1735" stop-color="#6c6c6c"/><stop offset=".1775" stop-color="#767676"/><stop offset=".182" stop-color="#7e7e7e"/><stop offset=".186" stop-color="#848484"/><stop offset=".19" stop-color="#878787"/><stop offset=".194" stop-color="#888888"/><stop offset=".198" stop-color="#878787"/><stop offset=".2025" stop-color="#838383"/><stop offset=".207" stop-color="#7d7d7d"/><stop offset=".212" stop-color="#737373"/><stop offset=".216" stop-color="#6a6a6a"/><stop offset=".2205" stop-color="#5e5e5e"/><stop offset=".235" stop-color="#343434"/><stop offset=".2405" stop-color="#252525"/><stop offset=".246" stop-color="#171717"/><stop offset=".251" stop-color="#0d0d0d"/><stop offset=".256" stop-color="#060606"/><stop offset=".261" stop-color="#010101"/><stop offset=".266" stop-color="#000000"/><stop offset=".2705" stop-color="#010101"/><stop offset=".275" stop-color="#050505"/><stop offset=".28" stop-color="#0c0c0c"/><stop offset=".285" stop-color="#161616"/><stop offset=".29" stop-color="#222222"/><stop offset=".2945" stop-color="#2e2e2e"/><stop offset=".2995" stop-color="#3d3d3d"/><stop offset=".3165" stop-color="#757575"/><stop offset=".3235" stop-color="#8b8b8b"/><stop offset=".33" stop-color="#9e9e9e"/><stop offset=".3365" stop-color="#adadad"/><stop offset=".343" stop-color="#bababa"/><stop offset=".3495" stop-color="#c3c3c3"/><stop offset=".356" stop-color="#c8c8c8"/><stop offset=".3625" stop-color="#cacaca"/><stop offset=".3685" stop-color="#c9c9c9"/><stop offset=".3745" stop-color="#c5c5c5"/><stop offset=".381" stop-color="#bebebe"/><stop offset=".388" stop-color="#b4b4b4"/><stop offset=".394" stop-color="#aaaaaa"/><stop offset=".4005" stop-color="#9e9e9e"/><stop offset=".4255" stop-color="#6b6b6b"/><stop offset=".437" stop-color="#555555"/><stop offset=".449" stop-color="#414141"/><stop offset=".461" stop-color="#303030"/><stop offset=".473" stop-color="#222222"/><stop offset=".486" stop-color="#171717"/><stop offset=".5" stop-color="#0f0f0f"/><stop offset=".515" stop-color="#090909"/><stop offset=".5285" stop-color="#050505"/><stop offset=".5445" stop-color="#030303"/><stop offset=".5635" stop-color="#010101"/><stop offset=".5885" stop-color="#000000"/><stop offset="1" stop-color="#000000"/></linearGradient>
<linearGradient id="g47" gradientUnits="userSpaceOnUse" x1="0" y1="0" x2="0" y2="-296.750" spreadMethod="reflect"><stop offset="0" stop-color="#000000"/><stop offset=".003" stop-color="#010101"/><stop offset=".0065" stop-color="#040404"/><stop offset=".01" stop-color="#080808"/><stop offset=".0135" stop-color="#0f0f0f"/><stop offset=".017" stop-color="#171717"/><stop offset=".021" stop-color="#222222"/><stop offset=".0255" stop-color="#303030"/><stop offset=".0375" stop-color="#575757"/><stop offset=".0415" stop-color="#636363"/><stop offset=".045" stop-color="#6c6c6c"/><stop offset=".049" stop-color="#747474"/><stop offset=".053" stop-color="#7b7b7b"/><stop offset=".057" stop-color="#7e7e7e"/><stop offset=".0605" stop-color="#808080"/><stop offset=".064" stop-color="#7f7f7f"/><stop offset=".068" stop-color="#7b7b7b"/><stop offset=".072" stop-color="#757575"/><stop offset=".076" stop-color="#6d6d6d"/><stop offset=".0795" stop-color="#646464"/><stop offset=".0835" stop-color="#595959"/><stop offset=".0965" stop-color="#2f2f2f"/><stop offset=".101" stop-color="#212121"/><stop offset=".1055" stop-color="#151515"/><stop offset=".11" stop-color="#0c0c0c"/><stop offset=".1145" stop-color="#050505"/><stop offset=".1185" stop-color="#010101"/><stop offset=".1225" stop-color="#000000"/><stop offset=".1265" stop-color="#020202"/><stop offset=".13" stop-color="#050505"/><stop offset=".1335" stop-color="#0a0a0a"/><stop offset=".137" stop-color="#111111"/><stop offset=".1405" stop-color="#1a1a1a"/><stop offset=".144" stop-color="#242424"/><stop offset=".1475" stop-color="#2e2e2e"/><stop offset=".1635" stop-color="#636363"/><stop offset=".168" stop-color="#707070"/><stop offset=".172" stop-color="#7a7a7a"/><stop offset=".176" stop-color="#828282"/><stop offset=".18" stop-color="#888888"/><stop offset=".184" stop-color="#8b8b8b"/><stop offset=".188" stop-color="#8d8d8d"/><stop offset=".192" stop-color="#8b8b8b"/><stop offset=".196" stop-color="#888888"/><stop offset=".2005" stop-color="#818181"/><stop offset=".205" stop-color="#787878"/><stop offset=".209" stop-color="#6e6e6e"/><stop offset=".2135" stop-color="#616161"/><stop offset=".2275" stop-color="#363636"/><stop offset=".2325" stop-color="#272727"/><stop offset=".2375" stop-color="#1a1a1a"/><stop offset=".2425" stop-color="#0f0f0f"/><stop offset=".2475" stop-color="#070707"/><stop offset=".252" stop-color="#020202"/><stop offset=".257" stop-color="#000000"/><stop offset=".2615" stop-color="#010101"/><stop offset=".266" stop-color="#050505"/><stop offset=".2705" stop-color="#0c0c0c"/><stop offset=".2755" stop-color="#161616"/><stop offset=".2805" stop-color="#222222"/><stop offset=".285" stop-color="#2f2f2f"/><stop offset=".29" stop-color="#3f3f3f"/><stop offset=".3065" stop-color="#797979"/><stop offset=".313" stop-color="#8f8f8f"/><stop offset=".3195" stop-color="#a3a3a3"/><stop offset=".326" stop-color="#b3b3b3"/><stop offset=".3295" stop-color="#bbbbbb"/><stop offset=".3325" stop-color="#c1c1c1"/><stop offset=".3385" stop-color="#c9c9c9"/><stop offset=".3445" stop-color="#cfcfcf"/><stop offset=".3475" stop-color="#d0d0d0"/><stop offset=".351" stop-color="#d1d1d1"/><stop offset=".3565" stop-color="#cfcfcf"/><stop offset=".3625" stop-color="#cbcbcb"/><stop offset=".369" stop-color="#c4c4c4"/><stop offset=".3755" stop-color="#bababa"/><stop offset=".381" stop-color="#b0b0b0"/><stop offset=".3875" stop-color="#a4a4a4"/><stop offset=".412" stop-color="#6e6e6e"/><stop offset=".423" stop-color="#585858"/><stop offset=".435" stop-color="#424242"/><stop offset=".4465" stop-color="#313131"/><stop offset=".4585" stop-color="#232323"/><stop offset=".465" stop-color="#1c1c1c"/><stop offset=".4715" stop-color="#171717"/><stop offset=".485" stop-color="#0f0f0f"/><stop offset=".5" stop-color="#080808"/><stop offset=".5135" stop-color="#050505"/><stop offset=".529" stop-color="#030303"/><stop offset=".548" stop-color="#010101"/><stop offset=".5725" stop-color="#000000"/><stop offset="1" stop-color="#000000"/></linearGradient>
<linearGradient id="g48" gradientUnits="userSpaceOnUse" x1="0" y1="0" x2="0" y2="-296.750" spreadMethod="reflect"><stop offset="0" stop-color="#000000"/><stop offset=".003" stop-color="#010101"/><stop offset=".0065" stop-color="#040404"/><stop offset=".0095" stop-color="#080808"/><stop offset=".013" stop-color="#0f0f0f"/><stop offset=".0165" stop-color="#181818"/><stop offset=".0205" stop-color="#242424"/><stop offset=".0245" stop-color="#313131"/><stop offset=".0365" stop-color="#5b5b5b"/><stop offset=".04" stop-color="#666666"/><stop offset=".0435" stop-color="#6f6f6f"/><stop offset=".0475" stop-color="#797979"/><stop offset=".051" stop-color="#7f7f7f"/><stop offset=".055" stop-color="#838383"/><stop offset=".0585" stop-color="#848484"/><stop offset=".062" stop-color="#838383"/><stop offset=".066" stop-color="#7f7f7f"/><stop offset=".0695" stop-color="#797979"/><stop offset=".0735" stop-color="#707070"/><stop offset=".077" stop-color="#676767"/><stop offset=".081" stop-color="#5b5b5b"/><stop offset=".093" stop-color="#323232"/><stop offset=".0975" stop-color="#232323"/><stop offset=".102" stop-color="#161616"/><stop offset=".106" stop-color="#0d0d0d"/><stop offset=".1105" stop-color="#050505"/><stop offset=".1145" stop-color="#010101"/><stop offset=".1185" stop-color="#000000"/><stop offset=".1225" stop-color="#020202"/><stop offset=".1255" stop-color="#050505"/><stop offset=".129" stop-color="#0b0b0b"/><stop offset=".1325" stop-color="#121212"/><stop offset=".136" stop-color="#1b1b1b"/><stop offset=".1425" stop-color="#303030"/><stop offset=".158" stop-color="#666666"/><stop offset=".162" stop-color="#727272"/><stop offset=".166" stop-color="#7d7d7d"/><stop offset=".17" stop-color="#868686"/><stop offset=".174" stop-color="#8c8c8c"/><stop offset=".178" stop-color="#909090"/><stop offset=".1815" stop-color="#919191"/><stop offset=".1855" stop-color="#909090"/><stop offset=".1895" stop-color="#8c8c8c"/><stop offset=".194" stop-color="#858585"/><stop offset=".1985" stop-color="#7b7b7b"/><stop offset=".2025" stop-color="#707070"/><stop offset=".2065" stop-color="#646464"/><stop offset=".22" stop-color="#373737"/><stop offset=".225" stop-color="#282828"/><stop offset=".23" stop-color="#1a1a1a"/><stop offset=".235" stop-color="#0e0e0e"/><stop offset=".2395" stop-color="#070707"/><stop offset=".244" stop-color="#020202"/><stop offset=".2485" stop-color="#000000"/><stop offset=".253" stop-color="#010101"/><stop offset=".2575" stop-color="#060606"/><stop offset=".262" stop-color="#0d0d0d"/><stop offset=".2665" stop-color="#171717"/><stop offset=".2715" stop-color="#242424"/><stop offset=".276" stop-color="#323232"/><stop offset=".2805" stop-color="#424242"/><stop offset=".2965" stop-color="#7e7e7e"/><stop offset=".3025" stop-color="#949494"/><stop offset=".309" stop-color="#a9a9a9"/><stop offset=".315" stop-color="#b9b9b9"/><stop offset=".3185" stop-color="#c1c1c1"/><stop offset=".3215" stop-color="#c7c7c7"/><stop offset=".3245" stop-color="#cccccc"/><stop offset=".3275" stop-color="#d0d0d0"/><stop offset=".3305" stop-color="#d4d4d4"/><stop offset=".3335" stop-color="#d6d6d6"/><stop offset=".3395" stop-color="#d8d8d8"/><stop offset=".345" stop-color="#d6d6d6"/><stop offset=".351" stop-color="#d2d2d2"/><stop offset=".357" stop-color="#cacaca"/><stop offset=".3635" stop-color="#c0c0c0"/><stop offset=".369" stop-color="#b5b5b5"/><stop offset=".375" stop-color="#a8a8a8"/><stop offset=".3985" stop-color="#727272"/><stop offset=".4095" stop-color="#5a5a5a"/><stop offset=".421" stop-color="#444444"/><stop offset=".432" stop-color="#323232"/><stop offset=".438" stop-color="#2a2a2a"/><stop offset=".444" stop-color="#232323"/><stop offset=".45" stop-color="#1d1d1d"/><stop offset=".4565" stop-color="#171717"/><stop offset=".47" stop-color="#0f0f0f"/><stop offset=".485" stop-color="#080808"/><stop offset=".498" stop-color="#050505"/><stop offset=".5135" stop-color="#020202"/><stop offset=".532" stop-color="#010101"/><stop offset=".556" stop-color="#000000"/><stop offset="1" stop-color="#000000"/></linearGradient>
<linearGradient id="g49" gradientUnits="userSpaceOnUse" x1="0" y1="0" x2="0" y2="-296.750" spreadMethod="reflect"><stop offset="0" stop-color="#000000"/><stop offset=".003" stop-color="#010101"/><stop offset=".006" stop-color="#040404"/><stop offset=".009" stop-color="#080808"/><stop offset=".0125" stop-color="#101010"/><stop offset=".016" stop-color="#191919"/><stop offset=".0195" stop-color="#242424"/><stop offset=".0235" stop-color="#323232"/><stop offset=".035" stop-color="#5d5d5d"/><stop offset=".0385" stop-color="#696969"/><stop offset=".042" stop-color="#737373"/><stop offset=".046" stop-color="#7d7d7d"/><stop offset=".0495" stop-color="#838383"/><stop offset=".053" stop-color="#878787"/><stop offset=".0565" stop-color="#898989"/><stop offset=".06" stop-color="#878787"/><stop offset=".0635" stop-color="#848484"/><stop offset=".067" stop-color="#7e7e7e"/><stop offset=".071" stop-color="#747474"/><stop offset=".0745" stop-color="#6a6a6a"/><stop offset=".078" stop-color="#5f5f5f"/><stop offset=".09" stop-color="#333333"/><stop offset=".0945" stop-color="#232323"/><stop offset=".0985" stop-color="#171717"/><stop offset=".1025" stop-color="#0d0d0d"/><stop offset=".1065" stop-color="#060606"/><stop offset=".1105" stop-color="#010101"/><stop offset=".1145" stop-color="#000000"/><stop offset=".1185" stop-color="#020202"/><stop offset=".1215" stop-color="#060606"/><stop offset=".125" stop-color="#0c0c0c"/><stop offset=".128" stop-color="#131313"/><stop offset=".1315" stop-color="#1d1d1d"/><stop offset=".1345" stop-color="#262626"/><stop offset=".138" stop-color="#333333"/><stop offset=".1525" stop-color="#696969"/><stop offset=".1565" stop-color="#777777"/><stop offset=".1605" stop-color="#828282"/><stop offset=".1645" stop-color="#8b8b8b"/><stop offset=".168" stop-color="#919191"/><stop offset=".172" stop-color="#959595"/><stop offset=".1755" stop-color="#979797"/><stop offset=".179" stop-color="#959595"/><stop offset=".183" stop-color="#919191"/><stop offset=".187" stop-color="#8b8b8b"/><stop offset=".1915" stop-color="#808080"/><stop offset=".195" stop-color="#767676"/><stop offset=".199" stop-color="#696969"/><stop offset=".2125" stop-color="#393939"/><stop offset=".2175" stop-color="#282828"/><stop offset=".222" stop-color="#1b1b1b"/><stop offset=".2265" stop-color="#101010"/><stop offset=".231" stop-color="#070707"/><stop offset=".2355" stop-color="#020202"/><stop offset=".24" stop-color="#000000"/><stop offset=".2445" stop-color="#010101"/><stop offset=".2485" stop-color="#060606"/><stop offset=".253" stop-color="#0d0d0d"/><stop offset=".2575" stop-color="#181818"/><stop offset=".262" stop-color="#252525"/><stop offset=".266" stop-color="#323232"/><stop offset=".2705" stop-color="#434343"/><stop offset=".2865" stop-color="#838383"/><stop offset=".2925" stop-color="#9a9a9a"/><stop offset=".2985" stop-color="#afafaf"/><stop offset=".304" stop-color="#bfbfbf"/><stop offset=".307" stop-color="#c7c7c7"/><stop offset=".31" stop-color="#cdcdcd"/><stop offset=".313" stop-color="#d3d3d3"/><stop offset=".316" stop-color="#d7d7d7"/><stop offset=".319" stop-color="#dbdbdb"/><stop offset=".322" stop-color="#dddddd"/><stop offset=".325" stop-color="#dfdfdf"/><stop offset=".328" stop-color="#dfdfdf"/><stop offset=".3335" stop-color="#dedede"/><stop offset=".339" stop-color="#d9d9d9"/><stop offset=".345" stop-color="#d1d1d1"/><stop offset=".351" stop-color="#c7c7c7"/><stop offset=".356" stop-color="#bcbcbc"/><stop offset=".362" stop-color="#afafaf"/><stop offset=".385" stop-color="#757575"/><stop offset=".3955" stop-color="#5d5d5d"/><stop offset=".4065" stop-color="#464646"/><stop offset=".412" stop-color="#3c3c3c"/><stop offset=".4175" stop-color="#343434"/><stop offset=".423" stop-color="#2c2c2c"/><stop offset=".429" stop-color="#242424"/><stop offset=".435" stop-color="#1e1e1e"/><stop offset=".4415" stop-color="#181818"/><stop offset=".4545" stop-color="#0f0f0f"/><stop offset=".4695" stop-color="#080808"/><stop offset=".482" stop-color="#050505"/><stop offset=".497" stop-color="#020202"/><stop offset=".515" stop-color="#010101"/><stop offset=".539" stop-color="#000000"/><stop offset="1" stop-color="#000000"/></linearGradient>
<linearGradient id="g50" gradientUnits="userSpaceOnUse" x1="0" y1="0" x2="0" y2="-296.750" spreadMethod="reflect"><stop offset="0" stop-color="#000000"/><stop offset=".003" stop-color="#010101"/><stop offset=".006" stop-color="#040404"/><stop offset=".009" stop-color="#090909"/><stop offset=".012" stop-color="#101010"/><stop offset=".0155" stop-color="#1a1a1a"/><stop offset=".019" stop-color="#262626"/><stop offset=".023" stop-color="#363636"/><stop offset=".034" stop-color="#626262"/><stop offset=".0375" stop-color="#6e6e6e"/><stop offset=".0405" stop-color="#787878"/><stop offset=".044" stop-color="#818181"/><stop offset=".0475" stop-color="#888888"/><stop offset=".051" stop-color="#8c8c8c"/><stop offset=".0545" stop-color="#8e8e8e"/><stop offset=".058" stop-color="#8c8c8c"/><stop offset=".0615" stop-color="#888888"/><stop offset=".065" stop-color="#828282"/><stop offset=".0685" stop-color="#797979"/><stop offset=".0715" stop-color="#6f6f6f"/><stop offset=".075" stop-color="#636363"/><stop offset=".087" stop-color="#343434"/><stop offset=".091" stop-color="#252525"/><stop offset=".095" stop-color="#181818"/><stop offset=".099" stop-color="#0d0d0d"/><stop offset=".103" stop-color="#050505"/><stop offset=".1065" stop-color="#010101"/><stop offset=".11" stop-color="#000000"/><stop offset=".114" stop-color="#020202"/><stop offset=".117" stop-color="#060606"/><stop offset=".12" stop-color="#0b0b0b"/><stop offset=".123" stop-color="#121212"/><stop offset=".1265" stop-color="#1d1d1d"/><stop offset=".1295" stop-color="#272727"/><stop offset=".1325" stop-color="#333333"/><stop offset=".147" stop-color="#6d6d6d"/><stop offset=".151" stop-color="#7b7b7b"/><stop offset=".1545" stop-color="#868686"/><stop offset=".1585" stop-color="#909090"/><stop offset=".162" stop-color="#979797"/><stop offset=".1655" stop-color="#9b9b9b"/><stop offset=".169" stop-color="#9c9c9c"/><stop offset=".1725" stop-color="#9b9b9b"/><stop offset=".1765" stop-color="#979797"/><stop offset=".1805" stop-color="#8f8f8f"/><stop offset=".1845" stop-color="#858585"/><stop offset=".188" stop-color="#7a7a7a"/><stop offset=".192" stop-color="#6d6d6d"/><stop offset=".205" stop-color="#3b3b3b"/><stop offset=".2095" stop-color="#2a2a2a"/><stop offset=".214" stop-color="#1c1c1c"/><stop offset=".2185" stop-color="#101010"/><stop offset=".223" stop-color="#070707"/><stop offset=".227" stop-color="#020202"/><stop offset=".2295" stop-color="#000000"/><stop offset=".2315" stop-color="#000000"/><stop offset=".2355" stop-color="#010101"/><stop offset=".2395" stop-color="#060606"/><stop offset=".2435" stop-color="#0d0d0d"/><stop offset=".248" stop-color="#181818"/><stop offset=".2525" stop-color="#262626"/><stop offset=".2565" stop-color="#343434"/><stop offset=".261" stop-color="#464646"/><stop offset=".276" stop-color="#878787"/><stop offset=".282" stop-color="#a0a0a0"/><stop offset=".2875" stop-color="#b5b5b5"/><stop offset=".293" stop-color="#c6c6c6"/><stop offset=".296" stop-color="#cecece"/><stop offset=".299" stop-color="#d5d5d5"/><stop offset=".302" stop-color="#dbdbdb"/><stop offset=".3045" stop-color="#dfdfdf"/><stop offset=".307" stop-color="#e3e3e3"/><stop offset=".31" stop-color="#e5e5e5"/><stop offset=".313" stop-color="#e7e7e7"/><stop offset=".316" stop-color="#e8e8e8"/><stop offset=".321" stop-color="#e6e6e6"/><stop offset=".3265" stop-color="#e2e2e2"/><stop offset=".332" stop-color="#dadada"/><stop offset=".338" stop-color="#cfcfcf"/><stop offset=".343" stop-color="#c4c4c4"/><stop offset=".349" stop-color="#b5b5b5"/><stop offset=".371" stop-color="#7a7a7a"/><stop offset=".3815" stop-color="#606060"/><stop offset=".387" stop-color="#535353"/><stop offset=".3925" stop-color="#484848"/><stop offset=".398" stop-color="#3d3d3d"/><stop offset=".403" stop-color="#353535"/><stop offset=".4085" stop-color="#2c2c2c"/><stop offset=".4145" stop-color="#242424"/><stop offset=".4205" stop-color="#1e1e1e"/><stop offset=".4265" stop-color="#181818"/><stop offset=".433" stop-color="#131313"/><stop offset=".4395" stop-color="#0e0e0e"/><stop offset=".4545" stop-color="#080808"/><stop offset=".467" stop-color="#040404"/><stop offset=".4815" stop-color="#020202"/><stop offset=".499" stop-color="#010101"/><stop offset=".5225" stop-color="#000000"/><stop offset="1" stop-color="#000000"/></linearGradient>
<linearGradient id="g51" gradientUnits="userSpaceOnUse" x1="0" y1="0" x2="0" y2="-296.750" spreadMethod="reflect"><stop offset="0" stop-color="#000000"/><stop offset=".0025" stop-color="#010101"/><stop offset=".0055" stop-color="#040404"/><stop offset=".0085" stop-color="#090909"/><stop offset=".0115" stop-color="#111111"/><stop offset=".015" stop-color="#1c1c1c"/><stop offset=".0185" stop-color="#292929"/><stop offset=".022" stop-color="#373737"/><stop offset=".0325" stop-color="#656565"/><stop offset=".036" stop-color="#727272"/><stop offset=".039" stop-color="#7c7c7c"/><stop offset=".0425" stop-color="#868686"/><stop offset=".046" stop-color="#8e8e8e"/><stop offset=".0495" stop-color="#929292"/><stop offset=".0525" stop-color="#939393"/><stop offset=".0555" stop-color="#929292"/><stop offset=".059" stop-color="#8e8e8e"/><stop offset=".0625" stop-color="#878787"/><stop offset=".066" stop-color="#7d7d7d"/><stop offset=".069" stop-color="#737373"/><stop offset=".0725" stop-color="#666666"/><stop offset=".0835" stop-color="#373737"/><stop offset=".0875" stop-color="#272727"/><stop offset=".0915" stop-color="#181818"/><stop offset=".095" stop-color="#0e0e0e"/><stop offset=".099" stop-color="#060606"/><stop offset=".1025" stop-color="#010101"/><stop offset=".106" stop-color="#000000"/><stop offset=".108" stop-color="#010101"/><stop offset=".11" stop-color="#020202"/><stop offset=".113" stop-color="#060606"/><stop offset=".116" stop-color="#0d0d0d"/><stop offset=".119" stop-color="#151515"/><stop offset=".122" stop-color="#1f1f1f"/><stop offset=".125" stop-color="#2a2a2a"/><stop offset=".128" stop-color="#363636"/><stop offset=".138" stop-color="#636363"/><stop offset=".1415" stop-color="#717171"/><stop offset=".1455" stop-color="#818181"/><stop offset=".149" stop-color="#8c8c8c"/><stop offset=".1525" stop-color="#969696"/><stop offset=".156" stop-color="#9d9d9d"/><stop offset=".1595" stop-color="#a1a1a1"/><stop offset=".163" stop-color="#a2a2a2"/><stop offset=".1665" stop-color="#a1a1a1"/><stop offset=".1705" stop-color="#9b9b9b"/><stop offset=".174" stop-color="#949494"/><stop offset=".178" stop-color="#898989"/><stop offset=".1815" stop-color="#7d7d7d"/><stop offset=".185" stop-color="#707070"/><stop offset=".197" stop-color="#3e3e3e"/><stop offset=".2015" stop-color="#2d2d2d"/><stop offset=".206" stop-color="#1d1d1d"/><stop offset=".2105" stop-color="#101010"/><stop offset=".213" stop-color="#0a0a0a"/><stop offset=".215" stop-color="#070707"/><stop offset=".219" stop-color="#020202"/><stop offset=".223" stop-color="#000000"/><stop offset=".227" stop-color="#020202"/><stop offset=".231" stop-color="#070707"/><stop offset=".235" stop-color="#0f0f0f"/><stop offset=".239" stop-color="#1a1a1a"/><stop offset=".2435" stop-color="#292929"/><stop offset=".2475" stop-color="#393939"/><stop offset=".2515" stop-color="#4a4a4a"/><stop offset=".2655" stop-color="#8c8c8c"/><stop offset=".271" stop-color="#a5a5a5"/><stop offset=".2765" stop-color="#bbbbbb"/><stop offset=".282" stop-color="#cecece"/><stop offset=".285" stop-color="#d6d6d6"/><stop offset=".2875" stop-color="#dddddd"/><stop offset=".2905" stop-color="#e3e3e3"/><stop offset=".293" stop-color="#e8e8e8"/><stop offset=".2955" stop-color="#ebebeb"/><stop offset=".2985" stop-color="#eeeeee"/><stop offset=".301" stop-color="#f0f0f0"/><stop offset=".304" stop-color="#f1f1f1"/><stop offset=".309" stop-color="#efefef"/><stop offset=".314" stop-color="#ebebeb"/><stop offset=".3195" stop-color="#e3e3e3"/><stop offset=".3255" stop-color="#d7d7d7"/><stop offset=".3305" stop-color="#cbcbcb"/><stop offset=".336" stop-color="#bcbcbc"/><stop offset=".3575" stop-color="#7e7e7e"/><stop offset=".3675" stop-color="#636363"/><stop offset=".373" stop-color="#555555"/><stop offset=".378" stop-color="#4a4a4a"/><stop offset=".383" stop-color="#404040"/><stop offset=".3885" stop-color="#363636"/><stop offset=".394" stop-color="#2d2d2d"/><stop offset=".3995" stop-color="#252525"/><stop offset=".4055" stop-color="#1e1e1e"/><stop offset=".4115" stop-color="#181818"/><stop offset=".4175" stop-color="#131313"/><stop offset=".424" stop-color="#0e0e0e"/><stop offset=".431" stop-color="#0b0b0b"/><stop offset=".4385" stop-color="#080808"/><stop offset=".4505" stop-color="#040404"/><stop offset=".4645" stop-color="#020202"/><stop offset=".4815" stop-color="#010101"/><stop offset=".505" stop-color="#000000"/><stop offset="1" stop-color="#000000"/></linearGradient>
<linearGradient id="g52" gradientUnits="userSpaceOnUse" x1="0" y1="0" x2="0" y2="-296.750" spreadMethod="reflect"><stop offset="0" stop-color="#000000"/><stop offset=".003" stop-color="#010101"/><stop offset=".0065" stop-color="#060606"/><stop offset=".0095" stop-color="#0d0d0d"/><stop offset=".013" stop-color="#181818"/><stop offset=".016" stop-color="#232323"/><stop offset=".019" stop-color="#303030"/><stop offset=".0295" stop-color="#616161"/><stop offset=".033" stop-color="#707070"/><stop offset=".0365" stop-color="#7e7e7e"/><stop offset=".0395" stop-color="#888888"/><stop offset=".0425" stop-color="#909090"/><stop offset=".045" stop-color="#959595"/><stop offset=".048" stop-color="#989898"/><stop offset=".0505" stop-color="#999999"/><stop offset=".0535" stop-color="#989898"/><stop offset=".057" stop-color="#939393"/><stop offset=".06" stop-color="#8c8c8c"/><stop offset=".0635" stop-color="#828282"/><stop offset=".0665" stop-color="#777777"/><stop offset=".0695" stop-color="#6a6a6a"/><stop offset=".08" stop-color="#3a3a3a"/><stop offset=".084" stop-color="#292929"/><stop offset=".088" stop-color="#191919"/><stop offset=".0915" stop-color="#0e0e0e"/><stop offset=".095" stop-color="#060606"/><stop offset=".0985" stop-color="#010101"/><stop offset=".102" stop-color="#000000"/><stop offset=".1055" stop-color="#020202"/><stop offset=".108" stop-color="#060606"/><stop offset=".111" stop-color="#0c0c0c"/><stop offset=".114" stop-color="#151515"/><stop offset=".117" stop-color="#1f1f1f"/><stop offset=".12" stop-color="#2b2b2b"/><stop offset=".123" stop-color="#393939"/><stop offset=".1325" stop-color="#666666"/><stop offset=".136" stop-color="#767676"/><stop offset=".1395" stop-color="#858585"/><stop offset=".143" stop-color="#929292"/><stop offset=".1465" stop-color="#9c9c9c"/><stop offset=".15" stop-color="#a3a3a3"/><stop offset=".1535" stop-color="#a8a8a8"/><stop offset=".1565" stop-color="#a9a9a9"/><stop offset=".16" stop-color="#a7a7a7"/><stop offset=".1635" stop-color="#a2a2a2"/><stop offset=".167" stop-color="#9b9b9b"/><stop offset=".171" stop-color="#8f8f8f"/><stop offset=".174" stop-color="#848484"/><stop offset=".1775" stop-color="#767676"/><stop offset=".1895" stop-color="#404040"/><stop offset=".1935" stop-color="#2f2f2f"/><stop offset=".198" stop-color="#1e1e1e"/><stop offset=".202" stop-color="#111111"/><stop offset=".206" stop-color="#080808"/><stop offset=".21" stop-color="#020202"/><stop offset=".212" stop-color="#010101"/><stop offset=".214" stop-color="#000000"/><stop offset=".216" stop-color="#000000"/><stop offset=".218" stop-color="#020202"/><stop offset=".2215" stop-color="#060606"/><stop offset=".2255" stop-color="#0f0f0f"/><stop offset=".2295" stop-color="#1a1a1a"/><stop offset=".234" stop-color="#2b2b2b"/><stop offset=".2375" stop-color="#3a3a3a"/><stop offset=".2415" stop-color="#4d4d4d"/><stop offset=".255" stop-color="#919191"/><stop offset=".2605" stop-color="#acacac"/><stop offset=".266" stop-color="#c4c4c4"/><stop offset=".269" stop-color="#cfcfcf"/><stop offset=".2715" stop-color="#d8d8d8"/><stop offset=".2745" stop-color="#e1e1e1"/><stop offset=".277" stop-color="#e8e8e8"/><stop offset=".2795" stop-color="#ededed"/><stop offset=".282" stop-color="#f2f2f2"/><stop offset=".2845" stop-color="#f6f6f6"/><stop offset=".287" stop-color="#f8f8f8"/><stop offset=".2895" stop-color="#fafafa"/><stop offset=".2925" stop-color="#fafafa"/><stop offset=".297" stop-color="#f9f9f9"/><stop offset=".302" stop-color="#f4f4f4"/><stop offset=".307" stop-color="#ececec"/><stop offset=".3125" stop-color="#e0e0e0"/><stop offset=".317" stop-color="#d4d4d4"/><stop offset=".3225" stop-color="#c5c5c5"/><stop offset=".3435" stop-color="#838383"/><stop offset=".353" stop-color="#676767"/><stop offset=".3585" stop-color="#595959"/><stop offset=".3635" stop-color="#4c4c4c"/><stop offset=".3685" stop-color="#414141"/><stop offset=".3735" stop-color="#383838"/><stop offset=".379" stop-color="#2e2e2e"/><stop offset=".3845" stop-color="#262626"/><stop offset=".39" stop-color="#1f1f1f"/><stop offset=".396" stop-color="#181818"/><stop offset=".402" stop-color="#131313"/><stop offset=".4085" stop-color="#0e0e0e"/><stop offset=".4155" stop-color="#0a0a0a"/><stop offset=".423" stop-color="#070707"/><stop offset=".4345" stop-color="#040404"/><stop offset=".448" stop-color="#020202"/><stop offset=".4645" stop-color="#010101"/><stop offset=".4875" stop-color="#000000"/><stop offset="1" stop-color="#000000"/></linearGradient>
<linearGradient id="g53" gradientUnits="userSpaceOnUse" x1="0" y1="0" x2="0" y2="-296.750" spreadMethod="reflect"><stop offset="0" stop-color="#000000"/><stop offset=".003" stop-color="#020202"/><stop offset=".006" stop-color="#060606"/><stop offset=".009" stop-color="#0d0d0d"/><stop offset=".0125" stop-color="#191919"/><stop offset=".0155" stop-color="#252525"/><stop offset=".0185" stop-color="#333333"/><stop offset=".028" stop-color="#636363"/><stop offset=".0315" stop-color="#747474"/><stop offset=".035" stop-color="#838383"/><stop offset=".038" stop-color="#8e8e8e"/><stop offset=".041" stop-color="#979797"/><stop offset=".0435" stop-color="#9c9c9c"/><stop offset=".046" stop-color="#9f9f9f"/><stop offset=".0485" stop-color="#a0a0a0"/><stop offset=".0515" stop-color="#9e9e9e"/><stop offset=".0545" stop-color="#9a9a9a"/><stop offset=".0575" stop-color="#939393"/><stop offset=".061" stop-color="#878787"/><stop offset=".064" stop-color="#7b7b7b"/><stop offset=".067" stop-color="#6d6d6d"/><stop offset=".077" stop-color="#3b3b3b"/><stop offset=".0805" stop-color="#2b2b2b"/><stop offset=".084" stop-color="#1c1c1c"/><stop offset=".0875" stop-color="#101010"/><stop offset=".091" stop-color="#070707"/><stop offset=".093" stop-color="#030303"/><stop offset=".0945" stop-color="#010101"/><stop offset=".0975" stop-color="#000000"/><stop offset=".099" stop-color="#000000"/><stop offset=".101" stop-color="#020202"/><stop offset=".1035" stop-color="#060606"/><stop offset=".1065" stop-color="#0d0d0d"/><stop offset=".1095" stop-color="#161616"/><stop offset=".1125" stop-color="#222222"/><stop offset=".115" stop-color="#2d2d2d"/><stop offset=".118" stop-color="#3b3b3b"/><stop offset=".127" stop-color="#6a6a6a"/><stop offset=".1305" stop-color="#7b7b7b"/><stop offset=".134" stop-color="#8b8b8b"/><stop offset=".1375" stop-color="#999999"/><stop offset=".141" stop-color="#a4a4a4"/><stop offset=".144" stop-color="#aaaaaa"/><stop offset=".147" stop-color="#afafaf"/><stop offset=".15" stop-color="#b0b0b0"/><stop offset=".1535" stop-color="#aeaeae"/><stop offset=".157" stop-color="#a9a9a9"/><stop offset=".1605" stop-color="#a0a0a0"/><stop offset=".164" stop-color="#959595"/><stop offset=".167" stop-color="#898989"/><stop offset=".1705" stop-color="#7a7a7a"/><stop offset=".1815" stop-color="#444444"/><stop offset=".186" stop-color="#2f2f2f"/><stop offset=".19" stop-color="#1f1f1f"/><stop offset=".194" stop-color="#111111"/><stop offset=".196" stop-color="#0c0c0c"/><stop offset=".198" stop-color="#080808"/><stop offset=".2015" stop-color="#020202"/><stop offset=".2035" stop-color="#010101"/><stop offset=".2055" stop-color="#000000"/><stop offset=".209" stop-color="#020202"/><stop offset=".212" stop-color="#060606"/><stop offset=".2155" stop-color="#0d0d0d"/><stop offset=".2185" stop-color="#161616"/><stop offset=".222" stop-color="#222222"/><stop offset=".226" stop-color="#343434"/><stop offset=".23" stop-color="#474747"/><stop offset=".2345" stop-color="#5f5f5f"/><stop offset=".2435" stop-color="#919191"/><stop offset=".2475" stop-color="#a7a7a7"/><stop offset=".2515" stop-color="#bbbbbb"/><stop offset=".2555" stop-color="#cdcdcd"/><stop offset=".26" stop-color="#dfdfdf"/><stop offset=".2645" stop-color="#eeeeee"/><stop offset=".269" stop-color="#f9f9f9"/><stop offset=".2715" stop-color="#fefefe"/><stop offset=".2725" stop-color="#ffffff"/><stop offset=".289" stop-color="#ffffff"/><stop offset=".2925" stop-color="#fafafa"/><stop offset=".2965" stop-color="#f1f1f1"/><stop offset=".302" stop-color="#e3e3e3"/><stop offset=".308" stop-color="#d1d1d1"/><stop offset=".314" stop-color="#bebebe"/><stop offset=".3305" stop-color="#858585"/><stop offset=".3355" stop-color="#757575"/><stop offset=".3405" stop-color="#666666"/><stop offset=".346" stop-color="#575757"/><stop offset=".3515" stop-color="#494949"/><stop offset=".3565" stop-color="#3e3e3e"/><stop offset=".362" stop-color="#333333"/><stop offset=".367" stop-color="#2a2a2a"/><stop offset=".372" stop-color="#232323"/><stop offset=".377" stop-color="#1c1c1c"/><stop offset=".3825" stop-color="#171717"/><stop offset=".388" stop-color="#121212"/><stop offset=".394" stop-color="#0e0e0e"/><stop offset=".4075" stop-color="#070707"/><stop offset=".4185" stop-color="#040404"/><stop offset=".4315" stop-color="#020202"/><stop offset=".47" stop-color="#000000"/><stop offset="1" stop-color="#000000"/></linearGradient>
<linearGradient id="g54" gradientUnits="userSpaceOnUse" x1="0" y1="0" x2="0" y2="-296.750" spreadMethod="reflect"><stop offset="0" stop-color="#000000"/><stop offset=".003" stop-color="#020202"/><stop offset=".006" stop-color="#070707"/><stop offset=".009" stop-color="#0f0f0f"/><stop offset=".012" stop-color="#1a1a1a"/><stop offset=".0145" stop-color="#252525"/><stop offset=".0175" stop-color="#343434"/><stop offset=".027" stop-color="#696969"/><stop offset=".03" stop-color="#797979"/><stop offset=".033" stop-color="#878787"/><stop offset=".036" stop-color="#939393"/><stop offset=".039" stop-color="#9d9d9d"/><stop offset=".0415" stop-color="#a2a2a2"/><stop offset=".044" stop-color="#a6a6a6"/><stop offset=".0465" stop-color="#a7a7a7"/><stop offset=".0495" stop-color="#a5a5a5"/><stop offset=".0525" stop-color="#a0a0a0"/><stop offset=".0555" stop-color="#989898"/><stop offset=".0585" stop-color="#8d8d8d"/><stop offset=".061" stop-color="#828282"/><stop offset=".064" stop-color="#737373"/><stop offset=".0735" stop-color="#3f3f3f"/><stop offset=".077" stop-color="#2d2d2d"/><stop offset=".0805" stop-color="#1d1d1d"/><stop offset=".084" stop-color="#101010"/><stop offset=".086" stop-color="#0a0a0a"/><stop offset=".0875" stop-color="#060606"/><stop offset=".0905" stop-color="#020202"/><stop offset=".0935" stop-color="#000000"/><stop offset=".095" stop-color="#000000"/><stop offset=".097" stop-color="#020202"/><stop offset=".0995" stop-color="#070707"/><stop offset=".102" stop-color="#0d0d0d"/><stop offset=".1045" stop-color="#161616"/><stop offset=".1075" stop-color="#222222"/><stop offset=".11" stop-color="#2e2e2e"/><stop offset=".113" stop-color="#3e3e3e"/><stop offset=".1215" stop-color="#6e6e6e"/><stop offset=".125" stop-color="#818181"/><stop offset=".1285" stop-color="#929292"/><stop offset=".1315" stop-color="#9f9f9f"/><stop offset=".1345" stop-color="#a9a9a9"/><stop offset=".1375" stop-color="#b1b1b1"/><stop offset=".1405" stop-color="#b6b6b6"/><stop offset=".1435" stop-color="#b8b8b8"/><stop offset=".1465" stop-color="#b6b6b6"/><stop offset=".148" stop-color="#b5b5b5"/><stop offset=".15" stop-color="#b1b1b1"/><stop offset=".1535" stop-color="#a8a8a8"/><stop offset=".157" stop-color="#9c9c9c"/><stop offset=".16" stop-color="#8f8f8f"/><stop offset=".163" stop-color="#808080"/><stop offset=".174" stop-color="#464646"/><stop offset=".178" stop-color="#323232"/><stop offset=".182" stop-color="#202020"/><stop offset=".1855" stop-color="#131313"/><stop offset=".1875" stop-color="#0d0d0d"/><stop offset=".1895" stop-color="#080808"/><stop offset=".193" stop-color="#020202"/><stop offset=".1965" stop-color="#000000"/><stop offset=".198" stop-color="#000000"/><stop offset=".2" stop-color="#020202"/><stop offset=".2035" stop-color="#070707"/><stop offset=".207" stop-color="#101010"/><stop offset=".2105" stop-color="#1c1c1c"/><stop offset=".214" stop-color="#2a2a2a"/><stop offset=".2175" stop-color="#3c3c3c"/><stop offset=".221" stop-color="#4f4f4f"/><stop offset=".225" stop-color="#666666"/><stop offset=".2355" stop-color="#a6a6a6"/><stop offset=".239" stop-color="#b9b9b9"/><stop offset=".242" stop-color="#c9c9c9"/><stop offset=".2455" stop-color="#dbdbdb"/><stop offset=".249" stop-color="#eaeaea"/><stop offset=".2525" stop-color="#f6f6f6"/><stop offset=".2555" stop-color="#ffffff"/><stop offset=".2825" stop-color="#ffffff"/><stop offset=".283" stop-color="#fefefe"/><stop offset=".2885" stop-color="#efefef"/><stop offset=".2945" stop-color="#dcdcdc"/><stop offset=".3005" stop-color="#c7c7c7"/><stop offset=".316" stop-color="#8d8d8d"/><stop offset=".325" stop-color="#6e6e6e"/><stop offset=".3295" stop-color="#606060"/><stop offset=".3335" stop-color="#545454"/><stop offset=".338" stop-color="#484848"/><stop offset=".342" stop-color="#3f3f3f"/><stop offset=".3475" stop-color="#333333"/><stop offset=".353" stop-color="#292929"/><stop offset=".3585" stop-color="#212121"/><stop offset=".3645" stop-color="#191919"/><stop offset=".371" stop-color="#131313"/><stop offset=".3775" stop-color="#0e0e0e"/><stop offset=".3845" stop-color="#0a0a0a"/><stop offset=".3925" stop-color="#070707"/><stop offset=".403" stop-color="#040404"/><stop offset=".4155" stop-color="#020202"/><stop offset=".453" stop-color="#000000"/><stop offset="1" stop-color="#000000"/></linearGradient>
<linearGradient id="g55" gradientUnits="userSpaceOnUse" x1="0" y1="0" x2="0" y2="-296.750" spreadMethod="reflect"><stop offset="0" stop-color="#000000"/><stop offset=".0025" stop-color="#010101"/><stop offset=".004" stop-color="#030303"/><stop offset=".0055" stop-color="#070707"/><stop offset=".0085" stop-color="#0f0f0f"/><stop offset=".0115" stop-color="#1c1c1c"/><stop offset=".014" stop-color="#282828"/><stop offset=".017" stop-color="#383838"/><stop offset=".0255" stop-color="#6c6c6c"/><stop offset=".0285" stop-color="#7d7d7d"/><stop offset=".0315" stop-color="#8d8d8d"/><stop offset=".0345" stop-color="#9a9a9a"/><stop offset=".037" stop-color="#a3a3a3"/><stop offset=".0395" stop-color="#aaaaaa"/><stop offset=".042" stop-color="#adadad"/><stop offset=".0445" stop-color="#afafaf"/><stop offset=".047" stop-color="#adadad"/><stop offset=".0485" stop-color="#ababab"/><stop offset=".05" stop-color="#a8a8a8"/><stop offset=".053" stop-color="#9f9f9f"/><stop offset=".056" stop-color="#939393"/><stop offset=".0585" stop-color="#878787"/><stop offset=".0615" stop-color="#767676"/><stop offset=".07" stop-color="#434343"/><stop offset=".0735" stop-color="#2f2f2f"/><stop offset=".077" stop-color="#1e1e1e"/><stop offset=".08" stop-color="#111111"/><stop offset=".082" stop-color="#0b0b0b"/><stop offset=".0835" stop-color="#070707"/><stop offset=".0865" stop-color="#020202"/><stop offset=".088" stop-color="#000000"/><stop offset=".0895" stop-color="#000000"/><stop offset=".091" stop-color="#010101"/><stop offset=".0925" stop-color="#020202"/><stop offset=".095" stop-color="#070707"/><stop offset=".0975" stop-color="#0e0e0e"/><stop offset=".1" stop-color="#171717"/><stop offset=".103" stop-color="#252525"/><stop offset=".1055" stop-color="#323232"/><stop offset=".108" stop-color="#414141"/><stop offset=".1165" stop-color="#767676"/><stop offset=".1195" stop-color="#878787"/><stop offset=".1225" stop-color="#989898"/><stop offset=".1255" stop-color="#a6a6a6"/><stop offset=".1285" stop-color="#b1b1b1"/><stop offset=".1315" stop-color="#bababa"/><stop offset=".1345" stop-color="#bfbfbf"/><stop offset=".1375" stop-color="#c0c0c0"/><stop offset=".1405" stop-color="#bebebe"/><stop offset=".1435" stop-color="#b9b9b9"/><stop offset=".1465" stop-color="#b1b1b1"/><stop offset=".15" stop-color="#a3a3a3"/><stop offset=".153" stop-color="#959595"/><stop offset=".156" stop-color="#858585"/><stop offset=".166" stop-color="#4b4b4b"/><stop offset=".17" stop-color="#353535"/><stop offset=".174" stop-color="#212121"/><stop offset=".1775" stop-color="#131313"/><stop offset=".1795" stop-color="#0d0d0d"/><stop offset=".181" stop-color="#090909"/><stop offset=".183" stop-color="#050505"/><stop offset=".1845" stop-color="#020202"/><stop offset=".1865" stop-color="#000000"/><stop offset=".188" stop-color="#000000"/><stop offset=".191" stop-color="#010101"/><stop offset=".194" stop-color="#060606"/><stop offset=".1955" stop-color="#0a0a0a"/><stop offset=".1975" stop-color="#0f0f0f"/><stop offset=".201" stop-color="#1c1c1c"/><stop offset=".2045" stop-color="#2c2c2c"/><stop offset=".208" stop-color="#3f3f3f"/><stop offset=".2115" stop-color="#545454"/><stop offset=".215" stop-color="#6b6b6b"/><stop offset=".225" stop-color="#adadad"/><stop offset=".2305" stop-color="#cecece"/><stop offset=".2335" stop-color="#dfdfdf"/><stop offset=".2365" stop-color="#eeeeee"/><stop offset=".2405" stop-color="#ffffff"/><stop offset=".241" stop-color="#ffffff"/><stop offset=".274" stop-color="#ffffff"/><stop offset=".2745" stop-color="#fefefe"/><stop offset=".2785" stop-color="#f1f1f1"/><stop offset=".283" stop-color="#e0e0e0"/><stop offset=".3015" stop-color="#959595"/><stop offset=".31" stop-color="#757575"/><stop offset=".3145" stop-color="#656565"/><stop offset=".319" stop-color="#575757"/><stop offset=".3235" stop-color="#4a4a4a"/><stop offset=".328" stop-color="#3f3f3f"/><stop offset=".333" stop-color="#343434"/><stop offset=".3385" stop-color="#292929"/><stop offset=".344" stop-color="#202020"/><stop offset=".35" stop-color="#191919"/><stop offset=".356" stop-color="#121212"/><stop offset=".3625" stop-color="#0d0d0d"/><stop offset=".3695" stop-color="#090909"/><stop offset=".3775" stop-color="#060606"/><stop offset=".3875" stop-color="#030303"/><stop offset=".3995" stop-color="#020202"/><stop offset=".436" stop-color="#000000"/><stop offset="1" stop-color="#000000"/></linearGradient>
<linearGradient id="g56" gradientUnits="userSpaceOnUse" x1="0" y1="0" x2="0" y2="-296.750" spreadMethod="reflect"><stop offset="0" stop-color="#000000"/><stop offset=".002" stop-color="#010101"/><stop offset=".0045" stop-color="#050505"/><stop offset=".007" stop-color="#0c0c0c"/><stop offset=".0095" stop-color="#161616"/><stop offset=".012" stop-color="#222222"/><stop offset=".015" stop-color="#333333"/><stop offset=".018" stop-color="#474747"/><stop offset=".026" stop-color="#7c7c7c"/><stop offset=".0285" stop-color="#8b8b8b"/><stop offset=".031" stop-color="#999999"/><stop offset=".034" stop-color="#a6a6a6"/><stop offset=".0365" stop-color="#afafaf"/><stop offset=".038" stop-color="#b3b3b3"/><stop offset=".0395" stop-color="#b5b5b5"/><stop offset=".042" stop-color="#b7b7b7"/><stop offset=".0445" stop-color="#b6b6b6"/><stop offset=".046" stop-color="#b4b4b4"/><stop offset=".0475" stop-color="#b0b0b0"/><stop offset=".05" stop-color="#a9a9a9"/><stop offset=".053" stop-color="#9c9c9c"/><stop offset=".0555" stop-color="#8f8f8f"/><stop offset=".058" stop-color="#808080"/><stop offset=".061" stop-color="#6d6d6d"/><stop offset=".067" stop-color="#454545"/><stop offset=".0705" stop-color="#2f2f2f"/><stop offset=".0735" stop-color="#1f1f1f"/><stop offset=".0765" stop-color="#111111"/><stop offset=".078" stop-color="#0c0c0c"/><stop offset=".0795" stop-color="#080808"/><stop offset=".081" stop-color="#040404"/><stop offset=".0825" stop-color="#020202"/><stop offset=".084" stop-color="#000000"/><stop offset=".0855" stop-color="#000000"/><stop offset=".087" stop-color="#010101"/><stop offset=".0885" stop-color="#030303"/><stop offset=".0905" stop-color="#070707"/><stop offset=".093" stop-color="#0f0f0f"/><stop offset=".0955" stop-color="#191919"/><stop offset=".098" stop-color="#262626"/><stop offset=".1005" stop-color="#343434"/><stop offset=".103" stop-color="#444444"/><stop offset=".111" stop-color="#7b7b7b"/><stop offset=".114" stop-color="#8e8e8e"/><stop offset=".117" stop-color="#a0a0a0"/><stop offset=".12" stop-color="#afafaf"/><stop offset=".123" stop-color="#bbbbbb"/><stop offset=".1255" stop-color="#c3c3c3"/><stop offset=".127" stop-color="#c6c6c6"/><stop offset=".1285" stop-color="#c8c8c8"/><stop offset=".131" stop-color="#cacaca"/><stop offset=".1325" stop-color="#c9c9c9"/><stop offset=".134" stop-color="#c8c8c8"/><stop offset=".1355" stop-color="#c5c5c5"/><stop offset=".137" stop-color="#c2c2c2"/><stop offset=".14" stop-color="#b8b8b8"/><stop offset=".143" stop-color="#ababab"/><stop offset=".1455" stop-color="#9e9e9e"/><stop offset=".1485" stop-color="#8d8d8d"/><stop offset=".1515" stop-color="#7b7b7b"/><stop offset=".1585" stop-color="#4d4d4d"/><stop offset=".162" stop-color="#383838"/><stop offset=".1655" stop-color="#252525"/><stop offset=".169" stop-color="#151515"/><stop offset=".171" stop-color="#0e0e0e"/><stop offset=".1725" stop-color="#090909"/><stop offset=".1755" stop-color="#030303"/><stop offset=".1775" stop-color="#010101"/><stop offset=".179" stop-color="#000000"/><stop offset=".182" stop-color="#010101"/><stop offset=".185" stop-color="#060606"/><stop offset=".1865" stop-color="#0a0a0a"/><stop offset=".1885" stop-color="#101010"/><stop offset=".19" stop-color="#161616"/><stop offset=".192" stop-color="#1f1f1f"/><stop offset=".1955" stop-color="#313131"/><stop offset=".1985" stop-color="#434343"/><stop offset=".202" stop-color="#5a5a5a"/><stop offset=".2055" stop-color="#737373"/><stop offset=".214" stop-color="#b1b1b1"/><stop offset=".2185" stop-color="#d0d0d0"/><stop offset=".221" stop-color="#e0e0e0"/><stop offset=".2235" stop-color="#eeeeee"/><stop offset=".2265" stop-color="#fefefe"/><stop offset=".227" stop-color="#ffffff"/><stop offset=".265" stop-color="#ffffff"/><stop offset=".271" stop-color="#e7e7e7"/><stop offset=".2875" stop-color="#9d9d9d"/><stop offset=".292" stop-color="#898989"/><stop offset=".296" stop-color="#797979"/><stop offset=".3005" stop-color="#686868"/><stop offset=".305" stop-color="#595959"/><stop offset=".3095" stop-color="#4b4b4b"/><stop offset=".314" stop-color="#3f3f3f"/><stop offset=".319" stop-color="#333333"/><stop offset=".324" stop-color="#292929"/><stop offset=".3295" stop-color="#202020"/><stop offset=".335" stop-color="#181818"/><stop offset=".341" stop-color="#121212"/><stop offset=".3475" stop-color="#0d0d0d"/><stop offset=".3545" stop-color="#090909"/><stop offset=".362" stop-color="#060606"/><stop offset=".3715" stop-color="#030303"/><stop offset=".383" stop-color="#010101"/><stop offset=".418" stop-color="#000000"/><stop offset="1" stop-color="#000000"/></linearGradient>
<linearGradient id="g57" gradientUnits="userSpaceOnUse" x1="0" y1="0" x2="0" y2="-296.750" spreadMethod="reflect"><stop offset="0" stop-color="#000000"/><stop offset=".002" stop-color="#010101"/><stop offset=".0045" stop-color="#060606"/><stop offset=".0065" stop-color="#0c0c0c"/><stop offset=".009" stop-color="#171717"/><stop offset=".0115" stop-color="#242424"/><stop offset=".014" stop-color="#343434"/><stop offset=".017" stop-color="#494949"/><stop offset=".025" stop-color="#848484"/><stop offset=".0275" stop-color="#959595"/><stop offset=".0295" stop-color="#a1a1a1"/><stop offset=".031" stop-color="#a9a9a9"/><stop offset=".0325" stop-color="#afafaf"/><stop offset=".035" stop-color="#b8b8b8"/><stop offset=".0375" stop-color="#bebebe"/><stop offset=".04" stop-color="#c0c0c0"/><stop offset=".0425" stop-color="#bfbfbf"/><stop offset=".045" stop-color="#bababa"/><stop offset=".0475" stop-color="#b2b2b2"/><stop offset=".049" stop-color="#ababab"/><stop offset=".0505" stop-color="#a4a4a4"/><stop offset=".053" stop-color="#959595"/><stop offset=".0555" stop-color="#858585"/><stop offset=".064" stop-color="#474747"/><stop offset=".067" stop-color="#323232"/><stop offset=".07" stop-color="#202020"/><stop offset=".0715" stop-color="#181818"/><stop offset=".073" stop-color="#121212"/><stop offset=".0745" stop-color="#0c0c0c"/><stop offset=".076" stop-color="#070707"/><stop offset=".0785" stop-color="#020202"/><stop offset=".081" stop-color="#000000"/><stop offset=".0825" stop-color="#010101"/><stop offset=".084" stop-color="#030303"/><stop offset=".086" stop-color="#070707"/><stop offset=".0885" stop-color="#0f0f0f"/><stop offset=".091" stop-color="#1b1b1b"/><stop offset=".0935" stop-color="#292929"/><stop offset=".0955" stop-color="#363636"/><stop offset=".098" stop-color="#474747"/><stop offset=".1055" stop-color="#808080"/><stop offset=".1085" stop-color="#959595"/><stop offset=".1115" stop-color="#a9a9a9"/><stop offset=".114" stop-color="#b7b7b7"/><stop offset=".1155" stop-color="#bebebe"/><stop offset=".117" stop-color="#c5c5c5"/><stop offset=".1195" stop-color="#cdcdcd"/><stop offset=".122" stop-color="#d2d2d2"/><stop offset=".1245" stop-color="#d4d4d4"/><stop offset=".127" stop-color="#d2d2d2"/><stop offset=".1285" stop-color="#d0d0d0"/><stop offset=".13" stop-color="#cdcdcd"/><stop offset=".1315" stop-color="#c8c8c8"/><stop offset=".133" stop-color="#c2c2c2"/><stop offset=".136" stop-color="#b4b4b4"/><stop offset=".1385" stop-color="#a6a6a6"/><stop offset=".1415" stop-color="#939393"/><stop offset=".144" stop-color="#828282"/><stop offset=".151" stop-color="#505050"/><stop offset=".1545" stop-color="#393939"/><stop offset=".158" stop-color="#242424"/><stop offset=".161" stop-color="#161616"/><stop offset=".163" stop-color="#0e0e0e"/><stop offset=".1645" stop-color="#090909"/><stop offset=".166" stop-color="#050505"/><stop offset=".1675" stop-color="#020202"/><stop offset=".169" stop-color="#010101"/><stop offset=".1705" stop-color="#000000"/><stop offset=".172" stop-color="#000000"/><stop offset=".1735" stop-color="#020202"/><stop offset=".175" stop-color="#040404"/><stop offset=".1765" stop-color="#080808"/><stop offset=".178" stop-color="#0c0c0c"/><stop offset=".1795" stop-color="#121212"/><stop offset=".181" stop-color="#181818"/><stop offset=".183" stop-color="#222222"/><stop offset=".1845" stop-color="#2a2a2a"/><stop offset=".1865" stop-color="#363636"/><stop offset=".1895" stop-color="#4b4b4b"/><stop offset=".1925" stop-color="#616161"/><stop offset=".203" stop-color="#b5b5b5"/><stop offset=".2065" stop-color="#d0d0d0"/><stop offset=".21" stop-color="#e9e9e9"/><stop offset=".2135" stop-color="#ffffff"/><stop offset=".255" stop-color="#ffffff"/><stop offset=".2555" stop-color="#fefefe"/><stop offset=".2595" stop-color="#ebebeb"/><stop offset=".275" stop-color="#9e9e9e"/><stop offset=".279" stop-color="#8b8b8b"/><stop offset=".2825" stop-color="#7c7c7c"/><stop offset=".287" stop-color="#6a6a6a"/><stop offset=".2915" stop-color="#595959"/><stop offset=".2955" stop-color="#4c4c4c"/><stop offset=".3" stop-color="#3f3f3f"/><stop offset=".305" stop-color="#323232"/><stop offset=".31" stop-color="#282828"/><stop offset=".315" stop-color="#1f1f1f"/><stop offset=".3205" stop-color="#171717"/><stop offset=".3265" stop-color="#111111"/><stop offset=".3325" stop-color="#0c0c0c"/><stop offset=".339" stop-color="#080808"/><stop offset=".3465" stop-color="#050505"/><stop offset=".3555" stop-color="#030303"/><stop offset=".3665" stop-color="#010101"/><stop offset=".4005" stop-color="#000000"/><stop offset="1" stop-color="#000000"/></linearGradient>
<linearGradient id="g58" gradientUnits="userSpaceOnUse" x1="0" y1="0" x2="0" y2="-296.750" spreadMethod="reflect"><stop offset="0" stop-color="#000000"/><stop offset=".002" stop-color="#010101"/><stop offset=".004" stop-color="#050505"/><stop offset=".006" stop-color="#0c0c0c"/><stop offset=".0085" stop-color="#181818"/><stop offset=".011" stop-color="#272727"/><stop offset=".0135" stop-color="#383838"/><stop offset=".016" stop-color="#4c4c4c"/><stop offset=".0215" stop-color="#797979"/><stop offset=".024" stop-color="#8d8d8d"/><stop offset=".0265" stop-color="#9f9f9f"/><stop offset=".0285" stop-color="#acacac"/><stop offset=".031" stop-color="#b9b9b9"/><stop offset=".0335" stop-color="#c3c3c3"/><stop offset=".035" stop-color="#c7c7c7"/><stop offset=".036" stop-color="#c9c9c9"/><stop offset=".038" stop-color="#cacaca"/><stop offset=".039" stop-color="#cacaca"/><stop offset=".0405" stop-color="#c9c9c9"/><stop offset=".0415" stop-color="#c7c7c7"/><stop offset=".043" stop-color="#c3c3c3"/><stop offset=".0455" stop-color="#b9b9b9"/><stop offset=".048" stop-color="#acacac"/><stop offset=".05" stop-color="#9f9f9f"/><stop offset=".0525" stop-color="#8d8d8d"/><stop offset=".055" stop-color="#7a7a7a"/><stop offset=".0605" stop-color="#4d4d4d"/><stop offset=".0635" stop-color="#363636"/><stop offset=".0665" stop-color="#222222"/><stop offset=".068" stop-color="#191919"/><stop offset=".0695" stop-color="#121212"/><stop offset=".071" stop-color="#0b0b0b"/><stop offset=".0725" stop-color="#060606"/><stop offset=".074" stop-color="#030303"/><stop offset=".075" stop-color="#010101"/><stop offset=".0765" stop-color="#000000"/><stop offset=".0775" stop-color="#000000"/><stop offset=".0785" stop-color="#010101"/><stop offset=".08" stop-color="#030303"/><stop offset=".082" stop-color="#080808"/><stop offset=".084" stop-color="#101010"/><stop offset=".086" stop-color="#1a1a1a"/><stop offset=".0885" stop-color="#292929"/><stop offset=".0905" stop-color="#373737"/><stop offset=".093" stop-color="#4a4a4a"/><stop offset=".1005" stop-color="#898989"/><stop offset=".103" stop-color="#9d9d9d"/><stop offset=".106" stop-color="#b2b2b2"/><stop offset=".1085" stop-color="#c2c2c2"/><stop offset=".111" stop-color="#cecece"/><stop offset=".1135" stop-color="#d8d8d8"/><stop offset=".116" stop-color="#dddddd"/><stop offset=".1185" stop-color="#dfdfdf"/><stop offset=".121" stop-color="#dddddd"/><stop offset=".1225" stop-color="#dadada"/><stop offset=".124" stop-color="#d6d6d6"/><stop offset=".1265" stop-color="#cccccc"/><stop offset=".128" stop-color="#c5c5c5"/><stop offset=".1295" stop-color="#bcbcbc"/><stop offset=".132" stop-color="#acacac"/><stop offset=".1345" stop-color="#9a9a9a"/><stop offset=".137" stop-color="#878787"/><stop offset=".143" stop-color="#585858"/><stop offset=".1465" stop-color="#3d3d3d"/><stop offset=".1485" stop-color="#303030"/><stop offset=".15" stop-color="#262626"/><stop offset=".1515" stop-color="#1e1e1e"/><stop offset=".153" stop-color="#161616"/><stop offset=".1545" stop-color="#101010"/><stop offset=".156" stop-color="#0a0a0a"/><stop offset=".1575" stop-color="#060606"/><stop offset=".159" stop-color="#030303"/><stop offset=".1605" stop-color="#010101"/><stop offset=".162" stop-color="#000000"/><stop offset=".1645" stop-color="#010101"/><stop offset=".166" stop-color="#040404"/><stop offset=".1675" stop-color="#080808"/><stop offset=".169" stop-color="#0d0d0d"/><stop offset=".1705" stop-color="#131313"/><stop offset=".172" stop-color="#1a1a1a"/><stop offset=".1735" stop-color="#222222"/><stop offset=".175" stop-color="#2b2b2b"/><stop offset=".177" stop-color="#383838"/><stop offset=".18" stop-color="#4f4f4f"/><stop offset=".183" stop-color="#676767"/><stop offset=".1925" stop-color="#bbbbbb"/><stop offset=".196" stop-color="#d9d9d9"/><stop offset=".1995" stop-color="#f5f5f5"/><stop offset=".2005" stop-color="#fdfdfd"/><stop offset=".201" stop-color="#ffffff"/><stop offset=".245" stop-color="#ffffff"/><stop offset=".2605" stop-color="#aaaaaa"/><stop offset=".2645" stop-color="#959595"/><stop offset=".2685" stop-color="#828282"/><stop offset=".273" stop-color="#6e6e6e"/><stop offset=".2775" stop-color="#5c5c5c"/><stop offset=".2815" stop-color="#4d4d4d"/><stop offset=".286" stop-color="#3f3f3f"/><stop offset=".2905" stop-color="#333333"/><stop offset=".2955" stop-color="#282828"/><stop offset=".3005" stop-color="#1f1f1f"/><stop offset=".306" stop-color="#171717"/><stop offset=".3115" stop-color="#101010"/><stop offset=".3175" stop-color="#0b0b0b"/><stop offset=".324" stop-color="#080808"/><stop offset=".3315" stop-color="#050505"/><stop offset=".34" stop-color="#030303"/><stop offset=".3505" stop-color="#010101"/><stop offset=".383" stop-color="#000000"/><stop offset="1" stop-color="#000000"/></linearGradient>
<linearGradient id="g59" gradientUnits="userSpaceOnUse" x1="0" y1="0" x2="0" y2="-296.750" spreadMethod="reflect"><stop offset="0" stop-color="#000000"/><stop offset=".002" stop-color="#020202"/><stop offset=".004" stop-color="#060606"/><stop offset=".006" stop-color="#0e0e0e"/><stop offset=".008" stop-color="#191919"/><stop offset=".01" stop-color="#262626"/><stop offset=".0125" stop-color="#393939"/><stop offset=".015" stop-color="#4f4f4f"/><stop offset=".0205" stop-color="#818181"/><stop offset=".0225" stop-color="#939393"/><stop offset=".025" stop-color="#a7a7a7"/><stop offset=".027" stop-color="#b5b5b5"/><stop offset=".0285" stop-color="#bfbfbf"/><stop offset=".0295" stop-color="#c4c4c4"/><stop offset=".0315" stop-color="#cdcdcd"/><stop offset=".033" stop-color="#d2d2d2"/><stop offset=".034" stop-color="#d4d4d4"/><stop offset=".036" stop-color="#d6d6d6"/><stop offset=".038" stop-color="#d4d4d4"/><stop offset=".039" stop-color="#d3d3d3"/><stop offset=".0405" stop-color="#cfcfcf"/><stop offset=".0415" stop-color="#cbcbcb"/><stop offset=".043" stop-color="#c4c4c4"/><stop offset=".0455" stop-color="#b5b5b5"/><stop offset=".0475" stop-color="#a7a7a7"/><stop offset=".05" stop-color="#939393"/><stop offset=".052" stop-color="#828282"/><stop offset=".0575" stop-color="#505050"/><stop offset=".0605" stop-color="#373737"/><stop offset=".063" stop-color="#242424"/><stop offset=".0655" stop-color="#151515"/><stop offset=".067" stop-color="#0d0d0d"/><stop offset=".068" stop-color="#090909"/><stop offset=".0695" stop-color="#050505"/><stop offset=".0705" stop-color="#020202"/><stop offset=".072" stop-color="#000000"/><stop offset=".073" stop-color="#000000"/><stop offset=".074" stop-color="#000000"/><stop offset=".0755" stop-color="#030303"/><stop offset=".0775" stop-color="#080808"/><stop offset=".0795" stop-color="#101010"/><stop offset=".0815" stop-color="#1b1b1b"/><stop offset=".084" stop-color="#2c2c2c"/><stop offset=".086" stop-color="#3c3c3c"/><stop offset=".088" stop-color="#4d4d4d"/><stop offset=".095" stop-color="#8e8e8e"/><stop offset=".0975" stop-color="#a4a4a4"/><stop offset=".1" stop-color="#b9b9b9"/><stop offset=".1025" stop-color="#cacaca"/><stop offset=".105" stop-color="#d9d9d9"/><stop offset=".1065" stop-color="#e0e0e0"/><stop offset=".1075" stop-color="#e3e3e3"/><stop offset=".109" stop-color="#e8e8e8"/><stop offset=".11" stop-color="#eaeaea"/><stop offset=".112" stop-color="#ebebeb"/><stop offset=".113" stop-color="#ebebeb"/><stop offset=".1145" stop-color="#e9e9e9"/><stop offset=".1155" stop-color="#e8e8e8"/><stop offset=".117" stop-color="#e3e3e3"/><stop offset=".118" stop-color="#e0e0e0"/><stop offset=".1195" stop-color="#d9d9d9"/><stop offset=".121" stop-color="#d1d1d1"/><stop offset=".1225" stop-color="#c8c8c8"/><stop offset=".125" stop-color="#b7b7b7"/><stop offset=".1275" stop-color="#a3a3a3"/><stop offset=".13" stop-color="#8d8d8d"/><stop offset=".136" stop-color="#585858"/><stop offset=".139" stop-color="#404040"/><stop offset=".142" stop-color="#2a2a2a"/><stop offset=".1435" stop-color="#202020"/><stop offset=".145" stop-color="#181818"/><stop offset=".1465" stop-color="#101010"/><stop offset=".148" stop-color="#0a0a0a"/><stop offset=".1495" stop-color="#060606"/><stop offset=".1505" stop-color="#030303"/><stop offset=".152" stop-color="#010101"/><stop offset=".1535" stop-color="#000000"/><stop offset=".1545" stop-color="#000000"/><stop offset=".156" stop-color="#020202"/><stop offset=".157" stop-color="#030303"/><stop offset=".1585" stop-color="#070707"/><stop offset=".16" stop-color="#0d0d0d"/><stop offset=".1615" stop-color="#131313"/><stop offset=".163" stop-color="#1b1b1b"/><stop offset=".1645" stop-color="#242424"/><stop offset=".166" stop-color="#2e2e2e"/><stop offset=".1675" stop-color="#393939"/><stop offset=".17" stop-color="#4e4e4e"/><stop offset=".173" stop-color="#696969"/><stop offset=".176" stop-color="#868686"/><stop offset=".1825" stop-color="#c6c6c6"/><stop offset=".186" stop-color="#e7e7e7"/><stop offset=".1885" stop-color="#fefefe"/><stop offset=".189" stop-color="#ffffff"/><stop offset=".2345" stop-color="#ffffff"/><stop offset=".248" stop-color="#adadad"/><stop offset=".252" stop-color="#969696"/><stop offset=".256" stop-color="#818181"/><stop offset=".26" stop-color="#6e6e6e"/><stop offset=".264" stop-color="#5c5c5c"/><stop offset=".268" stop-color="#4d4d4d"/><stop offset=".2725" stop-color="#3e3e3e"/><stop offset=".277" stop-color="#313131"/><stop offset=".2815" stop-color="#272727"/><stop offset=".2865" stop-color="#1d1d1d"/><stop offset=".2915" stop-color="#161616"/><stop offset=".297" stop-color="#101010"/><stop offset=".3025" stop-color="#0b0b0b"/><stop offset=".309" stop-color="#070707"/><stop offset=".316" stop-color="#040404"/><stop offset=".3245" stop-color="#020202"/><stop offset=".3345" stop-color="#010101"/><stop offset=".3655" stop-color="#000000"/><stop offset="1" stop-color="#000000"/></linearGradient>
<linearGradient id="g60" gradientUnits="userSpaceOnUse" x1="0" y1="0" x2="0" y2="-296.750" spreadMethod="reflect"><stop offset="0" stop-color="#000000"/><stop offset=".0015" stop-color="#010101"/><stop offset=".0025" stop-color="#030303"/><stop offset=".0035" stop-color="#060606"/><stop offset=".0055" stop-color="#0e0e0e"/><stop offset=".0075" stop-color="#1a1a1a"/><stop offset=".0095" stop-color="#282828"/><stop offset=".012" stop-color="#3e3e3e"/><stop offset=".0145" stop-color="#565656"/><stop offset=".0195" stop-color="#8a8a8a"/><stop offset=".0215" stop-color="#9d9d9d"/><stop offset=".0235" stop-color="#afafaf"/><stop offset=".0255" stop-color="#bfbfbf"/><stop offset=".027" stop-color="#cacaca"/><stop offset=".028" stop-color="#d0d0d0"/><stop offset=".03" stop-color="#d9d9d9"/><stop offset=".032" stop-color="#dfdfdf"/><stop offset=".033" stop-color="#e1e1e1"/><stop offset=".034" stop-color="#e2e2e2"/><stop offset=".035" stop-color="#e2e2e2"/><stop offset=".036" stop-color="#e0e0e0"/><stop offset=".037" stop-color="#dedede"/><stop offset=".0385" stop-color="#dadada"/><stop offset=".0405" stop-color="#d0d0d0"/><stop offset=".0415" stop-color="#cacaca"/><stop offset=".043" stop-color="#c0c0c0"/><stop offset=".045" stop-color="#b0b0b0"/><stop offset=".047" stop-color="#9e9e9e"/><stop offset=".049" stop-color="#8b8b8b"/><stop offset=".0545" stop-color="#535353"/><stop offset=".057" stop-color="#3c3c3c"/><stop offset=".0595" stop-color="#272727"/><stop offset=".061" stop-color="#1c1c1c"/><stop offset=".062" stop-color="#161616"/><stop offset=".0635" stop-color="#0d0d0d"/><stop offset=".0645" stop-color="#090909"/><stop offset=".066" stop-color="#040404"/><stop offset=".067" stop-color="#020202"/><stop offset=".069" stop-color="#000000"/><stop offset=".07" stop-color="#000000"/><stop offset=".0715" stop-color="#030303"/><stop offset=".0735" stop-color="#090909"/><stop offset=".0755" stop-color="#131313"/><stop offset=".0775" stop-color="#202020"/><stop offset=".0795" stop-color="#2f2f2f"/><stop offset=".0815" stop-color="#414141"/><stop offset=".0835" stop-color="#545454"/><stop offset=".09" stop-color="#989898"/><stop offset=".0925" stop-color="#b0b0b0"/><stop offset=".095" stop-color="#c7c7c7"/><stop offset=".097" stop-color="#d6d6d6"/><stop offset=".0985" stop-color="#e0e0e0"/><stop offset=".0995" stop-color="#e6e6e6"/><stop offset=".1015" stop-color="#f0f0f0"/><stop offset=".103" stop-color="#f5f5f5"/><stop offset=".104" stop-color="#f7f7f7"/><stop offset=".106" stop-color="#f9f9f9"/><stop offset=".107" stop-color="#f8f8f8"/><stop offset=".1085" stop-color="#f6f6f6"/><stop offset=".1095" stop-color="#f4f4f4"/><stop offset=".111" stop-color="#efefef"/><stop offset=".112" stop-color="#ebebeb"/><stop offset=".1135" stop-color="#e3e3e3"/><stop offset=".1145" stop-color="#dddddd"/><stop offset=".116" stop-color="#d3d3d3"/><stop offset=".118" stop-color="#c3c3c3"/><stop offset=".1205" stop-color="#adadad"/><stop offset=".123" stop-color="#959595"/><stop offset=".1285" stop-color="#5f5f5f"/><stop offset=".1315" stop-color="#434343"/><stop offset=".133" stop-color="#363636"/><stop offset=".1345" stop-color="#2b2b2b"/><stop offset=".137" stop-color="#1a1a1a"/><stop offset=".1385" stop-color="#121212"/><stop offset=".14" stop-color="#0b0b0b"/><stop offset=".1415" stop-color="#060606"/><stop offset=".1425" stop-color="#030303"/><stop offset=".144" stop-color="#010101"/><stop offset=".145" stop-color="#000000"/><stop offset=".146" stop-color="#000000"/><stop offset=".1475" stop-color="#020202"/><stop offset=".1485" stop-color="#040404"/><stop offset=".15" stop-color="#080808"/><stop offset=".1515" stop-color="#0e0e0e"/><stop offset=".153" stop-color="#161616"/><stop offset=".154" stop-color="#1b1b1b"/><stop offset=".1555" stop-color="#252525"/><stop offset=".157" stop-color="#313131"/><stop offset=".1585" stop-color="#3d3d3d"/><stop offset=".161" stop-color="#545454"/><stop offset=".1635" stop-color="#6d6d6d"/><stop offset=".1665" stop-color="#8d8d8d"/><stop offset=".1735" stop-color="#dbdbdb"/><stop offset=".176" stop-color="#f5f5f5"/><stop offset=".177" stop-color="#ffffff"/><stop offset=".224" stop-color="#ffffff"/><stop offset=".231" stop-color="#cfcfcf"/><stop offset=".235" stop-color="#b4b4b4"/><stop offset=".239" stop-color="#9b9b9b"/><stop offset=".243" stop-color="#848484"/><stop offset=".247" stop-color="#6f6f6f"/><stop offset=".251" stop-color="#5c5c5c"/><stop offset=".255" stop-color="#4c4c4c"/><stop offset=".259" stop-color="#3d3d3d"/><stop offset=".263" stop-color="#313131"/><stop offset=".2675" stop-color="#262626"/><stop offset=".272" stop-color="#1d1d1d"/><stop offset=".277" stop-color="#151515"/><stop offset=".282" stop-color="#0f0f0f"/><stop offset=".2875" stop-color="#0a0a0a"/><stop offset=".2935" stop-color="#070707"/><stop offset=".3005" stop-color="#040404"/><stop offset=".3085" stop-color="#020202"/><stop offset=".318" stop-color="#010101"/><stop offset=".3475" stop-color="#000000"/><stop offset="1" stop-color="#000000"/></linearGradient>
<linearGradient id="g61" gradientUnits="userSpaceOnUse" x1="0" y1="0" x2="0" y2="-296.750" spreadMethod="reflect"><stop offset="0" stop-color="#000000"/><stop offset=".001" stop-color="#010101"/><stop offset=".002" stop-color="#020202"/><stop offset=".003" stop-color="#050505"/><stop offset=".004" stop-color="#090909"/><stop offset=".005" stop-color="#0e0e0e"/><stop offset=".006" stop-color="#141414"/><stop offset=".007" stop-color="#1b1b1b"/><stop offset=".0085" stop-color="#272727"/><stop offset=".0105" stop-color="#393939"/><stop offset=".0125" stop-color="#4e4e4e"/><stop offset=".0185" stop-color="#939393"/><stop offset=".021" stop-color="#aeaeae"/><stop offset=".023" stop-color="#c1c1c1"/><stop offset=".025" stop-color="#d2d2d2"/><stop offset=".026" stop-color="#d9d9d9"/><stop offset=".027" stop-color="#e0e0e0"/><stop offset=".028" stop-color="#e5e5e5"/><stop offset=".029" stop-color="#e9e9e9"/><stop offset=".03" stop-color="#ececec"/><stop offset=".031" stop-color="#eeeeee"/><stop offset=".0325" stop-color="#efefef"/><stop offset=".0335" stop-color="#efefef"/><stop offset=".0345" stop-color="#ededed"/><stop offset=".0355" stop-color="#eaeaea"/><stop offset=".0365" stop-color="#e6e6e6"/><stop offset=".0375" stop-color="#e1e1e1"/><stop offset=".0385" stop-color="#dbdbdb"/><stop offset=".0405" stop-color="#cccccc"/><stop offset=".0425" stop-color="#bbbbbb"/><stop offset=".0445" stop-color="#a6a6a6"/><stop offset=".0465" stop-color="#909090"/><stop offset=".0515" stop-color="#585858"/><stop offset=".054" stop-color="#3d3d3d"/><stop offset=".0555" stop-color="#2f2f2f"/><stop offset=".0565" stop-color="#262626"/><stop offset=".0585" stop-color="#171717"/><stop offset=".06" stop-color="#0e0e0e"/><stop offset=".061" stop-color="#090909"/><stop offset=".062" stop-color="#050505"/><stop offset=".063" stop-color="#020202"/><stop offset=".064" stop-color="#010101"/><stop offset=".065" stop-color="#000000"/><stop offset=".066" stop-color="#000000"/><stop offset=".0675" stop-color="#030303"/><stop offset=".069" stop-color="#080808"/><stop offset=".0705" stop-color="#0f0f0f"/><stop offset=".072" stop-color="#191919"/><stop offset=".074" stop-color="#282828"/><stop offset=".076" stop-color="#3b3b3b"/><stop offset=".078" stop-color="#505050"/><stop offset=".08" stop-color="#666666"/><stop offset=".086" stop-color="#acacac"/><stop offset=".088" stop-color="#c2c2c2"/><stop offset=".0895" stop-color="#d1d1d1"/><stop offset=".0915" stop-color="#e2e2e2"/><stop offset=".0935" stop-color="#f1f1f1"/><stop offset=".0955" stop-color="#fcfcfc"/><stop offset=".096" stop-color="#fefefe"/><stop offset=".0965" stop-color="#ffffff"/><stop offset=".104" stop-color="#ffffff"/><stop offset=".1045" stop-color="#ffffff"/><stop offset=".1055" stop-color="#fafafa"/><stop offset=".107" stop-color="#f1f1f1"/><stop offset=".108" stop-color="#ebebeb"/><stop offset=".1095" stop-color="#dfdfdf"/><stop offset=".111" stop-color="#d2d2d2"/><stop offset=".1125" stop-color="#c4c4c4"/><stop offset=".115" stop-color="#aaaaaa"/><stop offset=".1205" stop-color="#6d6d6d"/><stop offset=".123" stop-color="#535353"/><stop offset=".1255" stop-color="#3a3a3a"/><stop offset=".1275" stop-color="#292929"/><stop offset=".129" stop-color="#1e1e1e"/><stop offset=".13" stop-color="#171717"/><stop offset=".1315" stop-color="#0f0f0f"/><stop offset=".1325" stop-color="#0a0a0a"/><stop offset=".134" stop-color="#050505"/><stop offset=".135" stop-color="#020202"/><stop offset=".137" stop-color="#000000"/><stop offset=".138" stop-color="#000000"/><stop offset=".1395" stop-color="#020202"/><stop offset=".141" stop-color="#060606"/><stop offset=".1425" stop-color="#0c0c0c"/><stop offset=".1435" stop-color="#111111"/><stop offset=".145" stop-color="#1a1a1a"/><stop offset=".1465" stop-color="#252525"/><stop offset=".148" stop-color="#313131"/><stop offset=".1505" stop-color="#494949"/><stop offset=".152" stop-color="#595959"/><stop offset=".1535" stop-color="#6a6a6a"/><stop offset=".1565" stop-color="#8d8d8d"/><stop offset=".1645" stop-color="#f0f0f0"/><stop offset=".1655" stop-color="#fcfcfc"/><stop offset=".166" stop-color="#ffffff"/><stop offset=".213" stop-color="#ffffff"/><stop offset=".2135" stop-color="#ffffff"/><stop offset=".219" stop-color="#d4d4d4"/><stop offset=".2235" stop-color="#b3b3b3"/><stop offset=".2275" stop-color="#989898"/><stop offset=".231" stop-color="#828282"/><stop offset=".2345" stop-color="#6e6e6e"/><stop offset=".238" stop-color="#5d5d5d"/><stop offset=".2415" stop-color="#4d4d4d"/><stop offset=".2455" stop-color="#3e3e3e"/><stop offset=".2495" stop-color="#313131"/><stop offset=".2535" stop-color="#262626"/><stop offset=".2575" stop-color="#1e1e1e"/><stop offset=".262" stop-color="#161616"/><stop offset=".267" stop-color="#0f0f0f"/><stop offset=".272" stop-color="#0b0b0b"/><stop offset=".278" stop-color="#070707"/><stop offset=".2845" stop-color="#040404"/><stop offset=".292" stop-color="#020202"/><stop offset=".301" stop-color="#010101"/><stop offset=".3295" stop-color="#000000"/><stop offset="1" stop-color="#000000"/></linearGradient>
<linearGradient id="g62" gradientUnits="userSpaceOnUse" x1="0" y1="0" x2="0" y2="-296.750" spreadMethod="reflect"><stop offset="0" stop-color="#000000"/><stop offset=".001" stop-color="#010101"/><stop offset=".002" stop-color="#030303"/><stop offset=".003" stop-color="#060606"/><stop offset=".004" stop-color="#0b0b0b"/><stop offset=".005" stop-color="#111111"/><stop offset=".006" stop-color="#181818"/><stop offset=".007" stop-color="#202020"/><stop offset=".008" stop-color="#292929"/><stop offset=".0095" stop-color="#383838"/><stop offset=".0115" stop-color="#4f4f4f"/><stop offset=".0135" stop-color="#686868"/><stop offset=".0175" stop-color="#9c9c9c"/><stop offset=".02" stop-color="#bbbbbb"/><stop offset=".022" stop-color="#d0d0d0"/><stop offset=".023" stop-color="#dadada"/><stop offset=".024" stop-color="#e3e3e3"/><stop offset=".025" stop-color="#eaeaea"/><stop offset=".026" stop-color="#f1f1f1"/><stop offset=".0275" stop-color="#f8f8f8"/><stop offset=".029" stop-color="#fcfcfc"/><stop offset=".0305" stop-color="#fefefe"/><stop offset=".0315" stop-color="#fdfdfd"/><stop offset=".0325" stop-color="#fbfbfb"/><stop offset=".0335" stop-color="#f8f8f8"/><stop offset=".0345" stop-color="#f3f3f3"/><stop offset=".0355" stop-color="#eeeeee"/><stop offset=".0365" stop-color="#e7e7e7"/><stop offset=".0375" stop-color="#dfdfdf"/><stop offset=".0385" stop-color="#d6d6d6"/><stop offset=".04" stop-color="#c7c7c7"/><stop offset=".042" stop-color="#b0b0b0"/><stop offset=".044" stop-color="#979797"/><stop offset=".0485" stop-color="#5e5e5e"/><stop offset=".0505" stop-color="#464646"/><stop offset=".052" stop-color="#353535"/><stop offset=".053" stop-color="#2b2b2b"/><stop offset=".054" stop-color="#222222"/><stop offset=".055" stop-color="#1a1a1a"/><stop offset=".0565" stop-color="#0f0f0f"/><stop offset=".0575" stop-color="#0a0a0a"/><stop offset=".0585" stop-color="#050505"/><stop offset=".0595" stop-color="#020202"/><stop offset=".0605" stop-color="#010101"/><stop offset=".0615" stop-color="#000000"/><stop offset=".0625" stop-color="#010101"/><stop offset=".0635" stop-color="#030303"/><stop offset=".065" stop-color="#080808"/><stop offset=".0665" stop-color="#111111"/><stop offset=".068" stop-color="#1b1b1b"/><stop offset=".069" stop-color="#242424"/><stop offset=".07" stop-color="#2d2d2d"/><stop offset=".0715" stop-color="#3d3d3d"/><stop offset=".0735" stop-color="#545454"/><stop offset=".0755" stop-color="#6e6e6e"/><stop offset=".0805" stop-color="#b0b0b0"/><stop offset=".082" stop-color="#c2c2c2"/><stop offset=".0835" stop-color="#d4d4d4"/><stop offset=".0855" stop-color="#e9e9e9"/><stop offset=".087" stop-color="#f7f7f7"/><stop offset=".088" stop-color="#ffffff"/><stop offset=".0885" stop-color="#ffffff"/><stop offset=".101" stop-color="#ffffff"/><stop offset=".102" stop-color="#f7f7f7"/><stop offset=".1035" stop-color="#eaeaea"/><stop offset=".1045" stop-color="#e0e0e0"/><stop offset=".106" stop-color="#d0d0d0"/><stop offset=".1085" stop-color="#b3b3b3"/><stop offset=".114" stop-color="#6f6f6f"/><stop offset=".116" stop-color="#575757"/><stop offset=".118" stop-color="#414141"/><stop offset=".12" stop-color="#2d2d2d"/><stop offset=".1215" stop-color="#202020"/><stop offset=".1225" stop-color="#191919"/><stop offset=".1235" stop-color="#121212"/><stop offset=".1245" stop-color="#0d0d0d"/><stop offset=".126" stop-color="#060606"/><stop offset=".127" stop-color="#030303"/><stop offset=".128" stop-color="#010101"/><stop offset=".129" stop-color="#000000"/><stop offset=".13" stop-color="#000000"/><stop offset=".1315" stop-color="#020202"/><stop offset=".1325" stop-color="#050505"/><stop offset=".134" stop-color="#0b0b0b"/><stop offset=".135" stop-color="#111111"/><stop offset=".1365" stop-color="#1b1b1b"/><stop offset=".138" stop-color="#272727"/><stop offset=".1395" stop-color="#343434"/><stop offset=".1405" stop-color="#3f3f3f"/><stop offset=".142" stop-color="#4f4f4f"/><stop offset=".1435" stop-color="#616161"/><stop offset=".145" stop-color="#747474"/><stop offset=".1475" stop-color="#969696"/><stop offset=".155" stop-color="#fefefe"/><stop offset=".1555" stop-color="#ffffff"/><stop offset=".2025" stop-color="#ffffff"/><stop offset=".203" stop-color="#ffffff"/><stop offset=".2075" stop-color="#d8d8d8"/><stop offset=".2115" stop-color="#b7b7b7"/><stop offset=".2155" stop-color="#999999"/><stop offset=".219" stop-color="#828282"/><stop offset=".222" stop-color="#6f6f6f"/><stop offset=".2255" stop-color="#5c5c5c"/><stop offset=".229" stop-color="#4b4b4b"/><stop offset=".2325" stop-color="#3d3d3d"/><stop offset=".236" stop-color="#313131"/><stop offset=".24" stop-color="#262626"/><stop offset=".244" stop-color="#1d1d1d"/><stop offset=".2485" stop-color="#151515"/><stop offset=".253" stop-color="#0f0f0f"/><stop offset=".258" stop-color="#0a0a0a"/><stop offset=".2635" stop-color="#060606"/><stop offset=".27" stop-color="#040404"/><stop offset=".2855" stop-color="#010101"/><stop offset=".313" stop-color="#000000"/><stop offset="1" stop-color="#000000"/></linearGradient>
<linearGradient id="g63" gradientUnits="userSpaceOnUse" x1="0" y1="0" x2="0" y2="-296.750" spreadMethod="reflect"><stop offset="0" stop-color="#000000"/><stop offset=".0015" stop-color="#020202"/><stop offset=".0025" stop-color="#050505"/><stop offset=".0035" stop-color="#0a0a0a"/><stop offset=".005" stop-color="#141414"/><stop offset=".006" stop-color="#1c1c1c"/><stop offset=".007" stop-color="#262626"/><stop offset=".0085" stop-color="#363636"/><stop offset=".0105" stop-color="#505050"/><stop offset=".0125" stop-color="#6c6c6c"/><stop offset=".017" stop-color="#aeaeae"/><stop offset=".0185" stop-color="#c2c2c2"/><stop offset=".0195" stop-color="#cfcfcf"/><stop offset=".021" stop-color="#e1e1e1"/><stop offset=".022" stop-color="#ebebeb"/><stop offset=".0235" stop-color="#f8f8f8"/><stop offset=".024" stop-color="#fcfcfc"/><stop offset=".0245" stop-color="#ffffff"/><stop offset=".033" stop-color="#ffffff"/><stop offset=".034" stop-color="#f8f8f8"/><stop offset=".035" stop-color="#efefef"/><stop offset=".036" stop-color="#e6e6e6"/><stop offset=".037" stop-color="#dbdbdb"/><stop offset=".0385" stop-color="#c8c8c8"/><stop offset=".041" stop-color="#a7a7a7"/><stop offset=".045" stop-color="#6d6d6d"/><stop offset=".0465" stop-color="#585858"/><stop offset=".0485" stop-color="#3e3e3e"/><stop offset=".05" stop-color="#2d2d2d"/><stop offset=".051" stop-color="#222222"/><stop offset=".052" stop-color="#191919"/><stop offset=".053" stop-color="#111111"/><stop offset=".054" stop-color="#0b0b0b"/><stop offset=".055" stop-color="#060606"/><stop offset=".056" stop-color="#020202"/><stop offset=".0575" stop-color="#000000"/><stop offset=".0585" stop-color="#000000"/><stop offset=".0595" stop-color="#020202"/><stop offset=".0605" stop-color="#060606"/><stop offset=".0615" stop-color="#0b0b0b"/><stop offset=".0625" stop-color="#111111"/><stop offset=".0635" stop-color="#191919"/><stop offset=".0645" stop-color="#222222"/><stop offset=".0655" stop-color="#2c2c2c"/><stop offset=".0665" stop-color="#373737"/><stop offset=".0675" stop-color="#434343"/><stop offset=".0695" stop-color="#5e5e5e"/><stop offset=".0715" stop-color="#7b7b7b"/><stop offset=".0755" stop-color="#b6b6b6"/><stop offset=".078" stop-color="#d9d9d9"/><stop offset=".0795" stop-color="#ececec"/><stop offset=".0805" stop-color="#f8f8f8"/><stop offset=".081" stop-color="#fdfdfd"/><stop offset=".0815" stop-color="#ffffff"/><stop offset=".0965" stop-color="#ffffff"/><stop offset=".097" stop-color="#fdfdfd"/><stop offset=".0985" stop-color="#ededed"/><stop offset=".1005" stop-color="#d4d4d4"/><stop offset=".1025" stop-color="#bababa"/><stop offset=".107" stop-color="#7a7a7a"/><stop offset=".109" stop-color="#5f5f5f"/><stop offset=".111" stop-color="#464646"/><stop offset=".113" stop-color="#303030"/><stop offset=".1145" stop-color="#212121"/><stop offset=".1155" stop-color="#191919"/><stop offset=".1165" stop-color="#121212"/><stop offset=".1175" stop-color="#0c0c0c"/><stop offset=".119" stop-color="#050505"/><stop offset=".12" stop-color="#020202"/><stop offset=".121" stop-color="#000000"/><stop offset=".122" stop-color="#000000"/><stop offset=".123" stop-color="#010101"/><stop offset=".124" stop-color="#030303"/><stop offset=".125" stop-color="#070707"/><stop offset=".1265" stop-color="#0e0e0e"/><stop offset=".1275" stop-color="#151515"/><stop offset=".129" stop-color="#212121"/><stop offset=".13" stop-color="#2a2a2a"/><stop offset=".1315" stop-color="#3a3a3a"/><stop offset=".1325" stop-color="#454545"/><stop offset=".134" stop-color="#585858"/><stop offset=".1365" stop-color="#7b7b7b"/><stop offset=".139" stop-color="#a1a1a1"/><stop offset=".1445" stop-color="#f8f8f8"/><stop offset=".145" stop-color="#ffffff"/><stop offset=".1925" stop-color="#ffffff"/><stop offset=".193" stop-color="#fcfcfc"/><stop offset=".1975" stop-color="#d1d1d1"/><stop offset=".201" stop-color="#b3b3b3"/><stop offset=".204" stop-color="#9a9a9a"/><stop offset=".207" stop-color="#848484"/><stop offset=".21" stop-color="#707070"/><stop offset=".2135" stop-color="#5b5b5b"/><stop offset=".2165" stop-color="#4c4c4c"/><stop offset=".22" stop-color="#3c3c3c"/><stop offset=".2235" stop-color="#303030"/><stop offset=".227" stop-color="#252525"/><stop offset=".231" stop-color="#1c1c1c"/><stop offset=".235" stop-color="#141414"/><stop offset=".2395" stop-color="#0e0e0e"/><stop offset=".244" stop-color="#0a0a0a"/><stop offset=".2495" stop-color="#060606"/><stop offset=".2555" stop-color="#030303"/><stop offset=".27" stop-color="#010101"/><stop offset=".2965" stop-color="#000000"/><stop offset="1" stop-color="#000000"/></linearGradient>
<linearGradient id="g64" gradientUnits="userSpaceOnUse" x1="0" y1="0" x2="0" y2="-296.750" spreadMethod="reflect"><stop offset="0" stop-color="#000000"/><stop offset=".0005" stop-color="#000000"/><stop offset=".0015" stop-color="#020202"/><stop offset=".0025" stop-color="#060606"/><stop offset=".0035" stop-color="#0c0c0c"/><stop offset=".005" stop-color="#181818"/><stop offset=".006" stop-color="#222222"/><stop offset=".007" stop-color="#2d2d2d"/><stop offset=".0085" stop-color="#414141"/><stop offset=".01" stop-color="#575757"/><stop offset=".0115" stop-color="#6e6e6e"/><stop offset=".016" stop-color="#b9b9b9"/><stop offset=".018" stop-color="#d7d7d7"/><stop offset=".0195" stop-color="#ebebeb"/><stop offset=".0205" stop-color="#f8f8f8"/><stop offset=".021" stop-color="#fdfdfd"/><stop offset=".0215" stop-color="#ffffff"/><stop offset=".0325" stop-color="#ffffff"/><stop offset=".033" stop-color="#fefefe"/><stop offset=".0345" stop-color="#ececec"/><stop offset=".0355" stop-color="#dfdfdf"/><stop offset=".0365" stop-color="#d1d1d1"/><stop offset=".0385" stop-color="#b2b2b2"/><stop offset=".0425" stop-color="#717171"/><stop offset=".044" stop-color="#5a5a5a"/><stop offset=".0455" stop-color="#444444"/><stop offset=".047" stop-color="#303030"/><stop offset=".048" stop-color="#242424"/><stop offset=".049" stop-color="#1a1a1a"/><stop offset=".0505" stop-color="#0e0e0e"/><stop offset=".0515" stop-color="#080808"/><stop offset=".0525" stop-color="#030303"/><stop offset=".0535" stop-color="#010101"/><stop offset=".054" stop-color="#000000"/><stop offset=".0545" stop-color="#000000"/><stop offset=".0555" stop-color="#010101"/><stop offset=".0565" stop-color="#040404"/><stop offset=".0575" stop-color="#090909"/><stop offset=".0585" stop-color="#101010"/><stop offset=".0595" stop-color="#181818"/><stop offset=".0605" stop-color="#222222"/><stop offset=".0615" stop-color="#2d2d2d"/><stop offset=".063" stop-color="#404040"/><stop offset=".065" stop-color="#5e5e5e"/><stop offset=".067" stop-color="#7e7e7e"/><stop offset=".0715" stop-color="#c9c9c9"/><stop offset=".0735" stop-color="#e8e8e8"/><stop offset=".075" stop-color="#fefefe"/><stop offset=".0755" stop-color="#ffffff"/><stop offset=".092" stop-color="#ffffff"/><stop offset=".0925" stop-color="#fefefe"/><stop offset=".094" stop-color="#eaeaea"/><stop offset=".0955" stop-color="#d4d4d4"/><stop offset=".101" stop-color="#7d7d7d"/><stop offset=".103" stop-color="#5f5f5f"/><stop offset=".105" stop-color="#434343"/><stop offset=".1065" stop-color="#313131"/><stop offset=".1075" stop-color="#262626"/><stop offset=".1085" stop-color="#1c1c1c"/><stop offset=".1095" stop-color="#141414"/><stop offset=".1105" stop-color="#0d0d0d"/><stop offset=".1115" stop-color="#070707"/><stop offset=".1125" stop-color="#030303"/><stop offset=".1135" stop-color="#010101"/><stop offset=".1145" stop-color="#000000"/><stop offset=".1155" stop-color="#010101"/><stop offset=".1165" stop-color="#030303"/><stop offset=".1175" stop-color="#060606"/><stop offset=".119" stop-color="#0f0f0f"/><stop offset=".12" stop-color="#161616"/><stop offset=".121" stop-color="#1f1f1f"/><stop offset=".122" stop-color="#292929"/><stop offset=".1235" stop-color="#3a3a3a"/><stop offset=".1245" stop-color="#474747"/><stop offset=".1255" stop-color="#555555"/><stop offset=".1265" stop-color="#646464"/><stop offset=".128" stop-color="#7c7c7c"/><stop offset=".1305" stop-color="#a6a6a6"/><stop offset=".135" stop-color="#f7f7f7"/><stop offset=".1355" stop-color="#ffffff"/><stop offset=".1825" stop-color="#ffffff"/><stop offset=".183" stop-color="#fdfdfd"/><stop offset=".187" stop-color="#d3d3d3"/><stop offset=".1905" stop-color="#b1b1b1"/><stop offset=".1935" stop-color="#969696"/><stop offset=".196" stop-color="#828282"/><stop offset=".199" stop-color="#6d6d6d"/><stop offset=".202" stop-color="#5a5a5a"/><stop offset=".205" stop-color="#4a4a4a"/><stop offset=".208" stop-color="#3c3c3c"/><stop offset=".211" stop-color="#303030"/><stop offset=".2145" stop-color="#252525"/><stop offset=".218" stop-color="#1c1c1c"/><stop offset=".222" stop-color="#141414"/><stop offset=".2265" stop-color="#0d0d0d"/><stop offset=".231" stop-color="#090909"/><stop offset=".236" stop-color="#060606"/><stop offset=".242" stop-color="#030303"/><stop offset=".2555" stop-color="#010101"/><stop offset=".2805" stop-color="#000000"/><stop offset="1" stop-color="#000000"/></linearGradient>
<linearGradient id="g65" gradientUnits="userSpaceOnUse" x1="0" y1="0" x2="0" y2="-296.750" spreadMethod="reflect"><stop offset="0" stop-color="#000000"/><stop offset=".0005" stop-color="#000000"/><stop offset=".0015" stop-color="#030303"/><stop offset=".002" stop-color="#050505"/><stop offset=".003" stop-color="#0a0a0a"/><stop offset=".0035" stop-color="#0e0e0e"/><stop offset=".0045" stop-color="#171717"/><stop offset=".0055" stop-color="#222222"/><stop offset=".0065" stop-color="#2f2f2f"/><stop offset=".008" stop-color="#454545"/><stop offset=".0095" stop-color="#5e5e5e"/><stop offset=".011" stop-color="#797979"/><stop offset=".0145" stop-color="#bababa"/><stop offset=".0165" stop-color="#dddddd"/><stop offset=".0175" stop-color="#ededed"/><stop offset=".0185" stop-color="#fcfcfc"/><stop offset=".019" stop-color="#ffffff"/><stop offset=".032" stop-color="#ffffff"/><stop offset=".0325" stop-color="#fbfbfb"/><stop offset=".0335" stop-color="#ececec"/><stop offset=".0345" stop-color="#dcdcdc"/><stop offset=".036" stop-color="#c2c2c2"/><stop offset=".04" stop-color="#787878"/><stop offset=".0415" stop-color="#5e5e5e"/><stop offset=".043" stop-color="#454545"/><stop offset=".0445" stop-color="#2f2f2f"/><stop offset=".0455" stop-color="#232323"/><stop offset=".0465" stop-color="#181818"/><stop offset=".0475" stop-color="#0f0f0f"/><stop offset=".048" stop-color="#0b0b0b"/><stop offset=".049" stop-color="#050505"/><stop offset=".0495" stop-color="#030303"/><stop offset=".0505" stop-color="#010101"/><stop offset=".051" stop-color="#000000"/><stop offset=".0515" stop-color="#000000"/><stop offset=".0525" stop-color="#020202"/><stop offset=".0535" stop-color="#060606"/><stop offset=".0545" stop-color="#0c0c0c"/><stop offset=".055" stop-color="#101010"/><stop offset=".056" stop-color="#191919"/><stop offset=".057" stop-color="#242424"/><stop offset=".058" stop-color="#313131"/><stop offset=".0595" stop-color="#474747"/><stop offset=".0605" stop-color="#585858"/><stop offset=".0615" stop-color="#696969"/><stop offset=".063" stop-color="#848484"/><stop offset=".067" stop-color="#d0d0d0"/><stop offset=".069" stop-color="#f4f4f4"/><stop offset=".0695" stop-color="#fcfcfc"/><stop offset=".07" stop-color="#ffffff"/><stop offset=".088" stop-color="#ffffff"/><stop offset=".0885" stop-color="#f8f8f8"/><stop offset=".09" stop-color="#dfdfdf"/><stop offset=".095" stop-color="#868686"/><stop offset=".097" stop-color="#646464"/><stop offset=".098" stop-color="#545454"/><stop offset=".099" stop-color="#454545"/><stop offset=".1005" stop-color="#313131"/><stop offset=".1015" stop-color="#252525"/><stop offset=".1025" stop-color="#1a1a1a"/><stop offset=".1035" stop-color="#121212"/><stop offset=".1045" stop-color="#0b0b0b"/><stop offset=".1055" stop-color="#050505"/><stop offset=".1065" stop-color="#020202"/><stop offset=".1075" stop-color="#000000"/><stop offset=".108" stop-color="#000000"/><stop offset=".109" stop-color="#010101"/><stop offset=".11" stop-color="#040404"/><stop offset=".111" stop-color="#090909"/><stop offset=".112" stop-color="#101010"/><stop offset=".113" stop-color="#181818"/><stop offset=".114" stop-color="#222222"/><stop offset=".115" stop-color="#2d2d2d"/><stop offset=".116" stop-color="#3a3a3a"/><stop offset=".117" stop-color="#494949"/><stop offset=".118" stop-color="#585858"/><stop offset=".119" stop-color="#696969"/><stop offset=".12" stop-color="#7b7b7b"/><stop offset=".121" stop-color="#8d8d8d"/><stop offset=".1225" stop-color="#aaaaaa"/><stop offset=".1265" stop-color="#fafafa"/><stop offset=".127" stop-color="#ffffff"/><stop offset=".173" stop-color="#ffffff"/><stop offset=".1735" stop-color="#fdfdfd"/><stop offset=".177" stop-color="#d5d5d5"/><stop offset=".179" stop-color="#bfbfbf"/><stop offset=".1805" stop-color="#b0b0b0"/><stop offset=".183" stop-color="#989898"/><stop offset=".1855" stop-color="#828282"/><stop offset=".188" stop-color="#6f6f6f"/><stop offset=".191" stop-color="#5a5a5a"/><stop offset=".194" stop-color="#494949"/><stop offset=".197" stop-color="#3a3a3a"/><stop offset=".2" stop-color="#2e2e2e"/><stop offset=".2035" stop-color="#222222"/><stop offset=".207" stop-color="#191919"/><stop offset=".2105" stop-color="#121212"/><stop offset=".2145" stop-color="#0d0d0d"/><stop offset=".2185" stop-color="#090909"/><stop offset=".2235" stop-color="#050505"/><stop offset=".229" stop-color="#030303"/><stop offset=".242" stop-color="#010101"/><stop offset=".2655" stop-color="#000000"/><stop offset="1" stop-color="#000000"/></linearGradient>
<linearGradient id="g66" gradientUnits="userSpaceOnUse" x1="0" y1="0" x2="0" y2="-296.750" spreadMethod="reflect"><stop offset="0" stop-color="#000000"/><stop offset=".0005" stop-color="#000000"/><stop offset=".0015" stop-color="#030303"/><stop offset=".002" stop-color="#060606"/><stop offset=".003" stop-color="#0c0c0c"/><stop offset=".0035" stop-color="#111111"/><stop offset=".0045" stop-color="#1b1b1b"/><stop offset=".005" stop-color="#222222"/><stop offset=".006" stop-color="#303030"/><stop offset=".0075" stop-color="#484848"/><stop offset=".009" stop-color="#646464"/><stop offset=".0105" stop-color="#828282"/><stop offset=".014" stop-color="#cccccc"/><stop offset=".0155" stop-color="#e9e9e9"/><stop offset=".0165" stop-color="#fcfcfc"/><stop offset=".017" stop-color="#ffffff"/><stop offset=".031" stop-color="#ffffff"/><stop offset=".0315" stop-color="#fcfcfc"/><stop offset=".0325" stop-color="#eaeaea"/><stop offset=".034" stop-color="#cccccc"/><stop offset=".0375" stop-color="#848484"/><stop offset=".039" stop-color="#666666"/><stop offset=".0405" stop-color="#4a4a4a"/><stop offset=".042" stop-color="#323232"/><stop offset=".043" stop-color="#242424"/><stop offset=".0435" stop-color="#1e1e1e"/><stop offset=".0445" stop-color="#131313"/><stop offset=".045" stop-color="#0e0e0e"/><stop offset=".046" stop-color="#070707"/><stop offset=".0465" stop-color="#040404"/><stop offset=".0475" stop-color="#010101"/><stop offset=".048" stop-color="#000000"/><stop offset=".0485" stop-color="#000000"/><stop offset=".0495" stop-color="#020202"/><stop offset=".05" stop-color="#040404"/><stop offset=".051" stop-color="#0a0a0a"/><stop offset=".0515" stop-color="#0e0e0e"/><stop offset=".0525" stop-color="#171717"/><stop offset=".0535" stop-color="#232323"/><stop offset=".0545" stop-color="#313131"/><stop offset=".056" stop-color="#494949"/><stop offset=".0575" stop-color="#656565"/><stop offset=".059" stop-color="#848484"/><stop offset=".0635" stop-color="#e3e3e3"/><stop offset=".0645" stop-color="#f7f7f7"/><stop offset=".065" stop-color="#ffffff"/><stop offset=".0835" stop-color="#ffffff"/><stop offset=".084" stop-color="#fdfdfd"/><stop offset=".0855" stop-color="#e1e1e1"/><stop offset=".0895" stop-color="#909090"/><stop offset=".091" stop-color="#737373"/><stop offset=".092" stop-color="#606060"/><stop offset=".093" stop-color="#4f4f4f"/><stop offset=".0945" stop-color="#383838"/><stop offset=".0955" stop-color="#2a2a2a"/><stop offset=".0965" stop-color="#1e1e1e"/><stop offset=".0975" stop-color="#141414"/><stop offset=".098" stop-color="#0f0f0f"/><stop offset=".099" stop-color="#080808"/><stop offset=".1" stop-color="#030303"/><stop offset=".101" stop-color="#010101"/><stop offset=".1015" stop-color="#000000"/><stop offset=".102" stop-color="#000000"/><stop offset=".103" stop-color="#020202"/><stop offset=".104" stop-color="#060606"/><stop offset=".105" stop-color="#0c0c0c"/><stop offset=".106" stop-color="#141414"/><stop offset=".107" stop-color="#1e1e1e"/><stop offset=".108" stop-color="#2a2a2a"/><stop offset=".109" stop-color="#383838"/><stop offset=".11" stop-color="#474747"/><stop offset=".111" stop-color="#595959"/><stop offset=".112" stop-color="#6b6b6b"/><stop offset=".113" stop-color="#7e7e7e"/><stop offset=".114" stop-color="#939393"/><stop offset=".1155" stop-color="#b3b3b3"/><stop offset=".1185" stop-color="#f7f7f7"/><stop offset=".119" stop-color="#ffffff"/><stop offset=".1645" stop-color="#ffffff"/><stop offset=".165" stop-color="#fafafa"/><stop offset=".168" stop-color="#d4d4d4"/><stop offset=".1705" stop-color="#b7b7b7"/><stop offset=".173" stop-color="#9d9d9d"/><stop offset=".1755" stop-color="#858585"/><stop offset=".178" stop-color="#707070"/><stop offset=".181" stop-color="#5a5a5a"/><stop offset=".1835" stop-color="#4a4a4a"/><stop offset=".1865" stop-color="#3a3a3a"/><stop offset=".1895" stop-color="#2d2d2d"/><stop offset=".1925" stop-color="#222222"/><stop offset=".1955" stop-color="#1a1a1a"/><stop offset=".199" stop-color="#131313"/><stop offset=".203" stop-color="#0c0c0c"/><stop offset=".207" stop-color="#080808"/><stop offset=".2115" stop-color="#050505"/><stop offset=".217" stop-color="#030303"/><stop offset=".2295" stop-color="#010101"/><stop offset=".252" stop-color="#000000"/><stop offset="1" stop-color="#000000"/></linearGradient>
<linearGradient id="g67" gradientUnits="userSpaceOnUse" x1="0" y1="0" x2="0" y2="-296.750" spreadMethod="reflect"><stop offset="0" stop-color="#000000"/><stop offset=".001" stop-color="#020202"/><stop offset=".0015" stop-color="#040404"/><stop offset=".0025" stop-color="#0a0a0a"/><stop offset=".003" stop-color="#0f0f0f"/><stop offset=".004" stop-color="#1a1a1a"/><stop offset=".0045" stop-color="#202020"/><stop offset=".0055" stop-color="#2f2f2f"/><stop offset=".006" stop-color="#383838"/><stop offset=".007" stop-color="#4a4a4a"/><stop offset=".0085" stop-color="#696969"/><stop offset=".01" stop-color="#8b8b8b"/><stop offset=".013" stop-color="#d2d2d2"/><stop offset=".014" stop-color="#e8e8e8"/><stop offset=".015" stop-color="#fdfdfd"/><stop offset=".0155" stop-color="#ffffff"/><stop offset=".03" stop-color="#ffffff"/><stop offset=".0305" stop-color="#fcfcfc"/><stop offset=".032" stop-color="#dcdcdc"/><stop offset=".0355" stop-color="#8b8b8b"/><stop offset=".037" stop-color="#6a6a6a"/><stop offset=".0385" stop-color="#4b4b4b"/><stop offset=".0395" stop-color="#393939"/><stop offset=".0405" stop-color="#292929"/><stop offset=".041" stop-color="#222222"/><stop offset=".042" stop-color="#151515"/><stop offset=".0425" stop-color="#101010"/><stop offset=".0435" stop-color="#080808"/><stop offset=".044" stop-color="#050505"/><stop offset=".045" stop-color="#010101"/><stop offset=".0455" stop-color="#000000"/><stop offset=".046" stop-color="#000000"/><stop offset=".047" stop-color="#030303"/><stop offset=".0475" stop-color="#050505"/><stop offset=".0485" stop-color="#0c0c0c"/><stop offset=".049" stop-color="#111111"/><stop offset=".05" stop-color="#1c1c1c"/><stop offset=".0505" stop-color="#232323"/><stop offset=".0515" stop-color="#323232"/><stop offset=".0525" stop-color="#444444"/><stop offset=".054" stop-color="#626262"/><stop offset=".055" stop-color="#787878"/><stop offset=".056" stop-color="#8f8f8f"/><stop offset=".059" stop-color="#d6d6d6"/><stop offset=".0605" stop-color="#f9f9f9"/><stop offset=".061" stop-color="#ffffff"/><stop offset=".08" stop-color="#ffffff"/><stop offset=".0805" stop-color="#f7f7f7"/><stop offset=".085" stop-color="#929292"/><stop offset=".0865" stop-color="#727272"/><stop offset=".0875" stop-color="#5e5e5e"/><stop offset=".0885" stop-color="#4b4b4b"/><stop offset=".09" stop-color="#323232"/><stop offset=".091" stop-color="#242424"/><stop offset=".092" stop-color="#181818"/><stop offset=".093" stop-color="#0e0e0e"/><stop offset=".0935" stop-color="#0a0a0a"/><stop offset=".0945" stop-color="#040404"/><stop offset=".095" stop-color="#020202"/><stop offset=".096" stop-color="#000000"/><stop offset=".0965" stop-color="#000000"/><stop offset=".097" stop-color="#010101"/><stop offset=".098" stop-color="#040404"/><stop offset=".0985" stop-color="#060606"/><stop offset=".0995" stop-color="#0d0d0d"/><stop offset=".1" stop-color="#121212"/><stop offset=".101" stop-color="#1c1c1c"/><stop offset=".102" stop-color="#292929"/><stop offset=".103" stop-color="#383838"/><stop offset=".1035" stop-color="#414141"/><stop offset=".1045" stop-color="#525252"/><stop offset=".1055" stop-color="#666666"/><stop offset=".1065" stop-color="#7b7b7b"/><stop offset=".1075" stop-color="#929292"/><stop offset=".1085" stop-color="#a9a9a9"/><stop offset=".11" stop-color="#cecece"/><stop offset=".1115" stop-color="#f4f4f4"/><stop offset=".112" stop-color="#ffffff"/><stop offset=".1565" stop-color="#ffffff"/><stop offset=".157" stop-color="#fdfdfd"/><stop offset=".1585" stop-color="#e8e8e8"/><stop offset=".16" stop-color="#d4d4d4"/><stop offset=".1615" stop-color="#c0c0c0"/><stop offset=".163" stop-color="#aeaeae"/><stop offset=".1655" stop-color="#939393"/><stop offset=".1675" stop-color="#7f7f7f"/><stop offset=".17" stop-color="#696969"/><stop offset=".1725" stop-color="#565656"/><stop offset=".175" stop-color="#464646"/><stop offset=".1775" stop-color="#383838"/><stop offset=".18" stop-color="#2d2d2d"/><stop offset=".183" stop-color="#222222"/><stop offset=".186" stop-color="#191919"/><stop offset=".1895" stop-color="#121212"/><stop offset=".193" stop-color="#0c0c0c"/><stop offset=".197" stop-color="#080808"/><stop offset=".2015" stop-color="#050505"/><stop offset=".2065" stop-color="#020202"/><stop offset=".218" stop-color="#010101"/><stop offset=".24" stop-color="#000000"/><stop offset="1" stop-color="#000000"/></linearGradient>
<linearGradient id="g68" gradientUnits="userSpaceOnUse" x1="0" y1="0" x2="0" y2="-296.750" spreadMethod="reflect"><stop offset="0" stop-color="#000000"/><stop offset=".0005" stop-color="#000000"/><stop offset=".001" stop-color="#020202"/><stop offset=".0015" stop-color="#040404"/><stop offset=".0025" stop-color="#0c0c0c"/><stop offset=".003" stop-color="#111111"/><stop offset=".004" stop-color="#1e1e1e"/><stop offset=".0045" stop-color="#252525"/><stop offset=".0055" stop-color="#363636"/><stop offset=".0065" stop-color="#4a4a4a"/><stop offset=".007" stop-color="#555555"/><stop offset=".008" stop-color="#6c6c6c"/><stop offset=".0095" stop-color="#929292"/><stop offset=".012" stop-color="#d2d2d2"/><stop offset=".013" stop-color="#ececec"/><stop offset=".0135" stop-color="#f8f8f8"/><stop offset=".014" stop-color="#ffffff"/><stop offset=".029" stop-color="#ffffff"/><stop offset=".0295" stop-color="#fefefe"/><stop offset=".031" stop-color="#dadada"/><stop offset=".0335" stop-color="#9a9a9a"/><stop offset=".035" stop-color="#757575"/><stop offset=".0365" stop-color="#535353"/><stop offset=".0375" stop-color="#3e3e3e"/><stop offset=".038" stop-color="#353535"/><stop offset=".039" stop-color="#242424"/><stop offset=".0395" stop-color="#1d1d1d"/><stop offset=".0405" stop-color="#101010"/><stop offset=".041" stop-color="#0b0b0b"/><stop offset=".042" stop-color="#040404"/><stop offset=".0425" stop-color="#020202"/><stop offset=".0435" stop-color="#000000"/><stop offset=".0445" stop-color="#020202"/><stop offset=".045" stop-color="#040404"/><stop offset=".046" stop-color="#0b0b0b"/><stop offset=".0465" stop-color="#101010"/><stop offset=".0475" stop-color="#1c1c1c"/><stop offset=".048" stop-color="#232323"/><stop offset=".049" stop-color="#343434"/><stop offset=".05" stop-color="#474747"/><stop offset=".0505" stop-color="#525252"/><stop offset=".0515" stop-color="#696969"/><stop offset=".0525" stop-color="#818181"/><stop offset=".0535" stop-color="#9a9a9a"/><stop offset=".057" stop-color="#f6f6f6"/><stop offset=".0575" stop-color="#ffffff"/><stop offset=".0765" stop-color="#ffffff"/><stop offset=".077" stop-color="#fbfbfb"/><stop offset=".081" stop-color="#989898"/><stop offset=".0825" stop-color="#757575"/><stop offset=".084" stop-color="#545454"/><stop offset=".085" stop-color="#414141"/><stop offset=".0855" stop-color="#383838"/><stop offset=".0865" stop-color="#282828"/><stop offset=".087" stop-color="#212121"/><stop offset=".088" stop-color="#151515"/><stop offset=".0885" stop-color="#101010"/><stop offset=".0895" stop-color="#070707"/><stop offset=".09" stop-color="#040404"/><stop offset=".091" stop-color="#010101"/><stop offset=".0915" stop-color="#000000"/><stop offset=".092" stop-color="#000000"/><stop offset=".093" stop-color="#020202"/><stop offset=".0935" stop-color="#050505"/><stop offset=".0945" stop-color="#0c0c0c"/><stop offset=".095" stop-color="#101010"/><stop offset=".096" stop-color="#1b1b1b"/><stop offset=".097" stop-color="#292929"/><stop offset=".098" stop-color="#393939"/><stop offset=".0985" stop-color="#434343"/><stop offset=".0995" stop-color="#565656"/><stop offset=".1005" stop-color="#6c6c6c"/><stop offset=".1015" stop-color="#838383"/><stop offset=".1025" stop-color="#9c9c9c"/><stop offset=".1035" stop-color="#b6b6b6"/><stop offset=".106" stop-color="#fbfbfb"/><stop offset=".1065" stop-color="#ffffff"/><stop offset=".15" stop-color="#ffffff"/><stop offset=".1505" stop-color="#fafafa"/><stop offset=".153" stop-color="#d5d5d5"/><stop offset=".1555" stop-color="#b4b4b4"/><stop offset=".1575" stop-color="#9b9b9b"/><stop offset=".16" stop-color="#808080"/><stop offset=".162" stop-color="#6d6d6d"/><stop offset=".1645" stop-color="#595959"/><stop offset=".167" stop-color="#474747"/><stop offset=".1695" stop-color="#393939"/><stop offset=".172" stop-color="#2c2c2c"/><stop offset=".175" stop-color="#212121"/><stop offset=".178" stop-color="#181818"/><stop offset=".181" stop-color="#111111"/><stop offset=".1845" stop-color="#0c0c0c"/><stop offset=".188" stop-color="#080808"/><stop offset=".1925" stop-color="#040404"/><stop offset=".1975" stop-color="#020202"/><stop offset=".2085" stop-color="#000000"/><stop offset=".2295" stop-color="#000000"/><stop offset="1" stop-color="#000000"/></linearGradient>
<linearGradient id="g69" gradientUnits="userSpaceOnUse" x1="0" y1="0" x2="0" y2="-296.750" spreadMethod="reflect"><stop offset="0" stop-color="#000000"/><stop offset=".0005" stop-color="#010101"/><stop offset=".001" stop-color="#020202"/><stop offset=".0015" stop-color="#050505"/><stop offset=".002" stop-color="#090909"/><stop offset=".0025" stop-color="#0d0d0d"/><stop offset=".003" stop-color="#131313"/><stop offset=".0035" stop-color="#1a1a1a"/><stop offset=".004" stop-color="#212121"/><stop offset=".005" stop-color="#333333"/><stop offset=".006" stop-color="#484848"/><stop offset=".0065" stop-color="#535353"/><stop offset=".0075" stop-color="#6c6c6c"/><stop offset=".009" stop-color="#949494"/><stop offset=".0115" stop-color="#dadada"/><stop offset=".0125" stop-color="#f5f5f5"/><stop offset=".013" stop-color="#ffffff"/><stop offset=".0285" stop-color="#ffffff"/><stop offset=".029" stop-color="#f8f8f8"/><stop offset=".03" stop-color="#dddddd"/><stop offset=".033" stop-color="#8a8a8a"/><stop offset=".0345" stop-color="#636363"/><stop offset=".0355" stop-color="#4c4c4c"/><stop offset=".0365" stop-color="#373737"/><stop offset=".0375" stop-color="#252525"/><stop offset=".038" stop-color="#1d1d1d"/><stop offset=".039" stop-color="#101010"/><stop offset=".0395" stop-color="#0b0b0b"/><stop offset=".04" stop-color="#070707"/><stop offset=".0405" stop-color="#030303"/><stop offset=".041" stop-color="#010101"/><stop offset=".0415" stop-color="#000000"/><stop offset=".042" stop-color="#000000"/><stop offset=".0425" stop-color="#010101"/><stop offset=".043" stop-color="#030303"/><stop offset=".0435" stop-color="#060606"/><stop offset=".044" stop-color="#0a0a0a"/><stop offset=".0445" stop-color="#0f0f0f"/><stop offset=".045" stop-color="#151515"/><stop offset=".0455" stop-color="#1b1b1b"/><stop offset=".046" stop-color="#232323"/><stop offset=".047" stop-color="#353535"/><stop offset=".0475" stop-color="#3f3f3f"/><stop offset=".0485" stop-color="#555555"/><stop offset=".049" stop-color="#616161"/><stop offset=".05" stop-color="#7a7a7a"/><stop offset=".0515" stop-color="#a4a4a4"/><stop offset=".0545" stop-color="#f9f9f9"/><stop offset=".055" stop-color="#ffffff"/><stop offset=".074" stop-color="#ffffff"/><stop offset=".0745" stop-color="#f7f7f7"/><stop offset=".0775" stop-color="#a6a6a6"/><stop offset=".0785" stop-color="#8c8c8c"/><stop offset=".0795" stop-color="#737373"/><stop offset=".0805" stop-color="#5c5c5c"/><stop offset=".081" stop-color="#515151"/><stop offset=".082" stop-color="#3d3d3d"/><stop offset=".0825" stop-color="#343434"/><stop offset=".0835" stop-color="#232323"/><stop offset=".084" stop-color="#1c1c1c"/><stop offset=".085" stop-color="#101010"/><stop offset=".0855" stop-color="#0c0c0c"/><stop offset=".0865" stop-color="#040404"/><stop offset=".087" stop-color="#020202"/><stop offset=".088" stop-color="#000000"/><stop offset=".0885" stop-color="#000000"/><stop offset=".0895" stop-color="#030303"/><stop offset=".09" stop-color="#060606"/><stop offset=".091" stop-color="#0e0e0e"/><stop offset=".0915" stop-color="#131313"/><stop offset=".0925" stop-color="#202020"/><stop offset=".093" stop-color="#282828"/><stop offset=".094" stop-color="#393939"/><stop offset=".0945" stop-color="#434343"/><stop offset=".0955" stop-color="#585858"/><stop offset=".0965" stop-color="#6f6f6f"/><stop offset=".0975" stop-color="#898989"/><stop offset=".0985" stop-color="#a4a4a4"/><stop offset=".0995" stop-color="#c0c0c0"/><stop offset=".1015" stop-color="#fbfbfb"/><stop offset=".102" stop-color="#ffffff"/><stop offset=".1445" stop-color="#ffffff"/><stop offset=".145" stop-color="#fdfdfd"/><stop offset=".1465" stop-color="#e5e5e5"/><stop offset=".148" stop-color="#cfcfcf"/><stop offset=".1495" stop-color="#b9b9b9"/><stop offset=".1505" stop-color="#acacac"/><stop offset=".1525" stop-color="#939393"/><stop offset=".1545" stop-color="#7d7d7d"/><stop offset=".1565" stop-color="#6a6a6a"/><stop offset=".159" stop-color="#545454"/><stop offset=".161" stop-color="#464646"/><stop offset=".1635" stop-color="#373737"/><stop offset=".166" stop-color="#2b2b2b"/><stop offset=".1685" stop-color="#212121"/><stop offset=".1715" stop-color="#181818"/><stop offset=".1745" stop-color="#111111"/><stop offset=".178" stop-color="#0b0b0b"/><stop offset=".1815" stop-color="#070707"/><stop offset=".1855" stop-color="#040404"/><stop offset=".1905" stop-color="#020202"/><stop offset=".201" stop-color="#000000"/><stop offset=".2215" stop-color="#000000"/><stop offset="1" stop-color="#000000"/></linearGradient>
<linearGradient id="g70" gradientUnits="userSpaceOnUse" x1="0" y1="0" x2="0" y2="-296.750" spreadMethod="reflect"><stop offset="0" stop-color="#000000"/><stop offset=".0005" stop-color="#010101"/><stop offset=".001" stop-color="#020202"/><stop offset=".0015" stop-color="#050505"/><stop offset=".002" stop-color="#090909"/><stop offset=".0025" stop-color="#0e0e0e"/><stop offset=".003" stop-color="#151515"/><stop offset=".0035" stop-color="#1c1c1c"/><stop offset=".004" stop-color="#242424"/><stop offset=".005" stop-color="#373737"/><stop offset=".006" stop-color="#4e4e4e"/><stop offset=".0065" stop-color="#5a5a5a"/><stop offset=".0075" stop-color="#757575"/><stop offset=".0085" stop-color="#919191"/><stop offset=".012" stop-color="#f8f8f8"/><stop offset=".0125" stop-color="#ffffff"/><stop offset=".028" stop-color="#ffffff"/><stop offset=".0285" stop-color="#f6f6f6"/><stop offset=".032" stop-color="#909090"/><stop offset=".0335" stop-color="#676767"/><stop offset=".0345" stop-color="#4e4e4e"/><stop offset=".0355" stop-color="#383838"/><stop offset=".0365" stop-color="#252525"/><stop offset=".037" stop-color="#1d1d1d"/><stop offset=".0375" stop-color="#151515"/><stop offset=".038" stop-color="#0f0f0f"/><stop offset=".0385" stop-color="#0a0a0a"/><stop offset=".039" stop-color="#060606"/><stop offset=".0395" stop-color="#030303"/><stop offset=".04" stop-color="#010101"/><stop offset=".0405" stop-color="#000000"/><stop offset=".041" stop-color="#000000"/><stop offset=".0415" stop-color="#020202"/><stop offset=".042" stop-color="#040404"/><stop offset=".0425" stop-color="#080808"/><stop offset=".043" stop-color="#0d0d0d"/><stop offset=".0435" stop-color="#121212"/><stop offset=".044" stop-color="#191919"/><stop offset=".0445" stop-color="#212121"/><stop offset=".0455" stop-color="#333333"/><stop offset=".0465" stop-color="#484848"/><stop offset=".047" stop-color="#545454"/><stop offset=".048" stop-color="#6e6e6e"/><stop offset=".0495" stop-color="#989898"/><stop offset=".0525" stop-color="#f3f3f3"/><stop offset=".053" stop-color="#ffffff"/><stop offset=".072" stop-color="#ffffff"/><stop offset=".0725" stop-color="#fbfbfb"/><stop offset=".0755" stop-color="#a6a6a6"/><stop offset=".077" stop-color="#7d7d7d"/><stop offset=".078" stop-color="#646464"/><stop offset=".0785" stop-color="#585858"/><stop offset=".0795" stop-color="#424242"/><stop offset=".08" stop-color="#383838"/><stop offset=".081" stop-color="#272727"/><stop offset=".0815" stop-color="#1f1f1f"/><stop offset=".0825" stop-color="#121212"/><stop offset=".083" stop-color="#0d0d0d"/><stop offset=".084" stop-color="#050505"/><stop offset=".0845" stop-color="#020202"/><stop offset=".085" stop-color="#010101"/><stop offset=".0855" stop-color="#000000"/><stop offset=".086" stop-color="#000000"/><stop offset=".0865" stop-color="#010101"/><stop offset=".087" stop-color="#040404"/><stop offset=".0875" stop-color="#070707"/><stop offset=".0885" stop-color="#0f0f0f"/><stop offset=".089" stop-color="#151515"/><stop offset=".09" stop-color="#232323"/><stop offset=".0905" stop-color="#2b2b2b"/><stop offset=".0915" stop-color="#3e3e3e"/><stop offset=".092" stop-color="#494949"/><stop offset=".093" stop-color="#5f5f5f"/><stop offset=".0935" stop-color="#6c6c6c"/><stop offset=".0945" stop-color="#868686"/><stop offset=".0955" stop-color="#a2a2a2"/><stop offset=".0965" stop-color="#c0c0c0"/><stop offset=".0985" stop-color="#ffffff"/><stop offset=".141" stop-color="#ffffff"/><stop offset=".1415" stop-color="#fafafa"/><stop offset=".143" stop-color="#e1e1e1"/><stop offset=".144" stop-color="#d2d2d2"/><stop offset=".146" stop-color="#b4b4b4"/><stop offset=".148" stop-color="#9a9a9a"/><stop offset=".15" stop-color="#828282"/><stop offset=".152" stop-color="#6d6d6d"/><stop offset=".153" stop-color="#646464"/><stop offset=".1545" stop-color="#575757"/><stop offset=".1565" stop-color="#484848"/><stop offset=".159" stop-color="#383838"/><stop offset=".1615" stop-color="#2b2b2b"/><stop offset=".164" stop-color="#212121"/><stop offset=".167" stop-color="#171717"/><stop offset=".17" stop-color="#101010"/><stop offset=".173" stop-color="#0b0b0b"/><stop offset=".1765" stop-color="#070707"/><stop offset=".1805" stop-color="#040404"/><stop offset=".1855" stop-color="#020202"/><stop offset=".196" stop-color="#000000"/><stop offset=".2155" stop-color="#000000"/><stop offset="1" stop-color="#000000"/></linearGradient>
<linearGradient id="g71" gradientUnits="userSpaceOnUse" x1="0" y1="0" x2="0" y2="-296.750" spreadMethod="reflect"><stop offset="0" stop-color="#000000"/><stop offset=".0005" stop-color="#010101"/><stop offset=".001" stop-color="#020202"/><stop offset=".0015" stop-color="#050505"/><stop offset=".002" stop-color="#0a0a0a"/><stop offset=".0025" stop-color="#0f0f0f"/><stop offset=".003" stop-color="#161616"/><stop offset=".0035" stop-color="#1d1d1d"/><stop offset=".004" stop-color="#262626"/><stop offset=".0045" stop-color="#2f2f2f"/><stop offset=".005" stop-color="#3a3a3a"/><stop offset=".006" stop-color="#515151"/><stop offset=".0065" stop-color="#5e5e5e"/><stop offset=".0075" stop-color="#7a7a7a"/><stop offset=".0085" stop-color="#979797"/><stop offset=".0115" stop-color="#f3f3f3"/><stop offset=".012" stop-color="#ffffff"/><stop offset=".0275" stop-color="#ffffff"/><stop offset=".028" stop-color="#fcfcfc"/><stop offset=".031" stop-color="#a2a2a2"/><stop offset=".0325" stop-color="#767676"/><stop offset=".0335" stop-color="#5b5b5b"/><stop offset=".034" stop-color="#4f4f4f"/><stop offset=".035" stop-color="#383838"/><stop offset=".036" stop-color="#252525"/><stop offset=".0365" stop-color="#1c1c1c"/><stop offset=".037" stop-color="#151515"/><stop offset=".0375" stop-color="#0f0f0f"/><stop offset=".038" stop-color="#090909"/><stop offset=".0385" stop-color="#050505"/><stop offset=".039" stop-color="#020202"/><stop offset=".0395" stop-color="#010101"/><stop offset=".04" stop-color="#000000"/><stop offset=".0405" stop-color="#010101"/><stop offset=".041" stop-color="#020202"/><stop offset=".0415" stop-color="#050505"/><stop offset=".042" stop-color="#090909"/><stop offset=".0425" stop-color="#0e0e0e"/><stop offset=".043" stop-color="#141414"/><stop offset=".0435" stop-color="#1c1c1c"/><stop offset=".044" stop-color="#242424"/><stop offset=".045" stop-color="#373737"/><stop offset=".046" stop-color="#4e4e4e"/><stop offset=".0465" stop-color="#5b5b5b"/><stop offset=".0475" stop-color="#767676"/><stop offset=".049" stop-color="#a2a2a2"/><stop offset=".052" stop-color="#ffffff"/><stop offset=".071" stop-color="#ffffff"/><stop offset=".0715" stop-color="#fdfdfd"/><stop offset=".0745" stop-color="#a5a5a5"/><stop offset=".076" stop-color="#7b7b7b"/><stop offset=".077" stop-color="#626262"/><stop offset=".0775" stop-color="#565656"/><stop offset=".0785" stop-color="#3f3f3f"/><stop offset=".079" stop-color="#353535"/><stop offset=".08" stop-color="#242424"/><stop offset=".0805" stop-color="#1c1c1c"/><stop offset=".0815" stop-color="#101010"/><stop offset=".082" stop-color="#0b0b0b"/><stop offset=".0825" stop-color="#070707"/><stop offset=".083" stop-color="#030303"/><stop offset=".0835" stop-color="#010101"/><stop offset=".084" stop-color="#000000"/><stop offset=".0845" stop-color="#000000"/><stop offset=".085" stop-color="#010101"/><stop offset=".0855" stop-color="#030303"/><stop offset=".086" stop-color="#050505"/><stop offset=".0865" stop-color="#090909"/><stop offset=".087" stop-color="#0e0e0e"/><stop offset=".0875" stop-color="#131313"/><stop offset=".0885" stop-color="#212121"/><stop offset=".089" stop-color="#292929"/><stop offset=".09" stop-color="#3c3c3c"/><stop offset=".0905" stop-color="#474747"/><stop offset=".0915" stop-color="#5e5e5e"/><stop offset=".092" stop-color="#6b6b6b"/><stop offset=".093" stop-color="#868686"/><stop offset=".0945" stop-color="#b2b2b2"/><stop offset=".0955" stop-color="#d1d1d1"/><stop offset=".0965" stop-color="#f1f1f1"/><stop offset=".097" stop-color="#ffffff"/><stop offset=".139" stop-color="#ffffff"/><stop offset=".1395" stop-color="#fcfcfc"/><stop offset=".141" stop-color="#e3e3e3"/><stop offset=".142" stop-color="#d2d2d2"/><stop offset=".1435" stop-color="#bcbcbc"/><stop offset=".1445" stop-color="#adadad"/><stop offset=".146" stop-color="#999999"/><stop offset=".148" stop-color="#818181"/><stop offset=".15" stop-color="#6c6c6c"/><stop offset=".151" stop-color="#636363"/><stop offset=".1525" stop-color="#565656"/><stop offset=".1545" stop-color="#464646"/><stop offset=".157" stop-color="#373737"/><stop offset=".1595" stop-color="#2a2a2a"/><stop offset=".162" stop-color="#202020"/><stop offset=".1645" stop-color="#181818"/><stop offset=".1675" stop-color="#111111"/><stop offset=".1705" stop-color="#0b0b0b"/><stop offset=".174" stop-color="#070707"/><stop offset=".178" stop-color="#040404"/><stop offset=".183" stop-color="#020202"/><stop offset=".193" stop-color="#000000"/><stop offset=".2125" stop-color="#000000"/><stop offset="1" stop-color="#000000"/></linearGradient>
<g id="hp"><rect x="-0.699" y="-298.8" width="2.296" height="597.5" fill="url(#g0)"/><rect x="0.998" y="-298.8" width="1.597" height="597.5" fill="url(#g1)"/><rect x="1.996" y="-298.8" width="1.597" height="597.5" fill="url(#g2)"/><rect x="2.994" y="-298.8" width="1.597" height="597.5" fill="url(#g3)"/><rect x="3.992" y="-298.8" width="1.597" height="597.5" fill="url(#g4)"/><rect x="4.990" y="-298.8" width="1.597" height="597.5" fill="url(#g5)"/><rect x="5.988" y="-298.8" width="1.597" height="597.5" fill="url(#g6)"/><rect x="6.986" y="-298.8" width="1.597" height="597.5" fill="url(#g7)"/><rect x="7.985" y="-298.8" width="1.597" height="597.5" fill="url(#g8)"/><rect x="8.983" y="-298.8" width="1.597" height="597.5" fill="url(#g9)"/><rect x="9.981" y="-298.8" width="1.597" height="597.5" fill="url(#g10)"/><rect x="10.979" y="-298.8" width="1.597" height="597.5" fill="url(#g11)"/><rect x="11.977" y="-298.8" width="1.597" height="597.5" fill="url(#g12)"/><rect x="12.975" y="-298.8" width="1.597" height="597.5" fill="url(#g13)"/><rect x="13.973" y="-298.8" width="1.597" height="597.5" fill="url(#g14)"/><rect x="14.971" y="-298.8" width="1.597" height="597.5" fill="url(#g15)"/><rect x="15.969" y="-298.8" width="1.597" height="597.5" fill="url(#g16)"/><rect x="16.967" y="-298.8" width="1.597" height="597.5" fill="url(#g17)"/><rect x="17.965" y="-298.8" width="1.597" height="597.5" fill="url(#g18)"/><rect x="18.963" y="-298.8" width="1.597" height="597.5" fill="url(#g19)"/><rect x="19.961" y="-298.8" width="1.597" height="597.5" fill="url(#g20)"/><rect x="20.959" y="-298.8" width="1.597" height="597.5" fill="url(#g21)"/><rect x="21.958" y="-298.8" width="1.597" height="597.5" fill="url(#g22)"/><rect x="22.956" y="-298.8" width="1.597" height="597.5" fill="url(#g23)"/><rect x="23.954" y="-298.8" width="1.597" height="597.5" fill="url(#g24)"/><rect x="24.952" y="-298.8" width="1.597" height="597.5" fill="url(#g25)"/><rect x="25.950" y="-298.8" width="1.597" height="597.5" fill="url(#g26)"/><rect x="26.948" y="-298.8" width="1.597" height="597.5" fill="url(#g27)"/><rect x="27.946" y="-298.8" width="1.597" height="597.5" fill="url(#g28)"/><rect x="28.944" y="-298.8" width="1.597" height="597.5" fill="url(#g29)"/><rect x="29.942" y="-298.8" width="1.597" height="597.5" fill="url(#g30)"/><rect x="30.940" y="-298.8" width="1.597" height="597.5" fill="url(#g31)"/><rect x="31.938" y="-298.8" width="1.597" height="597.5" fill="url(#g32)"/><rect x="32.936" y="-298.8" width="1.597" height="597.5" fill="url(#g33)"/><rect x="33.934" y="-298.8" width="1.597" height="597.5" fill="url(#g34)"/><rect x="34.932" y="-298.8" width="1.597" height="597.5" fill="url(#g35)"/><rect x="35.931" y="-298.8" width="1.597" height="597.5" fill="url(#g36)"/><rect x="36.929" y="-298.8" width="1.597" height="597.5" fill="url(#g37)"/><rect x="37.927" y="-298.8" width="1.597" height="597.5" fill="url(#g38)"/><rect x="38.925" y="-298.8" width="1.597" height="597.5" fill="url(#g39)"/><rect x="39.923" y="-298.8" width="1.597" height="597.5" fill="url(#g40)"/><rect x="40.921" y="-298.8" width="1.597" height="597.5" fill="url(#g41)"/><rect x="41.919" y="-298.8" width="1.597" height="597.5" fill="url(#g42)"/><rect x="42.917" y="-298.8" width="1.597" height="597.5" fill="url(#g43)"/><rect x="43.915" y="-298.8" width="1.597" height="597.5" fill="url(#g44)"/><rect x="44.913" y="-298.8" width="1.597" height="597.5" fill="url(#g45)"/><rect x="45.911" y="-298.8" width="1.597" height="597.5" fill="url(#g46)"/><rect x="46.909" y="-298.8" width="1.597" height="597.5" fill="url(#g47)"/><rect x="47.907" y="-298.8" width="1.597" height="597.5" fill="url(#g48)"/><rect x="48.905" y="-298.8" width="1.597" height="597.5" fill="url(#g49)"/><rect x="49.903" y="-298.8" width="1.597" height="597.5" fill="url(#g50)"/><rect x="50.902" y="-298.8" width="1.597" height="597.5" fill="url(#g51)"/><rect x="51.900" y="-298.8" width="1.597" height="597.5" fill="url(#g52)"/><rect x="52.898" y="-298.8" width="1.597" height="597.5" fill="url(#g53)"/><rect x="53.896" y="-298.8" width="1.597" height="597.5" fill="url(#g54)"/><rect x="54.894" y="-298.8" width="1.597" height="597.5" fill="url(#g55)"/><rect x="55.892" y="-298.8" width="1.597" height="597.5" fill="url(#g56)"/><rect x="56.890" y="-298.8" width="1.597" height="597.5" fill="url(#g57)"/><rect x="57.888" y="-298.8" width="1.597" height="597.5" fill="url(#g58)"/><rect x="58.886" y="-298.8" width="1.597" height="597.5" fill="url(#g59)"/><rect x="59.884" y="-298.8" width="1.597" height="597.5" fill="url(#g60)"/><rect x="60.882" y="-298.8" width="1.597" height="597.5" fill="url(#g61)"/><rect x="61.880" y="-298.8" width="1.597" height="597.5" fill="url(#g62)"/><rect x="62.878" y="-298.8" width="1.597" height="597.5" fill="url(#g63)"/><rect x="63.876" y="-298.8" width="1.597" height="597.5" fill="url(#g64)"/><rect x="64.875" y="-298.8" width="1.597" height="597.5" fill="url(#g65)"/><rect x="65.873" y="-298.8" width="1.597" height="597.5" fill="url(#g66)"/><rect x="66.871" y="-298.8" width="1.597" height="597.5" fill="url(#g67)"/><rect x="67.869" y="-298.8" width="1.597" height="597.5" fill="url(#g68)"/><rect x="68.867" y="-298.8" width="1.597" height="597.5" fill="url(#g69)"/><rect x="69.865" y="-298.8" width="1.597" height="597.5" fill="url(#g70)"/><rect x="70.863" y="-298.8" width="1.297" height="597.5" fill="url(#g71)"/></g>
<g id="fp"><use href="#hp"/><use href="#hp" transform="translate(143.722,0) scale(-1,1)"/></g>
<filter id="cmA" filterUnits="userSpaceOnUse" x="0" y="0" width="952" height="1589" color-interpolation-filters="sRGB"><feGaussianBlur stdDeviation="0.8 0"/><feComponentTransfer><feFuncR type="discrete" tableValues="1 1 1 1 1 1 1 1 1 1 1 1 1 1 1 1 1 1 1 1 1 1 1 1 1 1 1 1 1 1 1 1 1 1 1 1 1 1 1 1 1 1 1 1 1 1 1 1 1 1 1"/><feFuncG type="discrete" tableValues="0 0.04255 0.08511 0.1277 0.1702 0.2128 0.2553 0.2979 0.3404 0.383 0.4255 0.4681 0.5106 0.5532 0.5957 0.6383 0.6809 0.7234 0.766 0.8085 0.8511 0.8936 0.9362 0.9787 1 1 1 1 1 1 1 1 1 1 1 1 1 1 1 1 1 1 1 1 1 1 1 1 1 1 1"/><feFuncB type="discrete" tableValues="0 0 0 0 0 0 0 0 0 0 0 0 0 0 0 0 0 0 0 0 0 0 0 0 0.02128 0.06383 0.1064 0.1489 0.1915 0.234 0.2766 0.3191 0.3617 0.4043 0.4468 0.4894 0.5319 0.5745 0.617 0.6596 0.7021 0.7447 0.7872 0.8298 0.8723 0.9149 0.9574 1 1 1 1"/></feComponentTransfer></filter>
<filter id="cmB" filterUnits="userSpaceOnUse" x="0" y="0" width="952" height="1589" color-interpolation-filters="sRGB"><feGaussianBlur stdDeviation="0.8 0"/><feComponentTransfer><feFuncR type="discrete" tableValues="0 0.04255 0.08511 0.1277 0.1702 0.2128 0.2553 0.2979 0.3404 0.383 0.4255 0.4681 0.5106 0.5532 0.5957 0.6383 0.6809 0.7234 0.766 0.8085 0.8511 0.8936 0.9362 0.9787 1 1 1 1 1 1 1 1 1 1 1 1 1 1 1 1 1 1 1 1 1 1 1 1 1 1 1"/><feFuncG type="discrete" tableValues="0.6 0.617 0.634 0.6511 0.6681 0.6851 0.7021 0.7191 0.7362 0.7532 0.7702 0.7872 0.8043 0.8213 0.8383 0.8553 0.8723 0.8894 0.9064 0.9234 0.9404 0.9574 0.9745 0.9915 1 1 1 1 1 1 1 1 1 1 1 1 1 1 1 1 1 1 1 1 1 1 1 1 1 1 1"/><feFuncB type="discrete" tableValues="0 0 0 0 0 0 0 0 0 0 0 0 0 0 0 0 0 0 0 0 0 0 0 0 0.02128 0.06383 0.1064 0.1489 0.1915 0.234 0.2766 0.3191 0.3617 0.4043 0.4468 0.4894 0.5319 0.5745 0.617 0.6596 0.7021 0.7447 0.7872 0.8298 0.8723 0.9149 0.9574 1 1 1 1"/></feComponentTransfer></filter>
</defs>
<rect x="190" y="6.3" width="54.5" height="47.3" fill="#fdfdfd"/>
<clipPath id="clA"><rect x="99.00" y="72.30" width="617.60" height="593.50"/></clipPath><g clip-path="url(#clA)"><g filter="url(#cmA)"><rect x="94.0" y="67.3" width="627.6" height="603.5" fill="#000"/><use href="#fp" transform="translate(45.104,369.050)"/><use href="#fp" transform="translate(188.826,369.050)"/><use href="#fp" transform="translate(332.548,369.050)"/><use href="#fp" transform="translate(476.270,369.050)"/><use href="#fp" transform="translate(619.992,369.050)"/></g></g>
<rect x="178.4" y="820" width="65.1" height="42.6" fill="#fdfdfd"/>
<clipPath id="clB"><rect x="99.00" y="890.30" width="617.60" height="593.50"/></clipPath><g clip-path="url(#clB)"><g filter="url(#cmB)"><rect x="94.0" y="885.3" width="627.6" height="603.5" fill="#000"/><use href="#fp" transform="translate(-26.757,1187.050)"/><use href="#fp" transform="translate(116.965,1187.050)"/><use href="#fp" transform="translate(260.687,1187.050)"/><use href="#fp" transform="translate(404.409,1187.050)"/><use href="#fp" transform="translate(548.131,1187.050)"/><use href="#fp" transform="translate(691.853,1187.050)"/></g></g>
<circle cx="260.3" cy="369.3" r="6.6" fill="#000"/>
<circle cx="331.5" cy="369.3" r="6.6" fill="#000"/>
<text x="209.2" y="348.9" font-size="33.6" font-weight="bold" fill="#0000ff">Node</text>
<text x="305.8" y="348.9" font-size="33.6" font-weight="bold" fill="#0000ff">Belly</text>
<rect x="99.00" y="72.30" width="617.60" height="593.50" fill="none" stroke="#000" stroke-width="2"/>
<path d="M99.00 72.30h-12.0M99.00 146.49h-6.2M99.00 220.67h-12.0M99.00 294.86h-6.2M99.00 369.05h-12.0M99.00 443.24h-6.2M99.00 517.42h-12.0M99.00 591.61h-6.2M99.00 665.80h-12.0M99.00 665.80v12.0M144.75 665.80v6.2M190.50 665.80v12.0M236.24 665.80v6.2M281.99 665.80v12.0M327.74 665.80v6.2M373.49 665.80v12.0M419.24 665.80v6.2M464.99 665.80v12.0M510.73 665.80v6.2M556.48 665.80v12.0M602.23 665.80v6.2M647.98 665.80v12.0M693.73 665.80v6.2" stroke="#000" stroke-width="2" fill="none"/>
<text x="79.2" y="82.2" text-anchor="end" font-size="33.7">10</text>
<text x="79.2" y="230.6" text-anchor="end" font-size="33.7">5</text>
<text x="79.2" y="378.9" text-anchor="end" font-size="33.7">0</text>
<text x="79.2" y="527.3" text-anchor="end" font-size="33.7">-5</text>
<text x="79.2" y="675.7" text-anchor="end" font-size="33.7">-10</text>
<text x="98.7" y="711.7" text-anchor="middle" font-size="33.7">0</text>
<text x="190.2" y="711.7" text-anchor="middle" font-size="33.7">2</text>
<text x="281.7" y="711.7" text-anchor="middle" font-size="33.7">4</text>
<text x="373.2" y="711.7" text-anchor="middle" font-size="33.7">6</text>
<text x="464.7" y="711.7" text-anchor="middle" font-size="33.7">8</text>
<text x="556.2" y="711.7" text-anchor="middle" font-size="33.7">10</text>
<text x="647.7" y="711.7" text-anchor="middle" font-size="33.7">12</text>
<text x="407.8" y="764.7" text-anchor="middle" font-size="43">t</text>
<text x="0.7" y="385.5" font-size="43">p</text>
<text x="9.5" y="40.3" font-size="43" font-weight="bold">A</text>
<rect x="774.10" y="654.13" width="49.80" height="11.87" fill="#000000"/>
<rect x="774.10" y="642.27" width="49.80" height="12.47" fill="#ff0000"/>
<rect x="774.10" y="630.40" width="49.80" height="12.47" fill="#ff0b00"/>
<rect x="774.10" y="618.54" width="49.80" height="12.47" fill="#ff1600"/>
<rect x="774.10" y="606.67" width="49.80" height="12.47" fill="#ff2100"/>
<rect x="774.10" y="594.80" width="49.80" height="12.47" fill="#ff2b00"/>
<rect x="774.10" y="582.94" width="49.80" height="12.47" fill="#ff3600"/>
<rect x="774.10" y="571.07" width="49.80" height="12.47" fill="#ff4100"/>
<rect x="774.10" y="559.21" width="49.80" height="12.47" fill="#ff4c00"/>
<rect x="774.10" y="547.34" width="49.80" height="12.47" fill="#ff5700"/>
<rect x="774.10" y="535.47" width="49.80" height="12.47" fill="#ff6200"/>
<rect x="774.10" y="523.61" width="49.80" height="12.47" fill="#ff6d00"/>
<rect x="774.10" y="511.74" width="49.80" height="12.47" fill="#ff7700"/>
<rect x="774.10" y="499.88" width="49.80" height="12.47" fill="#ff8200"/>
<rect x="774.10" y="488.01" width="49.80" height="12.47" fill="#ff8d00"/>
<rect x="774.10" y="476.14" width="49.80" height="12.47" fill="#ff9800"/>
<rect x="774.10" y="464.28" width="49.80" height="12.47" fill="#ffa300"/>
<rect x="774.10" y="452.41" width="49.80" height="12.47" fill="#ffae00"/>
<rect x="774.10" y="440.55" width="49.80" height="12.47" fill="#ffb800"/>
<rect x="774.10" y="428.68" width="49.80" height="12.47" fill="#ffc300"/>
<rect x="774.10" y="416.81" width="49.80" height="12.47" fill="#ffce00"/>
<rect x="774.10" y="404.95" width="49.80" height="12.47" fill="#ffd900"/>
<rect x="774.10" y="393.08" width="49.80" height="12.47" fill="#ffe400"/>
<rect x="774.10" y="381.22" width="49.80" height="12.47" fill="#ffef00"/>
<rect x="774.10" y="369.35" width="49.80" height="12.47" fill="#fffa00"/>
<rect x="774.10" y="357.48" width="49.80" height="12.47" fill="#ffff05"/>
<rect x="774.10" y="345.62" width="49.80" height="12.47" fill="#ffff10"/>
<rect x="774.10" y="333.75" width="49.80" height="12.47" fill="#ffff1b"/>
<rect x="774.10" y="321.89" width="49.80" height="12.47" fill="#ffff26"/>
<rect x="774.10" y="310.02" width="49.80" height="12.47" fill="#ffff31"/>
<rect x="774.10" y="298.15" width="49.80" height="12.47" fill="#ffff3c"/>
<rect x="774.10" y="286.29" width="49.80" height="12.47" fill="#ffff47"/>
<rect x="774.10" y="274.42" width="49.80" height="12.47" fill="#ffff51"/>
<rect x="774.10" y="262.56" width="49.80" height="12.47" fill="#ffff5c"/>
<rect x="774.10" y="250.69" width="49.80" height="12.47" fill="#ffff67"/>
<rect x="774.10" y="238.82" width="49.80" height="12.47" fill="#ffff72"/>
<rect x="774.10" y="226.96" width="49.80" height="12.47" fill="#ffff7d"/>
<rect x="774.10" y="215.09" width="49.80" height="12.47" fill="#ffff88"/>
<rect x="774.10" y="203.23" width="49.80" height="12.47" fill="#ffff92"/>
<rect x="774.10" y="191.36" width="49.80" height="12.47" fill="#ffff9d"/>
<rect x="774.10" y="179.49" width="49.80" height="12.47" fill="#ffffa8"/>
<rect x="774.10" y="167.63" width="49.80" height="12.47" fill="#ffffb3"/>
<rect x="774.10" y="155.76" width="49.80" height="12.47" fill="#ffffbe"/>
<rect x="774.10" y="143.90" width="49.80" height="12.47" fill="#ffffc9"/>
<rect x="774.10" y="132.03" width="49.80" height="12.47" fill="#ffffd4"/>
<rect x="774.10" y="120.16" width="49.80" height="12.47" fill="#ffffde"/>
<rect x="774.10" y="108.30" width="49.80" height="12.47" fill="#ffffe9"/>
<rect x="774.10" y="96.43" width="49.80" height="12.47" fill="#fffff4"/>
<rect x="774.10" y="84.57" width="49.80" height="12.47" fill="#ffffff"/>
<rect x="774.10" y="72.70" width="49.80" height="12.47" fill="#ffffff"/>
<rect x="774.10" y="72.70" width="49.80" height="593.30" fill="none" stroke="#1a1a1a" stroke-width="1.3"/>
<text x="847.5" y="665.5" font-size="33.7">0.0000</text>
<text x="847.5" y="594.3" font-size="33.7">0.0375</text>
<text x="847.5" y="523.1" font-size="33.7">0.0750</text>
<text x="847.5" y="451.9" font-size="33.7">0.1125</text>
<text x="847.5" y="380.8" font-size="33.7">0.1500</text>
<text x="847.5" y="309.6" font-size="33.7">0.1875</text>
<text x="847.5" y="238.4" font-size="33.7">0.2250</text>
<text x="847.5" y="167.2" font-size="33.7">0.2625</text>
<text x="847.5" y="96.0" font-size="33.7">0.3000</text>
<path d="M823.90 654.13h11.2M823.90 582.94h11.2M823.90 511.74h11.2M823.90 440.55h11.2M823.90 369.35h11.2M823.90 298.15h11.2M823.90 226.96h11.2M823.90 155.76h11.2M823.90 84.57h11.2" stroke="#111" stroke-width="1.25" fill="none"/>
<text x="736.6" y="40.5" font-size="41.5">|<tspan dy="-2.2">&lt;</tspan><tspan dy="2.2">p|</tspan></text>
<text transform="translate(806,40.8) scale(1.22,1)" font-size="36" font-family="'Liberation Serif',serif">ψ</text>
<text x="834.5" y="51.0" font-size="26.5">n</text>
<text x="851" y="40.5" font-size="41.5"><tspan dy="-2.2">&gt;</tspan><tspan dy="2.2">|</tspan></text>
<text x="885" y="22.7" font-size="26">2</text>
<rect x="99.00" y="890.30" width="617.60" height="593.50" fill="none" stroke="#000" stroke-width="2"/>
<path d="M99.00 890.30h-12.0M99.00 964.49h-6.2M99.00 1038.67h-12.0M99.00 1112.86h-6.2M99.00 1187.05h-12.0M99.00 1261.24h-6.2M99.00 1335.42h-12.0M99.00 1409.61h-6.2M99.00 1483.80h-12.0M99.00 1483.80v12.0M144.75 1483.80v6.2M190.50 1483.80v12.0M236.24 1483.80v6.2M281.99 1483.80v12.0M327.74 1483.80v6.2M373.49 1483.80v12.0M419.24 1483.80v6.2M464.99 1483.80v12.0M510.73 1483.80v6.2M556.48 1483.80v12.0M602.23 1483.80v6.2M647.98 1483.80v12.0M693.73 1483.80v6.2" stroke="#000" stroke-width="2" fill="none"/>
<text x="79.2" y="900.2" text-anchor="end" font-size="33.7">10</text>
<text x="79.2" y="1048.6" text-anchor="end" font-size="33.7">5</text>
<text x="79.2" y="1197.0" text-anchor="end" font-size="33.7">0</text>
<text x="79.2" y="1345.3" text-anchor="end" font-size="33.7">-5</text>
<text x="79.2" y="1493.7" text-anchor="end" font-size="33.7">-10</text>
<text x="98.7" y="1529.7" text-anchor="middle" font-size="33.7">0</text>
<text x="190.2" y="1529.7" text-anchor="middle" font-size="33.7">2</text>
<text x="281.7" y="1529.7" text-anchor="middle" font-size="33.7">4</text>
<text x="373.2" y="1529.7" text-anchor="middle" font-size="33.7">6</text>
<text x="464.7" y="1529.7" text-anchor="middle" font-size="33.7">8</text>
<text x="556.2" y="1529.7" text-anchor="middle" font-size="33.7">10</text>
<text x="647.7" y="1529.7" text-anchor="middle" font-size="33.7">12</text>
<text x="407.8" y="1585.6" text-anchor="middle" font-size="43">t</text>
<text x="0.7" y="1203.5" font-size="43">q</text>
<text x="7.2" y="854.6" font-size="43" font-weight="bold">B</text>
<rect x="774.10" y="1472.13" width="49.80" height="11.87" fill="#000000"/>
<rect x="774.10" y="1460.27" width="49.80" height="12.47" fill="#009900"/>
<rect x="774.10" y="1448.40" width="49.80" height="12.47" fill="#0b9d00"/>
<rect x="774.10" y="1436.54" width="49.80" height="12.47" fill="#16a200"/>
<rect x="774.10" y="1424.67" width="49.80" height="12.47" fill="#21a600"/>
<rect x="774.10" y="1412.80" width="49.80" height="12.47" fill="#2baa00"/>
<rect x="774.10" y="1400.94" width="49.80" height="12.47" fill="#36af00"/>
<rect x="774.10" y="1389.07" width="49.80" height="12.47" fill="#41b300"/>
<rect x="774.10" y="1377.21" width="49.80" height="12.47" fill="#4cb700"/>
<rect x="774.10" y="1365.34" width="49.80" height="12.47" fill="#57bc00"/>
<rect x="774.10" y="1353.47" width="49.80" height="12.47" fill="#62c000"/>
<rect x="774.10" y="1341.61" width="49.80" height="12.47" fill="#6dc400"/>
<rect x="774.10" y="1329.74" width="49.80" height="12.47" fill="#77c900"/>
<rect x="774.10" y="1317.88" width="49.80" height="12.47" fill="#82cd00"/>
<rect x="774.10" y="1306.01" width="49.80" height="12.47" fill="#8dd100"/>
<rect x="774.10" y="1294.14" width="49.80" height="12.47" fill="#98d600"/>
<rect x="774.10" y="1282.28" width="49.80" height="12.47" fill="#a3da00"/>
<rect x="774.10" y="1270.41" width="49.80" height="12.47" fill="#aede00"/>
<rect x="774.10" y="1258.55" width="49.80" height="12.47" fill="#b8e300"/>
<rect x="774.10" y="1246.68" width="49.80" height="12.47" fill="#c3e700"/>
<rect x="774.10" y="1234.81" width="49.80" height="12.47" fill="#ceeb00"/>
<rect x="774.10" y="1222.95" width="49.80" height="12.47" fill="#d9f000"/>
<rect x="774.10" y="1211.08" width="49.80" height="12.47" fill="#e4f400"/>
<rect x="774.10" y="1199.22" width="49.80" height="12.47" fill="#eff800"/>
<rect x="774.10" y="1187.35" width="49.80" height="12.47" fill="#fafd00"/>
<rect x="774.10" y="1175.48" width="49.80" height="12.47" fill="#ffff05"/>
<rect x="774.10" y="1163.62" width="49.80" height="12.47" fill="#ffff10"/>
<rect x="774.10" y="1151.75" width="49.80" height="12.47" fill="#ffff1b"/>
<rect x="774.10" y="1139.89" width="49.80" height="12.47" fill="#ffff26"/>
<rect x="774.10" y="1128.02" width="49.80" height="12.47" fill="#ffff31"/>
<rect x="774.10" y="1116.15" width="49.80" height="12.47" fill="#ffff3c"/>
<rect x="774.10" y="1104.29" width="49.80" height="12.47" fill="#ffff47"/>
<rect x="774.10" y="1092.42" width="49.80" height="12.47" fill="#ffff51"/>
<rect x="774.10" y="1080.56" width="49.80" height="12.47" fill="#ffff5c"/>
<rect x="774.10" y="1068.69" width="49.80" height="12.47" fill="#ffff67"/>
<rect x="774.10" y="1056.82" width="49.80" height="12.47" fill="#ffff72"/>
<rect x="774.10" y="1044.96" width="49.80" height="12.47" fill="#ffff7d"/>
<rect x="774.10" y="1033.09" width="49.80" height="12.47" fill="#ffff88"/>
<rect x="774.10" y="1021.23" width="49.80" height="12.47" fill="#ffff92"/>
<rect x="774.10" y="1009.36" width="49.80" height="12.47" fill="#ffff9d"/>
<rect x="774.10" y="997.49" width="49.80" height="12.47" fill="#ffffa8"/>
<rect x="774.10" y="985.63" width="49.80" height="12.47" fill="#ffffb3"/>
<rect x="774.10" y="973.76" width="49.80" height="12.47" fill="#ffffbe"/>
<rect x="774.10" y="961.90" width="49.80" height="12.47" fill="#ffffc9"/>
<rect x="774.10" y="950.03" width="49.80" height="12.47" fill="#ffffd4"/>
<rect x="774.10" y="938.16" width="49.80" height="12.47" fill="#ffffde"/>
<rect x="774.10" y="926.30" width="49.80" height="12.47" fill="#ffffe9"/>
<rect x="774.10" y="914.43" width="49.80" height="12.47" fill="#fffff4"/>
<rect x="774.10" y="902.57" width="49.80" height="12.47" fill="#ffffff"/>
<rect x="774.10" y="890.70" width="49.80" height="12.47" fill="#ffffff"/>
<rect x="774.10" y="890.70" width="49.80" height="593.30" fill="none" stroke="#1a1a1a" stroke-width="1.3"/>
<text x="847.5" y="1483.5" font-size="33.7">0.0000</text>
<text x="847.5" y="1412.3" font-size="33.7">0.0375</text>
<text x="847.5" y="1341.1" font-size="33.7">0.0750</text>
<text x="847.5" y="1269.9" font-size="33.7">0.1125</text>
<text x="847.5" y="1198.8" font-size="33.7">0.1500</text>
<text x="847.5" y="1127.6" font-size="33.7">0.1875</text>
<text x="847.5" y="1056.4" font-size="33.7">0.2250</text>
<text x="847.5" y="985.2" font-size="33.7">0.2625</text>
<text x="847.5" y="914.0" font-size="33.7">0.3000</text>
<path d="M823.90 1472.13h11.2M823.90 1400.94h11.2M823.90 1329.74h11.2M823.90 1258.55h11.2M823.90 1187.35h11.2M823.90 1116.15h11.2M823.90 1044.96h11.2M823.90 973.76h11.2M823.90 902.57h11.2" stroke="#111" stroke-width="1.25" fill="none"/>
<text x="736.6" y="858.5" font-size="41.5">|<tspan dy="-2.2">&lt;</tspan><tspan dy="2.2">q|</tspan></text>
<text transform="translate(806,858.8) scale(1.22,1)" font-size="36" font-family="'Liberation Serif',serif">ψ</text>
<text x="834.5" y="869.0" font-size="26.5">n</text>
<text x="851" y="858.5" font-size="41.5"><tspan dy="-2.2">&gt;</tspan><tspan dy="2.2">|</tspan></text>
<text x="885" y="840.7" font-size="26">2</text>
</svg>
</body></html>
